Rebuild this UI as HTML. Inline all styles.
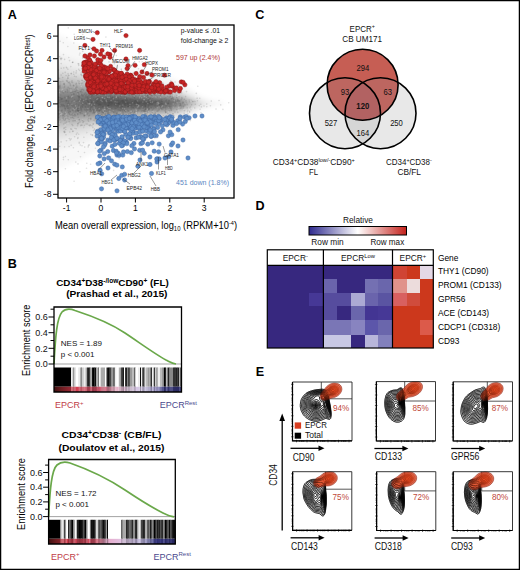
<!DOCTYPE html>
<html><head><meta charset="utf-8"><style>html,body{margin:0;padding:0;background:#fff;}svg{display:block;font-family:"Liberation Sans", sans-serif;}</style></head>
<body><svg width="520" height="570" viewBox="0 0 520 570">
<defs><filter id="blB" x="-5%" y="-5%" width="110%" height="110%"><feGaussianBlur stdDeviation="0.6 0"/></filter><clipPath id="clipA"><rect x="58" y="25" width="176" height="173"/></clipPath></defs>
<rect width="520" height="570" fill="#fff"/>
<rect x="0.6" y="0.6" width="518.8" height="568.8" fill="none" stroke="#000" stroke-width="1.3"/>
<text x="7.8" y="18.5" font-size="12.6" font-weight="bold" fill="#000">A</text>
<text x="7.8" y="267.8" font-size="12.6" font-weight="bold" fill="#000">B</text>
<text x="255.3" y="18.8" font-size="12.6" font-weight="bold" fill="#000">C</text>
<text x="255.5" y="209.6" font-size="12.6" font-weight="bold" fill="#000">D</text>
<text x="255.7" y="375.9" font-size="12.6" font-weight="bold" fill="#000">E</text>
<g clip-path="url(#clipA)">
<defs><filter id="blA" x="-10%" y="-30%" width="120%" height="160%"><feGaussianBlur stdDeviation="2.2"/></filter></defs>
<g filter="url(#blA)">
<path d="M56,34.0 59,35.0 62,36.1 65,37.1 68,39.2 71,40.2 74,42.3 77,43.3 80,44.4 83,46.4 86,48.5 89,49.5 92,51.5 95,52.6 98,54.6 101,55.7 104,56.7 107,57.8 110,58.8 113,59.9 116,60.9 119,62.0 122,63.0 125,64.0 128,65.0 131,66.0 134,67.1 137,68.1 140,69.1 143,69.1 146,70.1 149,71.1 152,72.1 155,72.2 158,73.2 161,74.2 164,74.2 167,75.2 170,76.2 173,78.2 176,79.2 179,81.3 182,83.3 185,85.3 188,87.3 191,89.3 194,91.3 197,93.3 200,95.4 203,96.4 206,97.4 209,98.4 212,99.4 215,100.4 218,100.4 221,101.4 224,102.5 227,103.5 230,103.5 233,103.5 236,103.5 236,103.5 233,103.5 230,103.5 227,103.5 224,104.5 221,105.4 218,106.4 215,106.4 212,107.4 209,108.4 206,109.4 203,110.4 200,111.4 197,113.3 194,115.3 191,117.3 188,119.3 185,121.3 182,123.3 179,125.3 176,127.2 173,128.2 170,130.2 167,131.2 164,132.2 161,132.2 158,133.2 155,134.2 152,134.1 149,135.1 146,136.1 143,137.1 140,137.1 137,138.1 134,139.1 131,140.0 128,141.0 125,142.0 122,143.0 119,144.0 116,144.9 113,145.9 110,146.8 107,147.8 104,148.7 101,149.7 98,150.6 95,152.6 92,153.5 89,155.5 86,156.5 83,158.4 80,160.4 77,161.3 74,162.3 71,164.2 68,165.2 65,167.1 62,168.1 59,169.0 56,170.0Z" fill="#000" fill-opacity="0.030"/>
<path d="M56,54.0 59,54.0 62,55.1 65,56.1 68,57.2 71,58.2 74,59.3 77,60.3 80,61.4 83,62.4 86,63.5 89,64.5 92,65.5 95,66.6 98,67.6 101,68.7 104,68.7 107,69.8 110,70.8 113,70.9 116,71.9 119,73.0 122,73.0 125,74.0 128,75.0 131,76.0 134,76.1 137,77.1 140,78.1 143,78.1 146,79.1 149,79.1 152,80.1 155,80.2 158,81.2 161,82.2 164,82.2 167,83.2 170,83.2 173,85.2 176,86.2 179,88.3 182,89.3 185,90.3 188,92.3 191,93.3 194,95.3 197,96.3 200,98.4 203,99.4 206,100.4 209,101.4 212,102.4 215,103.4 218,103.4 221,103.4 224,103.5 227,103.5 230,103.5 233,103.5 236,103.5 236,103.5 233,103.5 230,103.5 227,103.5 224,103.5 221,103.4 218,103.4 215,103.4 212,104.4 209,105.4 206,106.4 203,107.4 200,108.4 197,110.3 194,111.3 191,113.3 188,114.3 185,116.3 182,117.3 179,118.3 176,120.2 173,121.2 170,123.2 167,123.2 164,124.2 161,124.2 158,125.2 155,126.2 152,126.1 149,127.1 146,127.1 143,128.1 140,128.1 137,129.1 134,130.1 131,130.0 128,131.0 125,132.0 122,133.0 119,133.0 116,133.9 113,134.9 110,134.8 107,135.8 104,136.7 101,136.7 98,137.6 95,138.6 92,139.5 89,140.5 86,141.5 83,142.4 80,143.4 77,144.3 74,145.3 71,146.2 68,147.2 65,148.1 62,149.1 59,150.0 56,150.0Z" fill="#000" fill-opacity="0.041"/>
<path d="M56,65.0 59,65.0 62,65.1 65,66.1 68,67.2 71,68.2 74,68.3 77,69.3 80,70.4 83,71.4 86,71.5 89,72.5 92,73.5 95,74.6 98,74.6 101,75.7 104,76.7 107,76.8 110,77.8 113,77.9 116,78.9 119,79.0 122,80.0 125,80.0 128,81.0 131,82.0 134,82.1 137,83.1 140,83.1 143,84.1 146,84.1 149,85.1 152,85.1 155,85.2 158,86.2 161,86.2 164,87.2 167,87.2 170,88.2 173,89.2 176,90.2 179,91.3 182,92.3 185,93.3 188,95.3 191,96.3 194,97.3 197,98.3 200,100.4 203,101.4 206,103.4 209,103.4 212,103.4 215,103.4 218,103.4 221,103.4 224,103.5 227,103.5 230,103.5 233,103.5 236,103.5 236,103.5 233,103.5 230,103.5 227,103.5 224,103.5 221,103.4 218,103.4 215,103.4 212,103.4 209,103.4 206,103.4 203,105.4 200,106.4 197,108.3 194,109.3 191,110.3 188,111.3 185,113.3 182,114.3 179,115.3 176,116.2 173,117.2 170,118.2 167,119.2 164,119.2 161,120.2 158,120.2 155,121.2 152,121.1 149,121.1 146,122.1 143,122.1 140,123.1 137,123.1 134,124.1 131,124.0 128,125.0 125,126.0 122,126.0 119,127.0 116,126.9 113,127.9 110,127.8 107,128.8 104,128.7 101,129.7 98,130.6 95,130.6 92,131.5 89,132.5 86,133.5 83,133.4 80,134.4 77,135.3 74,136.3 71,136.2 68,137.2 65,138.1 62,139.1 59,139.0 56,139.0Z" fill="#000" fill-opacity="0.054"/>
<path d="M56,72.0 59,72.0 62,72.1 65,73.1 68,73.2 71,74.2 74,75.3 77,75.3 80,76.4 83,76.4 86,77.5 89,78.5 92,78.5 95,79.6 98,79.6 101,80.7 104,80.7 107,81.8 110,81.8 113,82.9 116,82.9 119,84.0 122,84.0 125,85.0 128,85.0 131,85.0 134,86.1 137,86.1 140,87.1 143,87.1 146,88.1 149,88.1 152,88.1 155,89.2 158,89.2 161,89.2 164,90.2 167,90.2 170,90.2 173,92.2 176,93.2 179,93.3 182,94.3 185,95.3 188,97.3 191,98.3 194,99.3 197,101.3 200,103.4 203,103.4 206,103.4 209,103.4 212,103.4 215,103.4 218,103.4 221,103.4 224,103.5 227,103.5 230,103.5 233,103.5 236,103.5 236,103.5 233,103.5 230,103.5 227,103.5 224,103.5 221,103.4 218,103.4 215,103.4 212,103.4 209,103.4 206,103.4 203,103.4 200,103.4 197,105.3 194,107.3 191,108.3 188,109.3 185,111.3 182,112.3 179,113.3 176,113.2 173,114.2 170,116.2 167,116.2 164,116.2 161,117.2 158,117.2 155,117.2 152,118.1 149,118.1 146,118.1 143,119.1 140,119.1 137,120.1 134,120.1 131,121.0 128,121.0 125,121.0 122,122.0 119,122.0 116,122.9 113,122.9 110,123.8 107,123.8 104,124.7 101,124.7 98,125.6 95,125.6 92,126.5 89,126.5 86,127.5 83,128.4 80,128.4 77,129.3 74,129.3 71,130.2 68,131.2 65,131.1 62,132.1 59,132.0 56,132.0Z" fill="#000" fill-opacity="0.068"/>
<path d="M56,77.0 59,77.0 62,78.1 65,78.1 68,79.2 71,79.2 74,79.3 77,80.3 80,80.4 83,81.4 86,81.5 89,82.5 92,82.5 95,83.6 98,83.6 101,84.7 104,84.7 107,84.8 110,85.8 113,85.9 116,85.9 119,87.0 122,87.0 125,88.0 128,88.0 131,88.0 134,89.1 137,89.1 140,89.1 143,90.1 146,90.1 149,90.1 152,91.1 155,91.2 158,91.2 161,92.2 164,92.2 167,92.2 170,93.2 173,94.2 176,94.2 179,95.3 182,96.3 185,97.3 188,98.3 191,100.3 194,101.3 197,103.3 200,103.4 203,103.4 206,103.4 209,103.4 212,103.4 215,103.4 218,103.4 221,103.4 224,103.5 227,103.5 230,103.5 233,103.5 236,103.5 236,103.5 233,103.5 230,103.5 227,103.5 224,103.5 221,103.4 218,103.4 215,103.4 212,103.4 209,103.4 206,103.4 203,103.4 200,103.4 197,103.3 194,105.3 191,106.3 188,108.3 185,109.3 182,110.3 179,111.3 176,112.2 173,112.2 170,113.2 167,114.2 164,114.2 161,114.2 158,115.2 155,115.2 152,115.1 149,116.1 146,116.1 143,116.1 140,117.1 137,117.1 134,117.1 131,118.0 128,118.0 125,118.0 122,119.0 119,119.0 116,119.9 113,119.9 110,119.8 107,120.8 104,120.7 101,120.7 98,121.6 95,121.6 92,122.5 89,122.5 86,123.5 83,123.4 80,124.4 77,124.3 74,125.3 71,125.2 68,125.2 65,126.1 62,126.1 59,127.0 56,127.0Z" fill="#000" fill-opacity="0.085"/>
<path d="M56,82.0 59,82.0 62,82.1 65,83.1 68,83.2 71,83.2 74,83.3 77,84.3 80,84.4 83,84.4 86,85.5 89,85.5 92,85.5 95,86.6 98,86.6 101,86.7 104,87.7 107,87.8 110,87.8 113,88.9 116,88.9 119,89.0 122,90.0 125,90.0 128,90.0 131,91.0 134,91.1 137,91.1 140,91.1 143,92.1 146,92.1 149,92.1 152,93.1 155,93.2 158,93.2 161,94.2 164,94.2 167,94.2 170,94.2 173,95.2 176,96.2 179,97.3 182,98.3 185,99.3 188,100.3 191,102.3 194,103.3 197,103.3 200,103.4 203,103.4 206,103.4 209,103.4 212,103.4 215,103.4 218,103.4 221,103.4 224,103.5 227,103.5 230,103.5 233,103.5 236,103.5 236,103.5 233,103.5 230,103.5 227,103.5 224,103.5 221,103.4 218,103.4 215,103.4 212,103.4 209,103.4 206,103.4 203,103.4 200,103.4 197,103.3 194,103.3 191,104.3 188,106.3 185,107.3 182,108.3 179,109.3 176,110.2 173,111.2 170,112.2 167,112.2 164,112.2 161,112.2 158,113.2 155,113.2 152,113.1 149,114.1 146,114.1 143,114.1 140,115.1 137,115.1 134,115.1 131,115.0 128,116.0 125,116.0 122,116.0 119,117.0 116,116.9 113,116.9 110,117.8 107,117.8 104,117.7 101,118.7 98,118.6 95,118.6 92,119.5 89,119.5 86,119.5 83,120.4 80,120.4 77,120.3 74,121.3 71,121.2 68,121.2 65,121.1 62,122.1 59,122.0 56,122.0Z" fill="#000" fill-opacity="0.093"/>
<path d="M56,86.0 59,86.0 62,86.1 65,87.1 68,87.2 71,87.2 74,87.3 77,87.3 80,87.4 83,88.4 86,88.5 89,88.5 92,88.5 95,88.6 98,89.6 101,89.7 104,89.7 107,89.8 110,90.8 113,90.9 116,90.9 119,91.0 122,92.0 125,92.0 128,92.0 131,92.0 134,93.1 137,93.1 140,93.1 143,93.1 146,94.1 149,94.1 152,94.1 155,95.2 158,95.2 161,95.2 164,95.2 167,96.2 170,96.2 173,97.2 176,98.2 179,98.3 182,99.3 185,100.3 188,103.3 191,103.3 194,103.3 197,103.3 200,103.4 203,103.4 206,103.4 209,103.4 212,103.4 215,103.4 218,103.4 221,103.4 224,103.5 227,103.5 230,103.5 233,103.5 236,103.5 236,103.5 233,103.5 230,103.5 227,103.5 224,103.5 221,103.4 218,103.4 215,103.4 212,103.4 209,103.4 206,103.4 203,103.4 200,103.4 197,103.3 194,103.3 191,103.3 188,103.3 185,106.3 182,107.3 179,108.3 176,108.2 173,109.2 170,110.2 167,110.2 164,111.2 161,111.2 158,111.2 155,111.2 152,112.1 149,112.1 146,112.1 143,113.1 140,113.1 137,113.1 134,113.1 131,114.0 128,114.0 125,114.0 122,114.0 119,115.0 116,114.9 113,114.9 110,114.8 107,115.8 104,115.7 101,115.7 98,115.6 95,116.6 92,116.5 89,116.5 86,116.5 83,116.4 80,117.4 77,117.3 74,117.3 71,117.2 68,117.2 65,117.1 62,118.1 59,118.0 56,118.0Z" fill="#000" fill-opacity="0.103"/>
<path d="M56,91.0 59,91.0 62,91.1 65,91.1 68,91.2 71,91.2 74,91.3 77,91.3 80,91.4 83,91.4 86,91.5 89,91.5 92,91.5 95,91.6 98,91.6 101,91.7 104,91.7 107,91.8 110,92.8 113,92.9 116,92.9 119,93.0 122,93.0 125,94.0 128,94.0 131,94.0 134,94.1 137,95.1 140,95.1 143,95.1 146,95.1 149,96.1 152,96.1 155,96.2 158,96.2 161,96.2 164,97.2 167,97.2 170,97.2 173,98.2 176,99.2 179,100.3 182,101.3 185,103.3 188,103.3 191,103.3 194,103.3 197,103.3 200,103.4 203,103.4 206,103.4 209,103.4 212,103.4 215,103.4 218,103.4 221,103.4 224,103.5 227,103.5 230,103.5 233,103.5 236,103.5 236,103.5 233,103.5 230,103.5 227,103.5 224,103.5 221,103.4 218,103.4 215,103.4 212,103.4 209,103.4 206,103.4 203,103.4 200,103.4 197,103.3 194,103.3 191,103.3 188,103.3 185,103.3 182,105.3 179,106.3 176,107.2 173,108.2 170,109.2 167,109.2 164,109.2 161,110.2 158,110.2 155,110.2 152,110.1 149,110.1 146,111.1 143,111.1 140,111.1 137,111.1 134,112.1 131,112.0 128,112.0 125,112.0 122,113.0 119,113.0 116,112.9 113,112.9 110,112.8 107,113.8 104,113.7 101,113.7 98,113.6 95,113.6 92,113.5 89,113.5 86,113.5 83,113.4 80,113.4 77,113.3 74,113.3 71,113.2 68,113.2 65,113.1 62,113.1 59,113.0 56,113.0Z" fill="#000" fill-opacity="0.115"/>
<path d="M56,97.0 59,97.0 62,96.1 65,96.1 68,95.2 71,95.2 74,95.3 77,94.3 80,94.4 83,94.4 86,94.5 89,94.5 92,93.5 95,93.6 98,93.6 101,93.7 104,93.7 107,94.8 110,94.8 113,94.9 116,94.9 119,95.0 122,95.0 125,96.0 128,96.0 131,96.0 134,96.1 137,96.1 140,96.1 143,97.1 146,97.1 149,97.1 152,97.1 155,98.2 158,98.2 161,98.2 164,98.2 167,98.2 170,99.2 173,100.2 176,101.2 179,103.3 182,103.3 185,103.3 188,103.3 191,103.3 194,103.3 197,103.3 200,103.4 203,103.4 206,103.4 209,103.4 212,103.4 215,103.4 218,103.4 221,103.4 224,103.5 227,103.5 230,103.5 233,103.5 236,103.5 236,103.5 233,103.5 230,103.5 227,103.5 224,103.5 221,103.4 218,103.4 215,103.4 212,103.4 209,103.4 206,103.4 203,103.4 200,103.4 197,103.3 194,103.3 191,103.3 188,103.3 185,103.3 182,103.3 179,103.3 176,105.2 173,106.2 170,107.2 167,108.2 164,108.2 161,108.2 158,108.2 155,108.2 152,109.1 149,109.1 146,109.1 143,109.1 140,110.1 137,110.1 134,110.1 131,110.0 128,110.0 125,110.0 122,111.0 119,111.0 116,110.9 113,110.9 110,110.8 107,110.8 104,111.7 101,111.7 98,111.6 95,111.6 92,111.5 89,110.5 86,110.5 83,110.4 80,110.4 77,110.3 74,109.3 71,109.2 68,109.2 65,108.1 62,108.1 59,107.0 56,107.0Z" fill="#000" fill-opacity="0.130"/>
<path d="M56,102.0 59,102.0 62,102.1 65,102.1 68,102.2 71,102.2 74,102.3 77,102.3 80,100.4 83,99.4 86,98.5 89,97.5 92,97.5 95,96.6 98,96.6 101,96.7 104,96.7 107,96.8 110,96.8 113,96.9 116,96.9 119,97.0 122,97.0 125,97.0 128,98.0 131,98.0 134,98.1 137,98.1 140,98.1 143,98.1 146,98.1 149,99.1 152,99.1 155,99.2 158,99.2 161,100.2 164,100.2 167,100.2 170,100.2 173,102.2 176,103.2 179,103.3 182,103.3 185,103.3 188,103.3 191,103.3 194,103.3 197,103.3 200,103.4 203,103.4 206,103.4 209,103.4 212,103.4 215,103.4 218,103.4 221,103.4 224,103.5 227,103.5 230,103.5 233,103.5 236,103.5 236,103.5 233,103.5 230,103.5 227,103.5 224,103.5 221,103.4 218,103.4 215,103.4 212,103.4 209,103.4 206,103.4 203,103.4 200,103.4 197,103.3 194,103.3 191,103.3 188,103.3 185,103.3 182,103.3 179,103.3 176,103.2 173,104.2 170,106.2 167,106.2 164,106.2 161,106.2 158,107.2 155,107.2 152,107.1 149,107.1 146,108.1 143,108.1 140,108.1 137,108.1 134,108.1 131,108.0 128,108.0 125,109.0 122,109.0 119,109.0 116,108.9 113,108.9 110,108.8 107,108.8 104,108.7 101,108.7 98,108.6 95,108.6 92,107.5 89,107.5 86,106.5 83,105.4 80,104.4 77,102.3 74,102.3 71,102.2 68,102.2 65,102.1 62,102.1 59,102.0 56,102.0Z" fill="#000" fill-opacity="0.149"/>
<path d="M56,102.0 59,102.0 62,102.1 65,102.1 68,102.2 71,102.2 74,102.3 77,102.3 80,102.4 83,102.4 86,102.5 89,102.5 92,102.5 95,101.6 98,99.6 101,99.7 104,99.7 107,99.8 110,99.8 113,99.9 116,99.9 119,100.0 122,100.0 125,100.0 128,100.0 131,100.0 134,100.1 137,100.1 140,100.1 143,100.1 146,101.1 149,101.1 152,101.1 155,102.2 158,102.2 161,102.2 164,103.2 167,103.2 170,103.2 173,103.2 176,103.2 179,103.3 182,103.3 185,103.3 188,103.3 191,103.3 194,103.3 197,103.3 200,103.4 203,103.4 206,103.4 209,103.4 212,103.4 215,103.4 218,103.4 221,103.4 224,103.5 227,103.5 230,103.5 233,103.5 236,103.5 236,103.5 233,103.5 230,103.5 227,103.5 224,103.5 221,103.4 218,103.4 215,103.4 212,103.4 209,103.4 206,103.4 203,103.4 200,103.4 197,103.3 194,103.3 191,103.3 188,103.3 185,103.3 182,103.3 179,103.3 176,103.2 173,103.2 170,103.2 167,103.2 164,103.2 161,104.2 158,104.2 155,104.2 152,105.1 149,105.1 146,105.1 143,106.1 140,106.1 137,106.1 134,106.1 131,106.0 128,106.0 125,106.0 122,106.0 119,106.0 116,105.9 113,105.9 110,105.8 107,105.8 104,105.7 101,105.7 98,105.6 95,103.6 92,102.5 89,102.5 86,102.5 83,102.4 80,102.4 77,102.3 74,102.3 71,102.2 68,102.2 65,102.1 62,102.1 59,102.0 56,102.0Z" fill="#000" fill-opacity="0.175"/>
</g>
<g fill="#444" fill-opacity="0.16">
<circle cx="70.7" cy="117.7" r="0.8"/><circle cx="68.2" cy="112.8" r="0.8"/><circle cx="177.8" cy="99.0" r="0.8"/><circle cx="161.1" cy="103.4" r="0.8"/><circle cx="78.8" cy="97.3" r="0.8"/><circle cx="84.7" cy="109.6" r="0.8"/><circle cx="108.1" cy="91.7" r="0.8"/><circle cx="62.0" cy="104.9" r="0.8"/><circle cx="99.1" cy="108.9" r="0.8"/><circle cx="127.1" cy="94.0" r="0.8"/><circle cx="75.9" cy="87.9" r="0.8"/><circle cx="102.4" cy="85.1" r="0.8"/><circle cx="140.0" cy="108.7" r="0.8"/><circle cx="76.0" cy="84.3" r="0.8"/><circle cx="104.0" cy="88.4" r="0.8"/><circle cx="149.1" cy="86.5" r="0.8"/><circle cx="62.9" cy="73.3" r="0.8"/><circle cx="190.0" cy="107.7" r="0.8"/><circle cx="103.6" cy="97.5" r="0.8"/><circle cx="88.3" cy="106.9" r="0.8"/><circle cx="165.8" cy="112.5" r="0.8"/><circle cx="179.9" cy="103.3" r="0.8"/><circle cx="70.8" cy="66.6" r="0.8"/><circle cx="86.4" cy="99.7" r="0.8"/><circle cx="167.8" cy="113.6" r="0.8"/><circle cx="76.4" cy="70.9" r="0.8"/><circle cx="61.2" cy="68.3" r="0.8"/><circle cx="129.2" cy="85.1" r="0.8"/><circle cx="112.5" cy="86.7" r="0.8"/><circle cx="125.2" cy="107.1" r="0.8"/><circle cx="93.4" cy="112.3" r="0.8"/><circle cx="111.6" cy="123.2" r="0.8"/><circle cx="148.9" cy="105.4" r="0.8"/><circle cx="216.0" cy="109.1" r="0.8"/><circle cx="58.6" cy="110.1" r="0.8"/><circle cx="113.6" cy="170.4" r="0.8"/><circle cx="109.0" cy="89.4" r="0.8"/><circle cx="133.3" cy="72.6" r="0.8"/><circle cx="82.6" cy="58.3" r="0.8"/><circle cx="150.3" cy="90.2" r="0.8"/><circle cx="80.2" cy="112.1" r="0.8"/><circle cx="101.7" cy="94.2" r="0.8"/><circle cx="138.5" cy="120.4" r="0.8"/><circle cx="160.6" cy="92.1" r="0.8"/><circle cx="176.7" cy="97.7" r="0.8"/><circle cx="64.0" cy="83.5" r="0.8"/><circle cx="124.6" cy="89.7" r="0.8"/><circle cx="66.7" cy="106.9" r="0.8"/><circle cx="113.7" cy="72.7" r="0.8"/><circle cx="182.9" cy="102.3" r="0.8"/><circle cx="123.3" cy="112.3" r="0.8"/><circle cx="77.1" cy="109.9" r="0.8"/><circle cx="149.1" cy="91.4" r="0.8"/><circle cx="111.9" cy="97.7" r="0.8"/><circle cx="195.3" cy="104.3" r="0.8"/><circle cx="147.1" cy="80.2" r="0.8"/><circle cx="192.6" cy="101.5" r="0.8"/><circle cx="166.4" cy="99.8" r="0.8"/><circle cx="151.5" cy="95.2" r="0.8"/><circle cx="68.3" cy="159.7" r="0.8"/><circle cx="112.5" cy="76.9" r="0.8"/><circle cx="95.3" cy="132.7" r="0.8"/><circle cx="144.4" cy="110.0" r="0.8"/><circle cx="90.5" cy="110.6" r="0.8"/><circle cx="99.1" cy="104.7" r="0.8"/><circle cx="119.3" cy="81.5" r="0.8"/><circle cx="87.8" cy="100.9" r="0.8"/><circle cx="115.5" cy="115.3" r="0.8"/><circle cx="92.5" cy="135.4" r="0.8"/><circle cx="94.3" cy="92.2" r="0.8"/><circle cx="113.1" cy="133.7" r="0.8"/><circle cx="169.6" cy="106.2" r="0.8"/><circle cx="102.6" cy="98.7" r="0.8"/><circle cx="68.3" cy="105.8" r="0.8"/><circle cx="144.5" cy="111.2" r="0.8"/><circle cx="122.4" cy="107.1" r="0.8"/><circle cx="114.1" cy="99.5" r="0.8"/><circle cx="60.5" cy="92.0" r="0.8"/><circle cx="95.4" cy="51.3" r="0.8"/><circle cx="58.8" cy="143.3" r="0.8"/><circle cx="157.3" cy="94.6" r="0.8"/><circle cx="118.7" cy="114.9" r="0.8"/><circle cx="163.3" cy="93.7" r="0.8"/><circle cx="127.2" cy="102.6" r="0.8"/><circle cx="168.6" cy="103.3" r="0.8"/><circle cx="83.1" cy="63.3" r="0.8"/><circle cx="90.7" cy="100.3" r="0.8"/><circle cx="96.4" cy="123.8" r="0.8"/><circle cx="165.1" cy="110.7" r="0.8"/><circle cx="86.8" cy="89.2" r="0.8"/><circle cx="58.8" cy="114.9" r="0.8"/><circle cx="145.1" cy="113.8" r="0.8"/><circle cx="79.7" cy="110.4" r="0.8"/><circle cx="126.4" cy="97.7" r="0.8"/><circle cx="117.0" cy="100.4" r="0.8"/><circle cx="102.1" cy="115.0" r="0.8"/><circle cx="140.1" cy="117.4" r="0.8"/><circle cx="211.3" cy="101.1" r="0.8"/><circle cx="126.3" cy="101.1" r="0.8"/><circle cx="145.9" cy="101.8" r="0.8"/><circle cx="92.6" cy="111.1" r="0.8"/><circle cx="119.4" cy="102.8" r="0.8"/><circle cx="100.8" cy="92.4" r="0.8"/><circle cx="88.5" cy="87.0" r="0.8"/><circle cx="78.2" cy="117.3" r="0.8"/><circle cx="148.3" cy="118.9" r="0.8"/><circle cx="81.3" cy="72.8" r="0.8"/><circle cx="178.4" cy="85.4" r="0.8"/><circle cx="66.3" cy="67.3" r="0.8"/><circle cx="80.5" cy="156.8" r="0.8"/><circle cx="121.0" cy="96.2" r="0.8"/><circle cx="148.7" cy="102.0" r="0.8"/><circle cx="83.0" cy="122.4" r="0.8"/><circle cx="65.0" cy="101.0" r="0.8"/><circle cx="102.3" cy="109.6" r="0.8"/><circle cx="97.9" cy="124.1" r="0.8"/><circle cx="148.3" cy="126.8" r="0.8"/><circle cx="65.7" cy="129.5" r="0.8"/><circle cx="92.0" cy="102.3" r="0.8"/><circle cx="71.4" cy="82.0" r="0.8"/><circle cx="87.9" cy="87.5" r="0.8"/><circle cx="159.6" cy="92.1" r="0.8"/><circle cx="59.1" cy="125.2" r="0.8"/><circle cx="154.9" cy="95.2" r="0.8"/><circle cx="142.7" cy="88.5" r="0.8"/><circle cx="99.3" cy="85.4" r="0.8"/><circle cx="106.6" cy="69.6" r="0.8"/><circle cx="96.4" cy="94.1" r="0.8"/><circle cx="68.1" cy="96.7" r="0.8"/><circle cx="68.6" cy="111.8" r="0.8"/><circle cx="104.2" cy="100.0" r="0.8"/><circle cx="98.8" cy="99.5" r="0.8"/><circle cx="81.9" cy="99.1" r="0.8"/><circle cx="147.5" cy="95.6" r="0.8"/><circle cx="125.8" cy="95.9" r="0.8"/><circle cx="85.1" cy="68.5" r="0.8"/><circle cx="117.9" cy="90.9" r="0.8"/><circle cx="93.4" cy="123.7" r="0.8"/><circle cx="93.5" cy="98.2" r="0.8"/><circle cx="166.7" cy="89.3" r="0.8"/><circle cx="110.0" cy="95.6" r="0.8"/><circle cx="175.1" cy="82.0" r="0.8"/><circle cx="183.1" cy="108.5" r="0.8"/><circle cx="103.2" cy="59.9" r="0.8"/><circle cx="151.8" cy="95.7" r="0.8"/><circle cx="162.2" cy="103.6" r="0.8"/><circle cx="134.3" cy="135.6" r="0.8"/><circle cx="114.1" cy="122.0" r="0.8"/><circle cx="74.5" cy="105.4" r="0.8"/><circle cx="116.6" cy="102.8" r="0.8"/><circle cx="162.8" cy="104.8" r="0.8"/><circle cx="81.2" cy="125.0" r="0.8"/><circle cx="78.6" cy="110.8" r="0.8"/><circle cx="78.7" cy="105.9" r="0.8"/><circle cx="152.2" cy="112.7" r="0.8"/><circle cx="92.8" cy="94.8" r="0.8"/><circle cx="63.4" cy="93.0" r="0.8"/><circle cx="99.6" cy="110.2" r="0.8"/><circle cx="79.2" cy="143.2" r="0.8"/><circle cx="81.5" cy="83.6" r="0.8"/><circle cx="95.5" cy="63.7" r="0.8"/><circle cx="68.4" cy="102.1" r="0.8"/><circle cx="63.4" cy="159.6" r="0.8"/><circle cx="146.8" cy="98.3" r="0.8"/><circle cx="128.4" cy="113.6" r="0.8"/><circle cx="81.5" cy="103.5" r="0.8"/><circle cx="182.7" cy="103.7" r="0.8"/><circle cx="91.4" cy="94.7" r="0.8"/><circle cx="94.8" cy="68.6" r="0.8"/><circle cx="161.0" cy="90.6" r="0.8"/><circle cx="67.5" cy="106.4" r="0.8"/><circle cx="98.3" cy="92.9" r="0.8"/><circle cx="109.2" cy="93.7" r="0.8"/><circle cx="200.8" cy="104.2" r="0.8"/><circle cx="149.5" cy="103.8" r="0.8"/><circle cx="110.9" cy="85.3" r="0.8"/><circle cx="111.4" cy="95.7" r="0.8"/><circle cx="96.5" cy="91.5" r="0.8"/><circle cx="170.9" cy="106.6" r="0.8"/><circle cx="78.4" cy="104.6" r="0.8"/><circle cx="172.9" cy="114.0" r="0.8"/><circle cx="99.2" cy="111.3" r="0.8"/><circle cx="72.4" cy="62.5" r="0.8"/><circle cx="128.8" cy="142.5" r="0.8"/><circle cx="114.6" cy="95.4" r="0.8"/><circle cx="86.5" cy="168.2" r="0.8"/><circle cx="61.1" cy="75.1" r="0.8"/><circle cx="173.0" cy="113.7" r="0.8"/><circle cx="95.8" cy="71.0" r="0.8"/><circle cx="81.9" cy="95.3" r="0.8"/><circle cx="61.1" cy="141.9" r="0.8"/><circle cx="105.9" cy="37.1" r="0.8"/><circle cx="88.5" cy="145.4" r="0.8"/><circle cx="117.0" cy="115.4" r="0.8"/><circle cx="131.5" cy="107.8" r="0.8"/><circle cx="118.1" cy="110.1" r="0.8"/><circle cx="91.9" cy="125.8" r="0.8"/><circle cx="147.2" cy="115.2" r="0.8"/><circle cx="108.8" cy="105.5" r="0.8"/><circle cx="104.8" cy="88.3" r="0.8"/><circle cx="120.1" cy="90.4" r="0.8"/><circle cx="149.3" cy="108.7" r="0.8"/><circle cx="184.3" cy="99.3" r="0.8"/><circle cx="90.9" cy="119.6" r="0.8"/><circle cx="148.3" cy="106.0" r="0.8"/><circle cx="113.6" cy="112.3" r="0.8"/><circle cx="142.4" cy="101.1" r="0.8"/><circle cx="92.8" cy="127.4" r="0.8"/><circle cx="142.4" cy="110.8" r="0.8"/><circle cx="116.5" cy="92.0" r="0.8"/><circle cx="61.8" cy="58.4" r="0.8"/><circle cx="67.8" cy="46.5" r="0.8"/><circle cx="88.8" cy="91.3" r="0.8"/><circle cx="113.7" cy="90.2" r="0.8"/><circle cx="76.1" cy="72.9" r="0.8"/><circle cx="75.2" cy="110.4" r="0.8"/><circle cx="83.5" cy="142.6" r="0.8"/><circle cx="90.7" cy="111.5" r="0.8"/><circle cx="155.5" cy="95.1" r="0.8"/><circle cx="82.1" cy="106.4" r="0.8"/><circle cx="105.1" cy="88.6" r="0.8"/><circle cx="94.2" cy="112.8" r="0.8"/><circle cx="130.6" cy="119.0" r="0.8"/><circle cx="68.2" cy="98.1" r="0.8"/><circle cx="72.5" cy="82.4" r="0.8"/><circle cx="172.2" cy="98.3" r="0.8"/><circle cx="184.2" cy="113.3" r="0.8"/><circle cx="175.8" cy="100.0" r="0.8"/><circle cx="74.1" cy="181.2" r="0.8"/><circle cx="97.2" cy="93.9" r="0.8"/><circle cx="97.2" cy="94.3" r="0.8"/><circle cx="75.6" cy="111.9" r="0.8"/><circle cx="201.4" cy="106.9" r="0.8"/><circle cx="77.9" cy="80.7" r="0.8"/><circle cx="125.0" cy="141.2" r="0.8"/><circle cx="106.8" cy="112.0" r="0.8"/><circle cx="98.4" cy="83.3" r="0.8"/><circle cx="162.8" cy="69.2" r="0.8"/><circle cx="126.6" cy="90.6" r="0.8"/><circle cx="159.1" cy="80.7" r="0.8"/><circle cx="112.8" cy="97.0" r="0.8"/><circle cx="161.4" cy="90.3" r="0.8"/><circle cx="67.6" cy="90.8" r="0.8"/><circle cx="139.3" cy="61.8" r="0.8"/><circle cx="134.1" cy="112.8" r="0.8"/><circle cx="87.8" cy="113.3" r="0.8"/><circle cx="117.6" cy="97.2" r="0.8"/><circle cx="121.5" cy="94.6" r="0.8"/><circle cx="145.5" cy="106.7" r="0.8"/><circle cx="113.3" cy="120.3" r="0.8"/><circle cx="97.1" cy="101.6" r="0.8"/><circle cx="122.8" cy="113.2" r="0.8"/><circle cx="129.5" cy="115.8" r="0.8"/><circle cx="90.2" cy="124.9" r="0.8"/><circle cx="66.9" cy="68.0" r="0.8"/><circle cx="78.1" cy="63.7" r="0.8"/><circle cx="135.6" cy="100.6" r="0.8"/><circle cx="61.9" cy="101.4" r="0.8"/><circle cx="163.1" cy="83.3" r="0.8"/><circle cx="78.3" cy="151.5" r="0.8"/><circle cx="146.2" cy="96.8" r="0.8"/><circle cx="125.4" cy="100.3" r="0.8"/><circle cx="84.9" cy="114.8" r="0.8"/><circle cx="156.7" cy="97.0" r="0.8"/><circle cx="80.3" cy="106.9" r="0.8"/><circle cx="84.6" cy="63.5" r="0.8"/><circle cx="106.9" cy="111.0" r="0.8"/><circle cx="158.2" cy="114.2" r="0.8"/><circle cx="95.3" cy="83.2" r="0.8"/><circle cx="60.1" cy="100.3" r="0.8"/><circle cx="79.9" cy="171.7" r="0.8"/><circle cx="71.4" cy="103.3" r="0.8"/><circle cx="60.1" cy="41.2" r="0.8"/><circle cx="104.1" cy="132.4" r="0.8"/><circle cx="159.5" cy="90.5" r="0.8"/><circle cx="63.1" cy="104.6" r="0.8"/><circle cx="101.5" cy="114.3" r="0.8"/><circle cx="69.3" cy="82.0" r="0.8"/><circle cx="80.4" cy="91.6" r="0.8"/><circle cx="170.4" cy="108.1" r="0.8"/><circle cx="190.4" cy="106.0" r="0.8"/><circle cx="124.0" cy="96.7" r="0.8"/><circle cx="152.6" cy="117.2" r="0.8"/><circle cx="60.3" cy="101.9" r="0.8"/><circle cx="191.0" cy="109.7" r="0.8"/><circle cx="119.7" cy="111.2" r="0.8"/><circle cx="65.2" cy="72.4" r="0.8"/><circle cx="84.2" cy="116.4" r="0.8"/><circle cx="144.8" cy="110.0" r="0.8"/><circle cx="100.1" cy="104.5" r="0.8"/><circle cx="60.9" cy="81.8" r="0.8"/><circle cx="79.8" cy="97.3" r="0.8"/><circle cx="80.7" cy="98.7" r="0.8"/><circle cx="126.8" cy="98.8" r="0.8"/><circle cx="162.2" cy="88.5" r="0.8"/><circle cx="108.3" cy="105.5" r="0.8"/><circle cx="77.5" cy="96.0" r="0.8"/><circle cx="170.3" cy="84.3" r="0.8"/><circle cx="79.9" cy="122.0" r="0.8"/><circle cx="104.1" cy="100.9" r="0.8"/><circle cx="139.1" cy="116.1" r="0.8"/><circle cx="148.4" cy="107.4" r="0.8"/><circle cx="65.4" cy="168.7" r="0.8"/><circle cx="80.3" cy="91.6" r="0.8"/><circle cx="78.7" cy="69.2" r="0.8"/><circle cx="153.0" cy="96.0" r="0.8"/><circle cx="156.3" cy="101.9" r="0.8"/><circle cx="67.9" cy="116.4" r="0.8"/><circle cx="183.7" cy="106.5" r="0.8"/><circle cx="59.1" cy="86.1" r="0.8"/><circle cx="104.4" cy="122.0" r="0.8"/><circle cx="102.8" cy="88.5" r="0.8"/><circle cx="162.1" cy="99.2" r="0.8"/><circle cx="61.3" cy="99.6" r="0.8"/><circle cx="71.2" cy="145.2" r="0.8"/><circle cx="97.2" cy="101.0" r="0.8"/><circle cx="86.6" cy="94.6" r="0.8"/><circle cx="175.9" cy="89.1" r="0.8"/><circle cx="62.8" cy="116.0" r="0.8"/><circle cx="150.2" cy="97.9" r="0.8"/><circle cx="117.9" cy="85.4" r="0.8"/><circle cx="58.7" cy="97.2" r="0.8"/><circle cx="79.2" cy="81.2" r="0.8"/><circle cx="68.6" cy="100.2" r="0.8"/><circle cx="61.5" cy="110.5" r="0.8"/><circle cx="103.6" cy="91.1" r="0.8"/><circle cx="58.4" cy="70.0" r="0.8"/><circle cx="115.1" cy="96.7" r="0.8"/><circle cx="187.9" cy="110.3" r="0.8"/><circle cx="79.5" cy="111.7" r="0.8"/><circle cx="162.1" cy="116.6" r="0.8"/><circle cx="62.6" cy="106.3" r="0.8"/><circle cx="119.3" cy="111.5" r="0.8"/><circle cx="152.0" cy="125.7" r="0.8"/><circle cx="71.2" cy="96.7" r="0.8"/><circle cx="142.5" cy="106.1" r="0.8"/><circle cx="82.1" cy="113.6" r="0.8"/><circle cx="139.0" cy="106.3" r="0.8"/><circle cx="76.4" cy="103.9" r="0.8"/><circle cx="148.8" cy="118.3" r="0.8"/><circle cx="160.1" cy="102.2" r="0.8"/><circle cx="97.2" cy="138.0" r="0.8"/><circle cx="89.9" cy="125.7" r="0.8"/><circle cx="145.9" cy="86.5" r="0.8"/><circle cx="117.3" cy="101.4" r="0.8"/><circle cx="96.2" cy="69.4" r="0.8"/><circle cx="222.9" cy="109.4" r="0.8"/><circle cx="147.6" cy="107.3" r="0.8"/><circle cx="73.4" cy="105.2" r="0.8"/><circle cx="90.0" cy="82.4" r="0.8"/><circle cx="125.6" cy="120.5" r="0.8"/><circle cx="130.3" cy="87.6" r="0.8"/><circle cx="122.0" cy="106.8" r="0.8"/><circle cx="92.3" cy="134.9" r="0.8"/><circle cx="169.0" cy="101.1" r="0.8"/><circle cx="191.0" cy="100.3" r="0.8"/><circle cx="128.8" cy="115.1" r="0.8"/><circle cx="113.9" cy="117.3" r="0.8"/><circle cx="109.3" cy="104.0" r="0.8"/><circle cx="123.7" cy="135.5" r="0.8"/><circle cx="123.5" cy="113.7" r="0.8"/><circle cx="134.8" cy="98.5" r="0.8"/><circle cx="155.7" cy="81.3" r="0.8"/><circle cx="132.0" cy="112.4" r="0.8"/><circle cx="174.2" cy="115.3" r="0.8"/><circle cx="96.2" cy="95.3" r="0.8"/><circle cx="153.6" cy="86.1" r="0.8"/><circle cx="185.9" cy="102.6" r="0.8"/><circle cx="97.4" cy="108.6" r="0.8"/><circle cx="105.8" cy="113.4" r="0.8"/><circle cx="99.0" cy="128.4" r="0.8"/><circle cx="107.8" cy="105.9" r="0.8"/><circle cx="72.9" cy="106.5" r="0.8"/><circle cx="87.9" cy="80.5" r="0.8"/><circle cx="77.8" cy="114.8" r="0.8"/><circle cx="128.4" cy="111.3" r="0.8"/><circle cx="94.2" cy="105.9" r="0.8"/><circle cx="100.4" cy="107.2" r="0.8"/><circle cx="65.9" cy="102.8" r="0.8"/><circle cx="112.6" cy="97.9" r="0.8"/><circle cx="101.9" cy="111.9" r="0.8"/><circle cx="102.6" cy="106.8" r="0.8"/><circle cx="74.6" cy="136.8" r="0.8"/><circle cx="148.9" cy="62.0" r="0.8"/><circle cx="94.8" cy="112.9" r="0.8"/><circle cx="160.0" cy="104.6" r="0.8"/><circle cx="173.0" cy="119.9" r="0.8"/><circle cx="107.9" cy="98.2" r="0.8"/><circle cx="83.5" cy="127.4" r="0.8"/><circle cx="64.9" cy="120.4" r="0.8"/><circle cx="64.8" cy="105.7" r="0.8"/><circle cx="63.8" cy="119.7" r="0.8"/><circle cx="117.0" cy="93.2" r="0.8"/><circle cx="77.9" cy="123.7" r="0.8"/><circle cx="71.0" cy="97.5" r="0.8"/><circle cx="58.0" cy="97.4" r="0.8"/><circle cx="110.7" cy="116.0" r="0.8"/><circle cx="134.9" cy="116.1" r="0.8"/><circle cx="72.7" cy="115.5" r="0.8"/><circle cx="131.6" cy="105.9" r="0.8"/><circle cx="71.1" cy="73.4" r="0.8"/><circle cx="183.2" cy="102.6" r="0.8"/><circle cx="160.4" cy="109.2" r="0.8"/><circle cx="60.0" cy="85.9" r="0.8"/><circle cx="78.7" cy="63.9" r="0.8"/><circle cx="144.5" cy="103.4" r="0.8"/><circle cx="81.0" cy="74.4" r="0.8"/><circle cx="134.9" cy="103.1" r="0.8"/><circle cx="106.3" cy="90.3" r="0.8"/><circle cx="150.8" cy="75.9" r="0.8"/><circle cx="123.0" cy="116.0" r="0.8"/><circle cx="161.3" cy="104.4" r="0.8"/><circle cx="88.6" cy="108.9" r="0.8"/><circle cx="98.5" cy="137.5" r="0.8"/><circle cx="145.6" cy="89.4" r="0.8"/><circle cx="69.8" cy="132.0" r="0.8"/><circle cx="128.5" cy="98.0" r="0.8"/><circle cx="151.6" cy="92.1" r="0.8"/><circle cx="150.7" cy="86.5" r="0.8"/><circle cx="145.0" cy="107.3" r="0.8"/><circle cx="134.3" cy="129.6" r="0.8"/><circle cx="145.9" cy="114.0" r="0.8"/><circle cx="144.2" cy="104.2" r="0.8"/><circle cx="125.2" cy="111.4" r="0.8"/><circle cx="58.7" cy="86.8" r="0.8"/><circle cx="90.5" cy="118.7" r="0.8"/><circle cx="167.7" cy="96.3" r="0.8"/><circle cx="112.7" cy="68.5" r="0.8"/><circle cx="66.5" cy="140.7" r="0.8"/><circle cx="118.6" cy="99.9" r="0.8"/><circle cx="91.1" cy="107.6" r="0.8"/><circle cx="102.5" cy="112.3" r="0.8"/><circle cx="88.7" cy="118.5" r="0.8"/><circle cx="84.6" cy="94.3" r="0.8"/><circle cx="96.8" cy="137.6" r="0.8"/><circle cx="87.3" cy="103.9" r="0.8"/><circle cx="90.6" cy="107.5" r="0.8"/><circle cx="148.3" cy="99.4" r="0.8"/><circle cx="109.3" cy="103.1" r="0.8"/><circle cx="92.7" cy="79.9" r="0.8"/><circle cx="78.8" cy="83.1" r="0.8"/><circle cx="89.8" cy="104.8" r="0.8"/><circle cx="74.9" cy="128.5" r="0.8"/><circle cx="125.2" cy="95.2" r="0.8"/><circle cx="103.1" cy="94.8" r="0.8"/><circle cx="189.6" cy="112.3" r="0.8"/><circle cx="119.4" cy="123.7" r="0.8"/><circle cx="153.9" cy="95.8" r="0.8"/><circle cx="144.1" cy="101.8" r="0.8"/><circle cx="84.4" cy="125.4" r="0.8"/><circle cx="125.2" cy="105.5" r="0.8"/><circle cx="120.5" cy="102.0" r="0.8"/><circle cx="194.7" cy="108.0" r="0.8"/><circle cx="126.8" cy="135.5" r="0.8"/><circle cx="134.5" cy="111.6" r="0.8"/><circle cx="63.3" cy="42.8" r="0.8"/><circle cx="74.5" cy="76.2" r="0.8"/><circle cx="109.0" cy="61.9" r="0.8"/><circle cx="164.3" cy="98.6" r="0.8"/><circle cx="135.1" cy="105.8" r="0.8"/><circle cx="85.4" cy="110.2" r="0.8"/><circle cx="106.2" cy="95.8" r="0.8"/><circle cx="104.0" cy="94.5" r="0.8"/><circle cx="180.7" cy="92.5" r="0.8"/><circle cx="122.0" cy="81.3" r="0.8"/><circle cx="158.0" cy="121.6" r="0.8"/><circle cx="142.2" cy="61.8" r="0.8"/><circle cx="82.7" cy="96.2" r="0.8"/><circle cx="134.9" cy="103.4" r="0.8"/><circle cx="157.0" cy="88.7" r="0.8"/><circle cx="164.5" cy="118.8" r="0.8"/><circle cx="78.9" cy="96.7" r="0.8"/><circle cx="61.3" cy="98.7" r="0.8"/><circle cx="119.9" cy="93.5" r="0.8"/><circle cx="103.0" cy="77.0" r="0.8"/><circle cx="154.9" cy="138.4" r="0.8"/><circle cx="134.3" cy="102.5" r="0.8"/><circle cx="59.7" cy="120.4" r="0.8"/><circle cx="166.9" cy="118.4" r="0.8"/><circle cx="153.7" cy="96.6" r="0.8"/><circle cx="74.9" cy="114.7" r="0.8"/><circle cx="75.6" cy="120.7" r="0.8"/><circle cx="154.7" cy="94.3" r="0.8"/><circle cx="73.7" cy="74.2" r="0.8"/><circle cx="131.2" cy="124.1" r="0.8"/><circle cx="79.3" cy="119.9" r="0.8"/><circle cx="130.3" cy="99.9" r="0.8"/><circle cx="72.9" cy="62.3" r="0.8"/><circle cx="161.3" cy="94.1" r="0.8"/><circle cx="133.0" cy="99.8" r="0.8"/><circle cx="142.6" cy="124.3" r="0.8"/><circle cx="108.4" cy="93.3" r="0.8"/><circle cx="178.9" cy="101.3" r="0.8"/><circle cx="98.2" cy="108.5" r="0.8"/><circle cx="175.3" cy="102.4" r="0.8"/><circle cx="150.9" cy="84.8" r="0.8"/><circle cx="180.3" cy="105.3" r="0.8"/><circle cx="95.8" cy="106.4" r="0.8"/><circle cx="125.9" cy="103.3" r="0.8"/><circle cx="184.9" cy="104.4" r="0.8"/><circle cx="134.9" cy="122.4" r="0.8"/><circle cx="128.2" cy="84.3" r="0.8"/><circle cx="157.4" cy="104.5" r="0.8"/><circle cx="148.7" cy="102.9" r="0.8"/><circle cx="125.8" cy="105.3" r="0.8"/><circle cx="193.7" cy="116.4" r="0.8"/><circle cx="108.9" cy="103.0" r="0.8"/><circle cx="77.2" cy="133.0" r="0.8"/><circle cx="91.2" cy="101.9" r="0.8"/><circle cx="184.5" cy="110.8" r="0.8"/><circle cx="130.0" cy="113.1" r="0.8"/><circle cx="179.1" cy="96.8" r="0.8"/><circle cx="90.2" cy="109.5" r="0.8"/><circle cx="106.4" cy="132.1" r="0.8"/><circle cx="75.8" cy="115.8" r="0.8"/><circle cx="59.7" cy="116.8" r="0.8"/><circle cx="90.3" cy="108.8" r="0.8"/><circle cx="106.5" cy="94.4" r="0.8"/><circle cx="92.0" cy="96.9" r="0.8"/><circle cx="115.9" cy="140.8" r="0.8"/><circle cx="174.8" cy="85.4" r="0.8"/><circle cx="60.4" cy="58.5" r="0.8"/><circle cx="99.2" cy="110.9" r="0.8"/><circle cx="86.4" cy="65.9" r="0.8"/><circle cx="77.6" cy="92.8" r="0.8"/><circle cx="96.8" cy="60.3" r="0.8"/><circle cx="132.0" cy="95.2" r="0.8"/><circle cx="93.6" cy="107.7" r="0.8"/><circle cx="128.3" cy="102.3" r="0.8"/><circle cx="151.8" cy="104.2" r="0.8"/><circle cx="131.5" cy="91.3" r="0.8"/><circle cx="64.2" cy="84.2" r="0.8"/><circle cx="125.0" cy="103.0" r="0.8"/><circle cx="179.7" cy="92.0" r="0.8"/><circle cx="97.7" cy="97.2" r="0.8"/><circle cx="133.2" cy="80.5" r="0.8"/><circle cx="93.1" cy="113.3" r="0.8"/><circle cx="140.0" cy="98.5" r="0.8"/><circle cx="179.8" cy="101.0" r="0.8"/><circle cx="83.6" cy="90.1" r="0.8"/><circle cx="110.6" cy="156.7" r="0.8"/><circle cx="90.6" cy="98.0" r="0.8"/><circle cx="69.1" cy="82.9" r="0.8"/><circle cx="143.9" cy="89.4" r="0.8"/><circle cx="69.5" cy="60.6" r="0.8"/><circle cx="62.5" cy="99.0" r="0.8"/><circle cx="121.7" cy="96.8" r="0.8"/><circle cx="130.3" cy="91.2" r="0.8"/><circle cx="152.2" cy="110.2" r="0.8"/><circle cx="131.5" cy="99.4" r="0.8"/><circle cx="146.0" cy="107.0" r="0.8"/><circle cx="67.5" cy="81.1" r="0.8"/><circle cx="76.3" cy="128.7" r="0.8"/><circle cx="96.6" cy="98.8" r="0.8"/><circle cx="105.9" cy="105.1" r="0.8"/><circle cx="61.0" cy="104.6" r="0.8"/><circle cx="85.1" cy="81.4" r="0.8"/><circle cx="93.4" cy="110.8" r="0.8"/><circle cx="69.2" cy="113.9" r="0.8"/><circle cx="140.0" cy="102.5" r="0.8"/><circle cx="90.8" cy="91.3" r="0.8"/><circle cx="64.1" cy="114.6" r="0.8"/><circle cx="78.4" cy="107.0" r="0.8"/><circle cx="181.6" cy="105.8" r="0.8"/><circle cx="181.8" cy="97.5" r="0.8"/><circle cx="77.7" cy="110.4" r="0.8"/><circle cx="84.6" cy="115.5" r="0.8"/><circle cx="59.9" cy="119.3" r="0.8"/><circle cx="80.4" cy="107.4" r="0.8"/><circle cx="110.6" cy="116.1" r="0.8"/><circle cx="142.1" cy="102.2" r="0.8"/><circle cx="115.0" cy="108.5" r="0.8"/><circle cx="161.5" cy="109.1" r="0.8"/><circle cx="110.3" cy="117.4" r="0.8"/><circle cx="136.5" cy="101.3" r="0.8"/><circle cx="59.8" cy="87.9" r="0.8"/><circle cx="76.2" cy="76.7" r="0.8"/><circle cx="74.0" cy="91.8" r="0.8"/><circle cx="116.5" cy="106.1" r="0.8"/><circle cx="132.1" cy="101.9" r="0.8"/><circle cx="67.7" cy="108.4" r="0.8"/><circle cx="145.7" cy="111.4" r="0.8"/><circle cx="69.3" cy="138.6" r="0.8"/><circle cx="153.4" cy="94.1" r="0.8"/><circle cx="76.3" cy="90.4" r="0.8"/><circle cx="98.1" cy="101.3" r="0.8"/><circle cx="154.6" cy="116.9" r="0.8"/><circle cx="152.6" cy="98.2" r="0.8"/><circle cx="128.6" cy="93.7" r="0.8"/><circle cx="149.2" cy="99.6" r="0.8"/><circle cx="106.1" cy="108.8" r="0.8"/><circle cx="109.5" cy="105.3" r="0.8"/><circle cx="155.7" cy="123.6" r="0.8"/><circle cx="71.1" cy="138.9" r="0.8"/><circle cx="68.3" cy="27.9" r="0.8"/><circle cx="76.4" cy="134.4" r="0.8"/><circle cx="69.1" cy="119.5" r="0.8"/><circle cx="82.7" cy="51.4" r="0.8"/><circle cx="159.8" cy="105.4" r="0.8"/><circle cx="91.2" cy="91.5" r="0.8"/><circle cx="171.3" cy="98.9" r="0.8"/><circle cx="172.8" cy="97.6" r="0.8"/><circle cx="175.0" cy="112.1" r="0.8"/><circle cx="81.4" cy="89.6" r="0.8"/><circle cx="166.2" cy="77.0" r="0.8"/><circle cx="87.2" cy="86.1" r="0.8"/><circle cx="78.5" cy="110.5" r="0.8"/><circle cx="61.0" cy="58.4" r="0.8"/><circle cx="116.8" cy="79.5" r="0.8"/><circle cx="130.8" cy="125.3" r="0.8"/><circle cx="73.8" cy="115.8" r="0.8"/><circle cx="96.9" cy="81.6" r="0.8"/><circle cx="206.8" cy="106.7" r="0.8"/><circle cx="81.7" cy="80.2" r="0.8"/><circle cx="186.0" cy="118.9" r="0.8"/><circle cx="67.8" cy="77.1" r="0.8"/><circle cx="133.6" cy="113.4" r="0.8"/><circle cx="72.3" cy="97.4" r="0.8"/><circle cx="148.9" cy="93.7" r="0.8"/><circle cx="68.5" cy="96.4" r="0.8"/><circle cx="111.0" cy="125.5" r="0.8"/><circle cx="183.3" cy="107.1" r="0.8"/><circle cx="114.0" cy="137.8" r="0.8"/><circle cx="96.6" cy="102.9" r="0.8"/><circle cx="117.8" cy="107.2" r="0.8"/><circle cx="134.7" cy="101.3" r="0.8"/><circle cx="64.3" cy="127.8" r="0.8"/><circle cx="134.9" cy="118.6" r="0.8"/><circle cx="93.5" cy="130.6" r="0.8"/><circle cx="89.2" cy="144.9" r="0.8"/><circle cx="82.8" cy="104.2" r="0.8"/><circle cx="152.9" cy="109.8" r="0.8"/><circle cx="66.9" cy="105.4" r="0.8"/><circle cx="83.7" cy="121.5" r="0.8"/><circle cx="145.1" cy="95.1" r="0.8"/><circle cx="100.5" cy="117.2" r="0.8"/><circle cx="129.9" cy="87.9" r="0.8"/><circle cx="160.3" cy="95.6" r="0.8"/><circle cx="197.2" cy="98.4" r="0.8"/><circle cx="80.8" cy="125.6" r="0.8"/><circle cx="228.7" cy="102.8" r="0.8"/><circle cx="59.6" cy="113.7" r="0.8"/><circle cx="114.1" cy="115.6" r="0.8"/><circle cx="89.6" cy="115.2" r="0.8"/><circle cx="73.7" cy="94.1" r="0.8"/><circle cx="165.7" cy="112.4" r="0.8"/><circle cx="72.0" cy="105.4" r="0.8"/><circle cx="129.5" cy="106.6" r="0.8"/><circle cx="197.8" cy="86.3" r="0.8"/><circle cx="135.7" cy="96.1" r="0.8"/><circle cx="107.9" cy="93.4" r="0.8"/><circle cx="73.5" cy="85.6" r="0.8"/><circle cx="158.2" cy="100.8" r="0.8"/><circle cx="104.2" cy="111.6" r="0.8"/><circle cx="118.5" cy="97.4" r="0.8"/><circle cx="112.9" cy="85.8" r="0.8"/><circle cx="74.0" cy="94.1" r="0.8"/><circle cx="73.0" cy="100.7" r="0.8"/><circle cx="68.8" cy="57.5" r="0.8"/><circle cx="118.8" cy="100.7" r="0.8"/><circle cx="107.7" cy="51.7" r="0.8"/><circle cx="142.7" cy="118.5" r="0.8"/><circle cx="109.9" cy="126.6" r="0.8"/><circle cx="80.7" cy="108.8" r="0.8"/><circle cx="63.1" cy="90.8" r="0.8"/><circle cx="143.6" cy="110.9" r="0.8"/><circle cx="110.4" cy="111.0" r="0.8"/><circle cx="67.8" cy="118.4" r="0.8"/><circle cx="86.0" cy="97.0" r="0.8"/><circle cx="166.0" cy="106.4" r="0.8"/><circle cx="82.9" cy="72.5" r="0.8"/><circle cx="115.5" cy="103.7" r="0.8"/><circle cx="122.0" cy="100.9" r="0.8"/><circle cx="82.6" cy="83.0" r="0.8"/><circle cx="78.0" cy="163.9" r="0.8"/><circle cx="147.3" cy="94.9" r="0.8"/><circle cx="85.6" cy="107.2" r="0.8"/><circle cx="153.3" cy="102.7" r="0.8"/><circle cx="80.7" cy="104.4" r="0.8"/><circle cx="94.8" cy="101.7" r="0.8"/><circle cx="151.7" cy="91.2" r="0.8"/><circle cx="156.3" cy="102.0" r="0.8"/><circle cx="120.4" cy="113.8" r="0.8"/><circle cx="65.7" cy="127.3" r="0.8"/><circle cx="97.6" cy="80.6" r="0.8"/><circle cx="78.8" cy="98.5" r="0.8"/><circle cx="64.4" cy="132.5" r="0.8"/><circle cx="93.1" cy="124.2" r="0.8"/><circle cx="101.4" cy="87.0" r="0.8"/><circle cx="161.4" cy="108.8" r="0.8"/><circle cx="123.2" cy="101.2" r="0.8"/><circle cx="135.1" cy="124.0" r="0.8"/><circle cx="78.7" cy="65.4" r="0.8"/><circle cx="110.2" cy="122.2" r="0.8"/><circle cx="142.4" cy="85.7" r="0.8"/><circle cx="90.3" cy="109.5" r="0.8"/><circle cx="58.3" cy="101.1" r="0.8"/><circle cx="167.6" cy="93.3" r="0.8"/><circle cx="147.8" cy="103.2" r="0.8"/><circle cx="93.1" cy="109.2" r="0.8"/><circle cx="151.1" cy="107.6" r="0.8"/><circle cx="137.4" cy="104.5" r="0.8"/><circle cx="88.8" cy="93.7" r="0.8"/><circle cx="112.6" cy="111.0" r="0.8"/><circle cx="95.8" cy="95.3" r="0.8"/><circle cx="109.4" cy="126.6" r="0.8"/><circle cx="98.9" cy="89.6" r="0.8"/><circle cx="149.0" cy="108.5" r="0.8"/><circle cx="106.2" cy="97.2" r="0.8"/><circle cx="72.6" cy="92.0" r="0.8"/><circle cx="176.8" cy="97.1" r="0.8"/><circle cx="111.5" cy="106.0" r="0.8"/><circle cx="74.8" cy="116.0" r="0.8"/><circle cx="117.9" cy="84.1" r="0.8"/><circle cx="79.8" cy="83.6" r="0.8"/><circle cx="145.7" cy="104.5" r="0.8"/><circle cx="95.6" cy="99.2" r="0.8"/><circle cx="107.6" cy="113.2" r="0.8"/><circle cx="160.2" cy="107.0" r="0.8"/><circle cx="100.0" cy="116.1" r="0.8"/><circle cx="104.8" cy="104.0" r="0.8"/><circle cx="144.9" cy="106.0" r="0.8"/><circle cx="108.7" cy="109.6" r="0.8"/><circle cx="145.6" cy="109.1" r="0.8"/><circle cx="79.2" cy="142.2" r="0.8"/><circle cx="77.0" cy="87.3" r="0.8"/><circle cx="150.3" cy="79.6" r="0.8"/><circle cx="76.4" cy="83.4" r="0.8"/><circle cx="66.9" cy="101.2" r="0.8"/><circle cx="115.9" cy="113.9" r="0.8"/><circle cx="64.0" cy="84.2" r="0.8"/><circle cx="166.3" cy="105.3" r="0.8"/><circle cx="88.2" cy="146.9" r="0.8"/><circle cx="189.2" cy="100.1" r="0.8"/><circle cx="92.2" cy="95.8" r="0.8"/><circle cx="132.3" cy="111.2" r="0.8"/><circle cx="143.4" cy="106.9" r="0.8"/><circle cx="69.0" cy="105.0" r="0.8"/><circle cx="58.5" cy="78.1" r="0.8"/><circle cx="97.2" cy="109.9" r="0.8"/><circle cx="65.2" cy="108.9" r="0.8"/><circle cx="82.5" cy="80.6" r="0.8"/><circle cx="88.6" cy="104.5" r="0.8"/><circle cx="136.0" cy="116.5" r="0.8"/><circle cx="110.1" cy="97.0" r="0.8"/><circle cx="85.2" cy="106.8" r="0.8"/><circle cx="187.4" cy="111.8" r="0.8"/><circle cx="84.7" cy="147.1" r="0.8"/><circle cx="78.0" cy="137.6" r="0.8"/><circle cx="103.3" cy="116.5" r="0.8"/><circle cx="85.8" cy="86.4" r="0.8"/><circle cx="116.7" cy="81.0" r="0.8"/><circle cx="171.0" cy="110.0" r="0.8"/><circle cx="134.7" cy="97.2" r="0.8"/><circle cx="68.0" cy="110.8" r="0.8"/><circle cx="129.4" cy="95.5" r="0.8"/><circle cx="59.5" cy="88.4" r="0.8"/><circle cx="82.6" cy="89.3" r="0.8"/><circle cx="86.9" cy="100.4" r="0.8"/><circle cx="89.2" cy="111.2" r="0.8"/><circle cx="120.8" cy="110.3" r="0.8"/><circle cx="87.4" cy="124.0" r="0.8"/><circle cx="88.4" cy="102.5" r="0.8"/><circle cx="62.7" cy="77.5" r="0.8"/><circle cx="74.2" cy="106.7" r="0.8"/><circle cx="99.0" cy="107.7" r="0.8"/><circle cx="139.3" cy="108.2" r="0.8"/><circle cx="61.6" cy="105.9" r="0.8"/><circle cx="113.8" cy="112.0" r="0.8"/><circle cx="92.0" cy="110.6" r="0.8"/><circle cx="85.7" cy="103.0" r="0.8"/><circle cx="126.1" cy="88.3" r="0.8"/><circle cx="69.6" cy="114.4" r="0.8"/><circle cx="116.9" cy="89.8" r="0.8"/><circle cx="117.1" cy="102.7" r="0.8"/><circle cx="117.0" cy="113.2" r="0.8"/><circle cx="68.1" cy="73.7" r="0.8"/><circle cx="69.4" cy="104.5" r="0.8"/><circle cx="97.7" cy="114.9" r="0.8"/><circle cx="153.8" cy="113.9" r="0.8"/><circle cx="65.1" cy="110.9" r="0.8"/><circle cx="103.4" cy="64.3" r="0.8"/><circle cx="119.6" cy="103.7" r="0.8"/><circle cx="73.7" cy="72.0" r="0.8"/><circle cx="180.9" cy="104.4" r="0.8"/><circle cx="59.9" cy="86.0" r="0.8"/><circle cx="120.5" cy="117.8" r="0.8"/><circle cx="105.3" cy="115.4" r="0.8"/><circle cx="128.5" cy="79.4" r="0.8"/><circle cx="119.3" cy="110.1" r="0.8"/><circle cx="151.0" cy="131.0" r="0.8"/><circle cx="65.7" cy="119.1" r="0.8"/><circle cx="75.6" cy="91.7" r="0.8"/><circle cx="72.5" cy="110.2" r="0.8"/><circle cx="177.8" cy="103.1" r="0.8"/><circle cx="113.2" cy="99.2" r="0.8"/><circle cx="90.6" cy="164.3" r="0.8"/><circle cx="108.5" cy="150.3" r="0.8"/><circle cx="166.0" cy="100.7" r="0.8"/><circle cx="155.2" cy="102.3" r="0.8"/><circle cx="123.2" cy="109.8" r="0.8"/><circle cx="74.6" cy="99.6" r="0.8"/><circle cx="168.1" cy="103.2" r="0.8"/><circle cx="143.1" cy="119.0" r="0.8"/><circle cx="108.1" cy="118.7" r="0.8"/><circle cx="128.2" cy="87.8" r="0.8"/><circle cx="83.9" cy="56.8" r="0.8"/><circle cx="110.4" cy="103.4" r="0.8"/><circle cx="78.4" cy="93.1" r="0.8"/><circle cx="148.9" cy="98.0" r="0.8"/><circle cx="71.4" cy="73.8" r="0.8"/><circle cx="137.5" cy="111.0" r="0.8"/><circle cx="65.9" cy="134.8" r="0.8"/><circle cx="107.9" cy="100.2" r="0.8"/><circle cx="151.4" cy="108.0" r="0.8"/><circle cx="121.3" cy="69.1" r="0.8"/><circle cx="118.7" cy="104.0" r="0.8"/><circle cx="99.3" cy="103.2" r="0.8"/><circle cx="172.3" cy="96.2" r="0.8"/><circle cx="95.4" cy="148.2" r="0.8"/><circle cx="70.3" cy="111.5" r="0.8"/><circle cx="90.9" cy="118.2" r="0.8"/><circle cx="129.7" cy="120.1" r="0.8"/><circle cx="96.0" cy="117.5" r="0.8"/><circle cx="77.5" cy="110.6" r="0.8"/><circle cx="147.4" cy="111.6" r="0.8"/><circle cx="166.6" cy="118.1" r="0.8"/><circle cx="120.4" cy="133.2" r="0.8"/><circle cx="69.2" cy="121.6" r="0.8"/><circle cx="66.1" cy="118.9" r="0.8"/><circle cx="58.4" cy="113.6" r="0.8"/><circle cx="161.4" cy="100.9" r="0.8"/><circle cx="145.7" cy="56.4" r="0.8"/><circle cx="126.4" cy="98.5" r="0.8"/><circle cx="88.6" cy="102.1" r="0.8"/><circle cx="139.5" cy="104.1" r="0.8"/><circle cx="87.0" cy="111.4" r="0.8"/><circle cx="112.5" cy="93.0" r="0.8"/><circle cx="99.1" cy="104.7" r="0.8"/><circle cx="116.4" cy="55.6" r="0.8"/><circle cx="151.8" cy="126.6" r="0.8"/><circle cx="112.7" cy="89.9" r="0.8"/><circle cx="187.2" cy="107.9" r="0.8"/><circle cx="127.7" cy="103.6" r="0.8"/><circle cx="94.1" cy="103.9" r="0.8"/><circle cx="86.9" cy="110.0" r="0.8"/><circle cx="81.6" cy="109.9" r="0.8"/><circle cx="81.3" cy="74.9" r="0.8"/><circle cx="90.3" cy="88.2" r="0.8"/><circle cx="165.5" cy="111.6" r="0.8"/><circle cx="108.9" cy="94.0" r="0.8"/><circle cx="69.1" cy="146.6" r="0.8"/><circle cx="181.2" cy="99.8" r="0.8"/><circle cx="107.7" cy="120.6" r="0.8"/><circle cx="157.0" cy="111.3" r="0.8"/><circle cx="71.8" cy="94.8" r="0.8"/><circle cx="139.3" cy="87.2" r="0.8"/><circle cx="146.1" cy="92.2" r="0.8"/><circle cx="150.2" cy="102.6" r="0.8"/><circle cx="71.8" cy="92.2" r="0.8"/><circle cx="164.2" cy="95.7" r="0.8"/><circle cx="138.0" cy="93.0" r="0.8"/><circle cx="120.4" cy="106.5" r="0.8"/><circle cx="159.0" cy="109.8" r="0.8"/><circle cx="111.7" cy="98.2" r="0.8"/><circle cx="117.9" cy="103.4" r="0.8"/><circle cx="100.7" cy="104.7" r="0.8"/><circle cx="98.8" cy="113.6" r="0.8"/><circle cx="103.3" cy="112.3" r="0.8"/><circle cx="112.7" cy="96.6" r="0.8"/><circle cx="88.6" cy="121.2" r="0.8"/><circle cx="137.2" cy="101.8" r="0.8"/><circle cx="77.6" cy="108.5" r="0.8"/><circle cx="172.2" cy="120.1" r="0.8"/><circle cx="69.7" cy="111.0" r="0.8"/><circle cx="127.1" cy="99.8" r="0.8"/><circle cx="58.4" cy="80.6" r="0.8"/><circle cx="95.8" cy="79.6" r="0.8"/><circle cx="144.8" cy="81.0" r="0.8"/><circle cx="83.9" cy="137.3" r="0.8"/><circle cx="142.2" cy="96.1" r="0.8"/><circle cx="117.6" cy="112.3" r="0.8"/><circle cx="64.6" cy="146.9" r="0.8"/><circle cx="118.8" cy="104.4" r="0.8"/><circle cx="107.0" cy="117.1" r="0.8"/><circle cx="157.7" cy="137.6" r="0.8"/><circle cx="136.2" cy="84.0" r="0.8"/><circle cx="114.3" cy="91.7" r="0.8"/><circle cx="123.6" cy="101.6" r="0.8"/><circle cx="93.4" cy="106.8" r="0.8"/><circle cx="82.0" cy="145.7" r="0.8"/><circle cx="151.2" cy="101.1" r="0.8"/><circle cx="161.1" cy="89.9" r="0.8"/><circle cx="64.7" cy="86.0" r="0.8"/><circle cx="96.2" cy="119.0" r="0.8"/><circle cx="89.0" cy="125.2" r="0.8"/><circle cx="77.7" cy="112.1" r="0.8"/><circle cx="177.8" cy="112.4" r="0.8"/><circle cx="108.9" cy="113.5" r="0.8"/><circle cx="79.5" cy="70.5" r="0.8"/><circle cx="161.1" cy="99.4" r="0.8"/><circle cx="96.1" cy="86.1" r="0.8"/><circle cx="60.8" cy="97.4" r="0.8"/><circle cx="64.7" cy="97.4" r="0.8"/><circle cx="186.5" cy="91.6" r="0.8"/><circle cx="70.8" cy="115.1" r="0.8"/><circle cx="99.8" cy="116.6" r="0.8"/><circle cx="88.0" cy="120.0" r="0.8"/><circle cx="79.5" cy="55.0" r="0.8"/><circle cx="139.0" cy="53.7" r="0.8"/><circle cx="82.0" cy="94.9" r="0.8"/><circle cx="128.5" cy="80.5" r="0.8"/><circle cx="75.1" cy="91.3" r="0.8"/><circle cx="59.5" cy="100.0" r="0.8"/><circle cx="98.6" cy="99.5" r="0.8"/><circle cx="64.6" cy="113.5" r="0.8"/><circle cx="71.7" cy="114.7" r="0.8"/><circle cx="123.6" cy="108.5" r="0.8"/><circle cx="85.2" cy="76.2" r="0.8"/><circle cx="132.4" cy="90.3" r="0.8"/><circle cx="65.0" cy="132.2" r="0.8"/><circle cx="157.9" cy="103.3" r="0.8"/><circle cx="172.5" cy="92.0" r="0.8"/><circle cx="80.7" cy="93.9" r="0.8"/><circle cx="65.2" cy="123.0" r="0.8"/><circle cx="169.1" cy="107.5" r="0.8"/><circle cx="168.3" cy="120.2" r="0.8"/><circle cx="181.3" cy="108.1" r="0.8"/><circle cx="63.5" cy="157.4" r="0.8"/><circle cx="157.0" cy="97.1" r="0.8"/><circle cx="98.7" cy="84.9" r="0.8"/><circle cx="162.7" cy="109.0" r="0.8"/><circle cx="83.9" cy="81.7" r="0.8"/><circle cx="107.3" cy="157.0" r="0.8"/><circle cx="140.1" cy="107.1" r="0.8"/><circle cx="58.0" cy="91.4" r="0.8"/><circle cx="210.4" cy="105.7" r="0.8"/><circle cx="82.8" cy="107.3" r="0.8"/><circle cx="75.7" cy="107.3" r="0.8"/><circle cx="153.6" cy="118.5" r="0.8"/><circle cx="73.0" cy="120.9" r="0.8"/><circle cx="148.5" cy="110.4" r="0.8"/><circle cx="73.6" cy="112.0" r="0.8"/><circle cx="138.4" cy="97.9" r="0.8"/><circle cx="178.1" cy="100.9" r="0.8"/><circle cx="64.5" cy="131.4" r="0.8"/><circle cx="72.8" cy="125.5" r="0.8"/><circle cx="82.0" cy="75.8" r="0.8"/><circle cx="150.4" cy="98.7" r="0.8"/><circle cx="77.5" cy="125.8" r="0.8"/><circle cx="81.7" cy="107.4" r="0.8"/><circle cx="115.0" cy="79.7" r="0.8"/><circle cx="109.3" cy="100.6" r="0.8"/><circle cx="98.7" cy="85.4" r="0.8"/><circle cx="168.0" cy="103.5" r="0.8"/><circle cx="125.7" cy="101.6" r="0.8"/><circle cx="122.8" cy="105.6" r="0.8"/><circle cx="115.8" cy="130.1" r="0.8"/><circle cx="108.5" cy="96.4" r="0.8"/><circle cx="128.6" cy="110.8" r="0.8"/><circle cx="108.1" cy="113.4" r="0.8"/><circle cx="66.5" cy="80.5" r="0.8"/><circle cx="66.2" cy="100.7" r="0.8"/><circle cx="187.9" cy="113.9" r="0.8"/><circle cx="71.6" cy="101.5" r="0.8"/><circle cx="98.6" cy="97.8" r="0.8"/><circle cx="105.6" cy="92.0" r="0.8"/><circle cx="73.0" cy="131.2" r="0.8"/><circle cx="86.3" cy="99.6" r="0.8"/><circle cx="177.9" cy="100.1" r="0.8"/><circle cx="127.2" cy="112.0" r="0.8"/><circle cx="80.9" cy="110.0" r="0.8"/><circle cx="61.0" cy="99.0" r="0.8"/><circle cx="59.2" cy="117.9" r="0.8"/><circle cx="59.6" cy="56.7" r="0.8"/><circle cx="60.6" cy="115.1" r="0.8"/><circle cx="146.7" cy="131.9" r="0.8"/><circle cx="69.5" cy="88.5" r="0.8"/><circle cx="132.7" cy="96.7" r="0.8"/><circle cx="104.6" cy="117.0" r="0.8"/><circle cx="124.8" cy="110.2" r="0.8"/><circle cx="163.6" cy="115.8" r="0.8"/><circle cx="199.3" cy="105.6" r="0.8"/><circle cx="78.6" cy="134.2" r="0.8"/><circle cx="127.5" cy="110.1" r="0.8"/><circle cx="78.3" cy="93.1" r="0.8"/><circle cx="157.6" cy="117.0" r="0.8"/><circle cx="125.2" cy="97.4" r="0.8"/><circle cx="77.7" cy="138.5" r="0.8"/><circle cx="112.0" cy="73.6" r="0.8"/><circle cx="63.5" cy="54.6" r="0.8"/><circle cx="206.7" cy="104.0" r="0.8"/><circle cx="145.6" cy="95.0" r="0.8"/><circle cx="165.8" cy="109.3" r="0.8"/><circle cx="67.6" cy="92.3" r="0.8"/><circle cx="131.7" cy="121.5" r="0.8"/><circle cx="59.9" cy="97.8" r="0.8"/><circle cx="128.5" cy="94.7" r="0.8"/><circle cx="153.9" cy="135.0" r="0.8"/><circle cx="130.6" cy="113.1" r="0.8"/><circle cx="85.8" cy="95.7" r="0.8"/><circle cx="116.9" cy="114.2" r="0.8"/><circle cx="116.8" cy="85.7" r="0.8"/><circle cx="91.5" cy="96.3" r="0.8"/><circle cx="139.7" cy="96.8" r="0.8"/><circle cx="138.5" cy="68.8" r="0.8"/><circle cx="74.4" cy="120.7" r="0.8"/><circle cx="101.3" cy="118.3" r="0.8"/><circle cx="108.4" cy="112.1" r="0.8"/><circle cx="100.8" cy="96.7" r="0.8"/><circle cx="122.9" cy="92.3" r="0.8"/><circle cx="117.9" cy="105.9" r="0.8"/><circle cx="135.2" cy="89.7" r="0.8"/><circle cx="70.2" cy="108.0" r="0.8"/><circle cx="116.8" cy="113.4" r="0.8"/><circle cx="108.9" cy="102.3" r="0.8"/><circle cx="106.9" cy="98.5" r="0.8"/><circle cx="107.1" cy="77.1" r="0.8"/><circle cx="93.0" cy="105.4" r="0.8"/><circle cx="141.5" cy="111.1" r="0.8"/><circle cx="141.8" cy="119.4" r="0.8"/><circle cx="126.0" cy="114.5" r="0.8"/><circle cx="149.0" cy="109.5" r="0.8"/><circle cx="118.6" cy="98.2" r="0.8"/><circle cx="79.3" cy="119.5" r="0.8"/><circle cx="127.8" cy="104.3" r="0.8"/><circle cx="128.4" cy="105.9" r="0.8"/><circle cx="95.0" cy="119.4" r="0.8"/><circle cx="125.8" cy="110.3" r="0.8"/><circle cx="87.4" cy="111.5" r="0.8"/><circle cx="179.8" cy="105.5" r="0.8"/><circle cx="58.3" cy="117.3" r="0.8"/><circle cx="116.1" cy="108.4" r="0.8"/><circle cx="130.5" cy="86.7" r="0.8"/><circle cx="60.2" cy="106.8" r="0.8"/><circle cx="60.6" cy="122.0" r="0.8"/><circle cx="97.9" cy="103.6" r="0.8"/><circle cx="181.6" cy="93.0" r="0.8"/><circle cx="69.1" cy="109.4" r="0.8"/><circle cx="115.9" cy="133.5" r="0.8"/><circle cx="135.1" cy="120.4" r="0.8"/><circle cx="158.9" cy="102.6" r="0.8"/><circle cx="101.9" cy="107.6" r="0.8"/><circle cx="170.4" cy="96.9" r="0.8"/><circle cx="122.6" cy="91.1" r="0.8"/><circle cx="124.6" cy="82.9" r="0.8"/><circle cx="68.3" cy="75.3" r="0.8"/><circle cx="96.1" cy="117.3" r="0.8"/><circle cx="93.8" cy="111.4" r="0.8"/><circle cx="162.9" cy="103.9" r="0.8"/><circle cx="134.6" cy="96.2" r="0.8"/><circle cx="175.7" cy="105.9" r="0.8"/><circle cx="86.5" cy="87.4" r="0.8"/><circle cx="165.3" cy="107.8" r="0.8"/><circle cx="128.6" cy="106.3" r="0.8"/><circle cx="63.9" cy="128.6" r="0.8"/><circle cx="120.1" cy="106.7" r="0.8"/><circle cx="97.6" cy="110.8" r="0.8"/><circle cx="84.7" cy="103.7" r="0.8"/><circle cx="66.9" cy="37.6" r="0.8"/><circle cx="130.1" cy="98.8" r="0.8"/><circle cx="63.3" cy="101.2" r="0.8"/><circle cx="82.4" cy="120.4" r="0.8"/><circle cx="111.9" cy="108.5" r="0.8"/><circle cx="87.8" cy="101.3" r="0.8"/><circle cx="104.9" cy="90.8" r="0.8"/><circle cx="96.3" cy="110.5" r="0.8"/><circle cx="67.4" cy="78.6" r="0.8"/><circle cx="66.9" cy="115.0" r="0.8"/><circle cx="68.1" cy="82.6" r="0.8"/><circle cx="148.5" cy="100.4" r="0.8"/><circle cx="82.7" cy="34.5" r="0.8"/><circle cx="162.8" cy="107.2" r="0.8"/><circle cx="96.6" cy="98.4" r="0.8"/><circle cx="169.0" cy="107.4" r="0.8"/><circle cx="159.3" cy="147.5" r="0.8"/><circle cx="62.5" cy="112.1" r="0.8"/><circle cx="94.7" cy="88.1" r="0.8"/><circle cx="100.3" cy="93.4" r="0.8"/><circle cx="90.8" cy="134.4" r="0.8"/><circle cx="202.4" cy="116.2" r="0.8"/><circle cx="100.4" cy="128.3" r="0.8"/><circle cx="114.9" cy="78.7" r="0.8"/><circle cx="106.2" cy="109.0" r="0.8"/><circle cx="172.4" cy="118.2" r="0.8"/><circle cx="138.5" cy="84.6" r="0.8"/><circle cx="120.7" cy="91.3" r="0.8"/><circle cx="197.4" cy="100.7" r="0.8"/><circle cx="150.0" cy="113.8" r="0.8"/><circle cx="85.1" cy="79.8" r="0.8"/><circle cx="123.4" cy="129.9" r="0.8"/><circle cx="62.9" cy="81.3" r="0.8"/><circle cx="105.1" cy="102.3" r="0.8"/><circle cx="78.1" cy="100.9" r="0.8"/><circle cx="70.4" cy="85.4" r="0.8"/><circle cx="180.3" cy="108.2" r="0.8"/><circle cx="66.6" cy="122.1" r="0.8"/><circle cx="201.0" cy="112.7" r="0.8"/><circle cx="172.3" cy="94.1" r="0.8"/><circle cx="106.9" cy="92.7" r="0.8"/><circle cx="104.9" cy="111.7" r="0.8"/><circle cx="98.4" cy="140.4" r="0.8"/><circle cx="156.6" cy="95.7" r="0.8"/><circle cx="62.2" cy="110.1" r="0.8"/><circle cx="115.1" cy="122.1" r="0.8"/><circle cx="111.0" cy="82.5" r="0.8"/><circle cx="110.7" cy="75.5" r="0.8"/><circle cx="66.3" cy="100.9" r="0.8"/><circle cx="72.7" cy="117.2" r="0.8"/><circle cx="141.3" cy="117.7" r="0.8"/><circle cx="83.8" cy="101.9" r="0.8"/><circle cx="124.5" cy="104.5" r="0.8"/><circle cx="155.6" cy="100.9" r="0.8"/><circle cx="76.7" cy="86.1" r="0.8"/><circle cx="111.1" cy="104.7" r="0.8"/><circle cx="159.4" cy="104.6" r="0.8"/><circle cx="137.3" cy="90.6" r="0.8"/><circle cx="120.6" cy="95.0" r="0.8"/><circle cx="104.5" cy="53.2" r="0.8"/><circle cx="112.2" cy="103.4" r="0.8"/><circle cx="99.4" cy="83.9" r="0.8"/><circle cx="99.5" cy="120.4" r="0.8"/><circle cx="118.9" cy="112.1" r="0.8"/><circle cx="63.5" cy="105.2" r="0.8"/><circle cx="87.7" cy="96.7" r="0.8"/><circle cx="107.2" cy="100.9" r="0.8"/><circle cx="130.5" cy="106.4" r="0.8"/><circle cx="116.0" cy="122.6" r="0.8"/><circle cx="73.7" cy="118.4" r="0.8"/><circle cx="106.2" cy="88.5" r="0.8"/><circle cx="161.1" cy="106.5" r="0.8"/><circle cx="173.0" cy="98.4" r="0.8"/><circle cx="154.0" cy="102.3" r="0.8"/><circle cx="62.9" cy="115.0" r="0.8"/><circle cx="163.6" cy="107.5" r="0.8"/><circle cx="118.8" cy="115.2" r="0.8"/><circle cx="85.2" cy="72.5" r="0.8"/><circle cx="135.6" cy="100.9" r="0.8"/><circle cx="120.8" cy="107.1" r="0.8"/><circle cx="65.0" cy="107.9" r="0.8"/><circle cx="91.9" cy="100.6" r="0.8"/><circle cx="100.8" cy="108.9" r="0.8"/><circle cx="93.7" cy="106.7" r="0.8"/><circle cx="138.5" cy="103.3" r="0.8"/><circle cx="66.1" cy="75.5" r="0.8"/><circle cx="81.4" cy="91.1" r="0.8"/><circle cx="59.5" cy="78.5" r="0.8"/><circle cx="169.2" cy="97.0" r="0.8"/><circle cx="93.9" cy="96.5" r="0.8"/><circle cx="102.2" cy="128.1" r="0.8"/><circle cx="73.6" cy="85.6" r="0.8"/><circle cx="161.0" cy="96.1" r="0.8"/><circle cx="169.2" cy="110.7" r="0.8"/><circle cx="123.0" cy="114.9" r="0.8"/><circle cx="79.7" cy="99.6" r="0.8"/><circle cx="93.0" cy="41.2" r="0.8"/><circle cx="102.6" cy="120.0" r="0.8"/><circle cx="70.1" cy="83.9" r="0.8"/><circle cx="148.0" cy="96.4" r="0.8"/><circle cx="77.8" cy="114.1" r="0.8"/><circle cx="135.0" cy="112.4" r="0.8"/><circle cx="183.2" cy="105.5" r="0.8"/><circle cx="180.2" cy="104.0" r="0.8"/><circle cx="155.8" cy="107.3" r="0.8"/><circle cx="63.6" cy="118.0" r="0.8"/><circle cx="120.4" cy="86.3" r="0.8"/><circle cx="120.3" cy="96.1" r="0.8"/><circle cx="146.7" cy="112.7" r="0.8"/><circle cx="160.3" cy="95.8" r="0.8"/><circle cx="71.5" cy="129.3" r="0.8"/><circle cx="115.0" cy="97.2" r="0.8"/><circle cx="158.1" cy="92.0" r="0.8"/><circle cx="145.6" cy="108.9" r="0.8"/><circle cx="122.3" cy="110.3" r="0.8"/><circle cx="122.9" cy="102.4" r="0.8"/><circle cx="90.8" cy="87.1" r="0.8"/><circle cx="134.7" cy="100.7" r="0.8"/><circle cx="171.0" cy="126.8" r="0.8"/><circle cx="68.0" cy="108.3" r="0.8"/><circle cx="173.4" cy="99.6" r="0.8"/><circle cx="98.7" cy="110.8" r="0.8"/><circle cx="158.6" cy="95.4" r="0.8"/><circle cx="181.9" cy="106.7" r="0.8"/><circle cx="120.9" cy="98.6" r="0.8"/><circle cx="196.3" cy="93.4" r="0.8"/><circle cx="187.2" cy="104.6" r="0.8"/><circle cx="128.2" cy="72.6" r="0.8"/><circle cx="64.5" cy="116.3" r="0.8"/><circle cx="83.4" cy="95.6" r="0.8"/><circle cx="94.5" cy="132.8" r="0.8"/><circle cx="62.7" cy="113.2" r="0.8"/><circle cx="105.4" cy="95.7" r="0.8"/><circle cx="189.6" cy="101.7" r="0.8"/><circle cx="95.4" cy="118.5" r="0.8"/><circle cx="81.0" cy="104.3" r="0.8"/><circle cx="72.1" cy="117.7" r="0.8"/><circle cx="74.6" cy="88.7" r="0.8"/><circle cx="120.9" cy="100.9" r="0.8"/><circle cx="91.6" cy="102.2" r="0.8"/><circle cx="67.9" cy="69.3" r="0.8"/><circle cx="85.6" cy="71.0" r="0.8"/><circle cx="119.1" cy="158.8" r="0.8"/><circle cx="74.8" cy="114.3" r="0.8"/><circle cx="143.8" cy="111.0" r="0.8"/><circle cx="124.1" cy="143.3" r="0.8"/><circle cx="94.9" cy="120.7" r="0.8"/><circle cx="68.2" cy="87.4" r="0.8"/><circle cx="63.8" cy="67.9" r="0.8"/><circle cx="138.1" cy="104.1" r="0.8"/><circle cx="176.5" cy="103.4" r="0.8"/><circle cx="122.3" cy="100.6" r="0.8"/><circle cx="138.8" cy="82.8" r="0.8"/><circle cx="101.4" cy="123.3" r="0.8"/><circle cx="102.0" cy="117.2" r="0.8"/><circle cx="175.7" cy="93.8" r="0.8"/><circle cx="148.5" cy="109.6" r="0.8"/><circle cx="82.2" cy="125.3" r="0.8"/><circle cx="73.0" cy="109.9" r="0.8"/><circle cx="105.1" cy="114.2" r="0.8"/><circle cx="127.8" cy="106.5" r="0.8"/><circle cx="149.2" cy="75.7" r="0.8"/><circle cx="93.8" cy="110.1" r="0.8"/><circle cx="115.4" cy="112.1" r="0.8"/><circle cx="96.0" cy="103.0" r="0.8"/><circle cx="145.3" cy="105.8" r="0.8"/><circle cx="64.9" cy="112.8" r="0.8"/><circle cx="86.9" cy="109.5" r="0.8"/><circle cx="139.3" cy="93.3" r="0.8"/><circle cx="69.4" cy="97.9" r="0.8"/><circle cx="146.0" cy="103.1" r="0.8"/><circle cx="143.3" cy="108.4" r="0.8"/><circle cx="139.2" cy="74.5" r="0.8"/><circle cx="63.9" cy="131.6" r="0.8"/><circle cx="62.2" cy="98.8" r="0.8"/><circle cx="88.1" cy="98.2" r="0.8"/><circle cx="89.1" cy="61.3" r="0.8"/><circle cx="114.0" cy="113.4" r="0.8"/><circle cx="139.4" cy="95.5" r="0.8"/><circle cx="107.8" cy="116.1" r="0.8"/><circle cx="78.5" cy="96.0" r="0.8"/><circle cx="128.4" cy="128.7" r="0.8"/><circle cx="99.5" cy="71.4" r="0.8"/><circle cx="148.1" cy="97.4" r="0.8"/><circle cx="88.7" cy="115.9" r="0.8"/><circle cx="63.8" cy="124.0" r="0.8"/><circle cx="165.6" cy="75.6" r="0.8"/><circle cx="69.0" cy="112.7" r="0.8"/><circle cx="108.6" cy="120.6" r="0.8"/><circle cx="137.0" cy="102.1" r="0.8"/><circle cx="81.9" cy="100.8" r="0.8"/><circle cx="68.2" cy="103.6" r="0.8"/><circle cx="103.2" cy="113.2" r="0.8"/><circle cx="90.7" cy="87.4" r="0.8"/><circle cx="152.1" cy="104.5" r="0.8"/><circle cx="87.5" cy="97.4" r="0.8"/><circle cx="59.5" cy="103.0" r="0.8"/><circle cx="72.6" cy="113.7" r="0.8"/><circle cx="147.6" cy="96.0" r="0.8"/><circle cx="72.7" cy="131.4" r="0.8"/><circle cx="145.6" cy="109.4" r="0.8"/><circle cx="133.4" cy="107.9" r="0.8"/><circle cx="107.0" cy="93.1" r="0.8"/><circle cx="89.0" cy="95.6" r="0.8"/><circle cx="70.3" cy="140.1" r="0.8"/><circle cx="143.3" cy="102.4" r="0.8"/><circle cx="155.1" cy="113.7" r="0.8"/><circle cx="72.0" cy="124.5" r="0.8"/><circle cx="123.6" cy="100.3" r="0.8"/><circle cx="103.0" cy="106.4" r="0.8"/><circle cx="86.8" cy="163.3" r="0.8"/><circle cx="180.2" cy="106.1" r="0.8"/><circle cx="161.9" cy="83.2" r="0.8"/><circle cx="127.5" cy="100.2" r="0.8"/><circle cx="72.0" cy="80.7" r="0.8"/><circle cx="108.4" cy="105.6" r="0.8"/><circle cx="154.6" cy="94.2" r="0.8"/><circle cx="137.1" cy="103.8" r="0.8"/><circle cx="63.2" cy="115.7" r="0.8"/><circle cx="114.7" cy="88.3" r="0.8"/><circle cx="177.7" cy="100.1" r="0.8"/><circle cx="71.2" cy="89.0" r="0.8"/><circle cx="60.7" cy="95.0" r="0.8"/><circle cx="141.9" cy="105.7" r="0.8"/><circle cx="125.6" cy="111.9" r="0.8"/><circle cx="134.2" cy="116.5" r="0.8"/><circle cx="87.4" cy="114.5" r="0.8"/><circle cx="82.0" cy="99.9" r="0.8"/><circle cx="100.6" cy="110.3" r="0.8"/><circle cx="83.9" cy="115.0" r="0.8"/><circle cx="169.1" cy="100.5" r="0.8"/><circle cx="139.2" cy="89.9" r="0.8"/><circle cx="143.6" cy="88.8" r="0.8"/><circle cx="150.2" cy="104.6" r="0.8"/><circle cx="99.6" cy="83.4" r="0.8"/><circle cx="129.7" cy="91.1" r="0.8"/><circle cx="120.2" cy="110.5" r="0.8"/><circle cx="76.4" cy="101.4" r="0.8"/><circle cx="175.9" cy="101.1" r="0.8"/><circle cx="128.1" cy="106.7" r="0.8"/><circle cx="67.5" cy="103.6" r="0.8"/><circle cx="173.2" cy="102.0" r="0.8"/><circle cx="132.1" cy="86.8" r="0.8"/><circle cx="98.1" cy="116.4" r="0.8"/><circle cx="94.4" cy="128.9" r="0.8"/><circle cx="190.4" cy="120.6" r="0.8"/><circle cx="147.2" cy="98.1" r="0.8"/><circle cx="78.2" cy="111.6" r="0.8"/><circle cx="161.7" cy="101.3" r="0.8"/><circle cx="115.0" cy="116.3" r="0.8"/><circle cx="194.9" cy="101.4" r="0.8"/><circle cx="111.7" cy="102.8" r="0.8"/><circle cx="146.6" cy="103.3" r="0.8"/><circle cx="59.8" cy="112.2" r="0.8"/><circle cx="171.4" cy="110.1" r="0.8"/><circle cx="89.7" cy="92.5" r="0.8"/><circle cx="184.8" cy="105.5" r="0.8"/><circle cx="60.0" cy="84.1" r="0.8"/><circle cx="80.4" cy="113.7" r="0.8"/><circle cx="152.4" cy="115.9" r="0.8"/><circle cx="145.5" cy="105.5" r="0.8"/><circle cx="116.3" cy="94.2" r="0.8"/><circle cx="86.1" cy="124.0" r="0.8"/><circle cx="70.1" cy="112.1" r="0.8"/><circle cx="58.1" cy="98.9" r="0.8"/><circle cx="136.0" cy="129.1" r="0.8"/><circle cx="94.8" cy="51.8" r="0.8"/><circle cx="77.3" cy="90.0" r="0.8"/><circle cx="110.8" cy="102.3" r="0.8"/><circle cx="66.9" cy="100.3" r="0.8"/><circle cx="138.2" cy="104.4" r="0.8"/><circle cx="100.9" cy="105.1" r="0.8"/><circle cx="127.2" cy="93.9" r="0.8"/><circle cx="121.3" cy="69.6" r="0.8"/><circle cx="155.3" cy="112.9" r="0.8"/><circle cx="112.9" cy="111.0" r="0.8"/><circle cx="98.3" cy="105.6" r="0.8"/><circle cx="94.9" cy="130.0" r="0.8"/><circle cx="182.0" cy="98.6" r="0.8"/><circle cx="62.4" cy="91.9" r="0.8"/><circle cx="133.0" cy="107.8" r="0.8"/><circle cx="107.3" cy="107.0" r="0.8"/><circle cx="104.9" cy="84.2" r="0.8"/><circle cx="185.6" cy="96.6" r="0.8"/><circle cx="158.0" cy="110.9" r="0.8"/><circle cx="77.6" cy="113.0" r="0.8"/><circle cx="147.8" cy="95.2" r="0.8"/><circle cx="81.3" cy="108.8" r="0.8"/><circle cx="61.0" cy="59.6" r="0.8"/><circle cx="144.7" cy="111.4" r="0.8"/><circle cx="153.7" cy="108.4" r="0.8"/><circle cx="104.9" cy="135.7" r="0.8"/><circle cx="80.5" cy="112.8" r="0.8"/><circle cx="120.8" cy="108.8" r="0.8"/><circle cx="97.5" cy="84.9" r="0.8"/><circle cx="59.9" cy="87.2" r="0.8"/><circle cx="68.2" cy="78.3" r="0.8"/><circle cx="85.4" cy="92.9" r="0.8"/><circle cx="107.7" cy="105.2" r="0.8"/><circle cx="126.6" cy="117.8" r="0.8"/><circle cx="150.9" cy="95.3" r="0.8"/><circle cx="200.1" cy="109.2" r="0.8"/><circle cx="78.2" cy="100.4" r="0.8"/><circle cx="170.4" cy="96.1" r="0.8"/><circle cx="107.8" cy="105.9" r="0.8"/><circle cx="124.4" cy="110.5" r="0.8"/><circle cx="76.1" cy="111.1" r="0.8"/><circle cx="157.2" cy="116.6" r="0.8"/><circle cx="139.2" cy="131.6" r="0.8"/><circle cx="62.1" cy="120.3" r="0.8"/><circle cx="117.7" cy="77.3" r="0.8"/><circle cx="107.4" cy="90.3" r="0.8"/><circle cx="162.1" cy="101.8" r="0.8"/><circle cx="132.2" cy="117.2" r="0.8"/><circle cx="179.3" cy="100.8" r="0.8"/><circle cx="83.6" cy="101.4" r="0.8"/><circle cx="96.9" cy="88.3" r="0.8"/><circle cx="220.7" cy="104.9" r="0.8"/><circle cx="171.4" cy="98.6" r="0.8"/><circle cx="68.8" cy="107.7" r="0.8"/><circle cx="199.8" cy="98.2" r="0.8"/><circle cx="81.6" cy="104.5" r="0.8"/><circle cx="78.5" cy="122.8" r="0.8"/><circle cx="123.5" cy="102.3" r="0.8"/><circle cx="96.9" cy="113.0" r="0.8"/><circle cx="171.2" cy="108.5" r="0.8"/><circle cx="84.5" cy="115.2" r="0.8"/><circle cx="77.6" cy="111.3" r="0.8"/><circle cx="126.2" cy="115.5" r="0.8"/><circle cx="80.0" cy="53.2" r="0.8"/><circle cx="103.1" cy="99.9" r="0.8"/><circle cx="70.8" cy="128.9" r="0.8"/><circle cx="170.7" cy="80.9" r="0.8"/><circle cx="135.5" cy="108.4" r="0.8"/><circle cx="64.3" cy="87.3" r="0.8"/><circle cx="65.2" cy="109.0" r="0.8"/><circle cx="158.9" cy="87.7" r="0.8"/><circle cx="74.2" cy="108.4" r="0.8"/><circle cx="153.2" cy="116.0" r="0.8"/><circle cx="62.9" cy="118.0" r="0.8"/><circle cx="131.3" cy="109.3" r="0.8"/><circle cx="138.1" cy="120.0" r="0.8"/><circle cx="68.4" cy="101.8" r="0.8"/><circle cx="91.6" cy="106.3" r="0.8"/><circle cx="64.7" cy="91.5" r="0.8"/><circle cx="110.4" cy="96.4" r="0.8"/><circle cx="82.2" cy="105.9" r="0.8"/><circle cx="74.2" cy="34.3" r="0.8"/><circle cx="115.4" cy="121.3" r="0.8"/><circle cx="65.4" cy="156.5" r="0.8"/><circle cx="169.7" cy="94.8" r="0.8"/><circle cx="83.4" cy="105.2" r="0.8"/><circle cx="171.8" cy="84.5" r="0.8"/><circle cx="80.3" cy="145.0" r="0.8"/><circle cx="79.2" cy="110.7" r="0.8"/><circle cx="108.4" cy="71.7" r="0.8"/><circle cx="96.8" cy="117.5" r="0.8"/><circle cx="191.5" cy="104.8" r="0.8"/><circle cx="129.9" cy="103.5" r="0.8"/><circle cx="138.2" cy="108.7" r="0.8"/><circle cx="69.5" cy="103.5" r="0.8"/><circle cx="86.7" cy="104.2" r="0.8"/><circle cx="102.9" cy="94.6" r="0.8"/><circle cx="114.4" cy="63.8" r="0.8"/><circle cx="193.1" cy="101.6" r="0.8"/><circle cx="82.7" cy="57.2" r="0.8"/><circle cx="71.7" cy="104.7" r="0.8"/><circle cx="78.9" cy="94.4" r="0.8"/><circle cx="104.7" cy="89.8" r="0.8"/><circle cx="189.5" cy="111.4" r="0.8"/><circle cx="176.7" cy="95.3" r="0.8"/><circle cx="173.7" cy="106.7" r="0.8"/><circle cx="92.4" cy="77.9" r="0.8"/><circle cx="69.1" cy="75.8" r="0.8"/><circle cx="138.1" cy="126.9" r="0.8"/><circle cx="186.0" cy="100.8" r="0.8"/><circle cx="86.7" cy="132.6" r="0.8"/><circle cx="67.3" cy="89.4" r="0.8"/><circle cx="119.6" cy="88.4" r="0.8"/><circle cx="133.5" cy="81.8" r="0.8"/><circle cx="90.7" cy="105.1" r="0.8"/><circle cx="73.4" cy="147.7" r="0.8"/><circle cx="96.0" cy="114.7" r="0.8"/><circle cx="91.7" cy="102.9" r="0.8"/><circle cx="118.5" cy="117.3" r="0.8"/><circle cx="59.7" cy="81.9" r="0.8"/><circle cx="79.2" cy="96.5" r="0.8"/><circle cx="73.8" cy="43.0" r="0.8"/><circle cx="204.0" cy="106.0" r="0.8"/><circle cx="110.8" cy="98.9" r="0.8"/><circle cx="143.0" cy="133.9" r="0.8"/><circle cx="99.3" cy="98.5" r="0.8"/><circle cx="123.1" cy="123.8" r="0.8"/><circle cx="61.0" cy="111.5" r="0.8"/><circle cx="131.3" cy="85.3" r="0.8"/><circle cx="64.6" cy="106.6" r="0.8"/><circle cx="66.9" cy="81.3" r="0.8"/><circle cx="121.9" cy="108.8" r="0.8"/><circle cx="159.8" cy="100.8" r="0.8"/><circle cx="81.8" cy="111.4" r="0.8"/><circle cx="138.2" cy="110.5" r="0.8"/><circle cx="72.7" cy="62.2" r="0.8"/><circle cx="134.3" cy="97.5" r="0.8"/><circle cx="93.4" cy="120.3" r="0.8"/><circle cx="171.0" cy="121.1" r="0.8"/><circle cx="154.7" cy="127.6" r="0.8"/><circle cx="165.7" cy="98.1" r="0.8"/><circle cx="176.7" cy="109.5" r="0.8"/><circle cx="77.8" cy="123.9" r="0.8"/><circle cx="63.8" cy="105.9" r="0.8"/><circle cx="84.5" cy="152.5" r="0.8"/><circle cx="108.6" cy="110.0" r="0.8"/><circle cx="219.0" cy="100.5" r="0.8"/><circle cx="124.4" cy="104.1" r="0.8"/><circle cx="75.8" cy="162.1" r="0.8"/><circle cx="128.9" cy="104.0" r="0.8"/><circle cx="59.7" cy="146.4" r="0.8"/><circle cx="70.4" cy="92.5" r="0.8"/><circle cx="78.0" cy="108.6" r="0.8"/><circle cx="97.7" cy="116.3" r="0.8"/><circle cx="179.6" cy="92.3" r="0.8"/><circle cx="112.4" cy="152.0" r="0.8"/><circle cx="155.0" cy="105.9" r="0.8"/><circle cx="121.0" cy="84.7" r="0.8"/><circle cx="92.0" cy="95.2" r="0.8"/><circle cx="122.6" cy="111.5" r="0.8"/><circle cx="90.7" cy="99.9" r="0.8"/><circle cx="152.6" cy="97.2" r="0.8"/><circle cx="61.2" cy="63.6" r="0.8"/><circle cx="178.1" cy="93.3" r="0.8"/><circle cx="135.6" cy="77.1" r="0.8"/><circle cx="125.7" cy="122.8" r="0.8"/><circle cx="58.6" cy="122.1" r="0.8"/><circle cx="114.8" cy="105.0" r="0.8"/><circle cx="78.0" cy="108.7" r="0.8"/><circle cx="81.9" cy="92.2" r="0.8"/><circle cx="64.6" cy="59.4" r="0.8"/><circle cx="65.7" cy="91.9" r="0.8"/><circle cx="96.6" cy="84.4" r="0.8"/><circle cx="123.0" cy="100.2" r="0.8"/><circle cx="177.3" cy="101.6" r="0.8"/>
</g>
<g fill="#fff" fill-opacity="0.2">
<circle cx="77.9" cy="134.2" r="0.8"/><circle cx="113.0" cy="114.3" r="0.8"/><circle cx="104.5" cy="109.3" r="0.8"/><circle cx="175.1" cy="84.0" r="0.8"/><circle cx="96.9" cy="113.3" r="0.8"/><circle cx="122.7" cy="108.3" r="0.8"/><circle cx="149.1" cy="113.6" r="0.8"/><circle cx="66.6" cy="97.9" r="0.8"/><circle cx="158.9" cy="103.3" r="0.8"/><circle cx="137.5" cy="101.0" r="0.8"/><circle cx="137.5" cy="104.5" r="0.8"/><circle cx="152.8" cy="97.3" r="0.8"/><circle cx="137.5" cy="107.0" r="0.8"/><circle cx="60.5" cy="114.6" r="0.8"/><circle cx="79.3" cy="107.0" r="0.8"/><circle cx="81.0" cy="104.2" r="0.8"/><circle cx="112.1" cy="141.7" r="0.8"/><circle cx="116.3" cy="97.0" r="0.8"/><circle cx="144.1" cy="134.1" r="0.8"/><circle cx="106.2" cy="100.2" r="0.8"/><circle cx="148.0" cy="98.8" r="0.8"/><circle cx="111.8" cy="130.7" r="0.8"/><circle cx="101.9" cy="89.2" r="0.8"/><circle cx="114.2" cy="131.9" r="0.8"/><circle cx="134.2" cy="70.0" r="0.8"/><circle cx="74.7" cy="109.8" r="0.8"/><circle cx="125.7" cy="110.5" r="0.8"/><circle cx="68.0" cy="123.3" r="0.8"/><circle cx="108.8" cy="82.7" r="0.8"/><circle cx="160.6" cy="109.7" r="0.8"/><circle cx="130.9" cy="120.9" r="0.8"/><circle cx="142.6" cy="106.8" r="0.8"/><circle cx="80.6" cy="84.0" r="0.8"/><circle cx="72.7" cy="96.1" r="0.8"/><circle cx="110.4" cy="93.2" r="0.8"/><circle cx="59.9" cy="121.2" r="0.8"/><circle cx="159.0" cy="107.0" r="0.8"/><circle cx="66.5" cy="182.3" r="0.8"/><circle cx="104.3" cy="86.7" r="0.8"/><circle cx="58.1" cy="104.8" r="0.8"/><circle cx="98.3" cy="75.1" r="0.8"/><circle cx="74.3" cy="88.1" r="0.8"/><circle cx="103.9" cy="133.5" r="0.8"/><circle cx="106.1" cy="130.3" r="0.8"/><circle cx="129.2" cy="115.8" r="0.8"/><circle cx="68.6" cy="104.8" r="0.8"/><circle cx="86.1" cy="99.4" r="0.8"/><circle cx="105.8" cy="93.6" r="0.8"/><circle cx="146.5" cy="97.6" r="0.8"/><circle cx="70.2" cy="72.0" r="0.8"/><circle cx="156.2" cy="97.1" r="0.8"/><circle cx="178.7" cy="107.3" r="0.8"/><circle cx="142.9" cy="102.1" r="0.8"/><circle cx="79.3" cy="55.8" r="0.8"/><circle cx="61.1" cy="114.3" r="0.8"/><circle cx="102.1" cy="97.6" r="0.8"/><circle cx="65.1" cy="124.9" r="0.8"/><circle cx="71.9" cy="104.3" r="0.8"/><circle cx="83.5" cy="100.7" r="0.8"/><circle cx="157.3" cy="107.8" r="0.8"/><circle cx="141.0" cy="141.2" r="0.8"/><circle cx="183.7" cy="109.4" r="0.8"/><circle cx="77.8" cy="89.3" r="0.8"/><circle cx="89.1" cy="91.9" r="0.8"/><circle cx="164.9" cy="88.6" r="0.8"/><circle cx="97.8" cy="98.7" r="0.8"/><circle cx="109.3" cy="97.3" r="0.8"/><circle cx="113.1" cy="110.8" r="0.8"/><circle cx="158.4" cy="102.5" r="0.8"/><circle cx="66.6" cy="119.2" r="0.8"/><circle cx="101.0" cy="122.8" r="0.8"/><circle cx="108.8" cy="108.7" r="0.8"/><circle cx="177.2" cy="102.9" r="0.8"/><circle cx="82.7" cy="103.2" r="0.8"/><circle cx="184.3" cy="117.9" r="0.8"/><circle cx="148.4" cy="111.2" r="0.8"/><circle cx="116.7" cy="123.0" r="0.8"/><circle cx="168.7" cy="107.5" r="0.8"/><circle cx="90.2" cy="98.5" r="0.8"/><circle cx="86.2" cy="156.5" r="0.8"/><circle cx="106.1" cy="113.0" r="0.8"/><circle cx="110.1" cy="108.8" r="0.8"/><circle cx="152.6" cy="102.1" r="0.8"/><circle cx="121.2" cy="77.4" r="0.8"/><circle cx="100.2" cy="90.8" r="0.8"/><circle cx="189.8" cy="92.6" r="0.8"/><circle cx="125.7" cy="95.4" r="0.8"/><circle cx="162.7" cy="82.8" r="0.8"/><circle cx="111.3" cy="85.8" r="0.8"/><circle cx="173.2" cy="104.0" r="0.8"/><circle cx="120.1" cy="112.9" r="0.8"/><circle cx="138.1" cy="116.0" r="0.8"/><circle cx="106.0" cy="90.5" r="0.8"/><circle cx="99.3" cy="114.8" r="0.8"/><circle cx="77.7" cy="112.3" r="0.8"/><circle cx="144.0" cy="72.3" r="0.8"/><circle cx="64.1" cy="91.2" r="0.8"/><circle cx="150.6" cy="94.3" r="0.8"/><circle cx="136.4" cy="104.4" r="0.8"/><circle cx="116.5" cy="93.4" r="0.8"/><circle cx="177.2" cy="96.3" r="0.8"/><circle cx="101.0" cy="100.2" r="0.8"/><circle cx="105.7" cy="95.2" r="0.8"/><circle cx="69.9" cy="76.2" r="0.8"/><circle cx="147.8" cy="103.5" r="0.8"/><circle cx="62.7" cy="89.3" r="0.8"/><circle cx="171.3" cy="116.4" r="0.8"/><circle cx="88.0" cy="108.5" r="0.8"/><circle cx="120.9" cy="76.8" r="0.8"/><circle cx="117.0" cy="102.1" r="0.8"/><circle cx="145.6" cy="62.9" r="0.8"/><circle cx="121.5" cy="95.6" r="0.8"/><circle cx="197.5" cy="99.3" r="0.8"/><circle cx="66.8" cy="78.0" r="0.8"/><circle cx="103.5" cy="111.2" r="0.8"/><circle cx="110.7" cy="62.4" r="0.8"/><circle cx="80.2" cy="94.1" r="0.8"/><circle cx="143.3" cy="113.3" r="0.8"/><circle cx="75.4" cy="105.9" r="0.8"/><circle cx="117.7" cy="94.0" r="0.8"/><circle cx="158.2" cy="103.9" r="0.8"/><circle cx="129.9" cy="104.2" r="0.8"/><circle cx="109.9" cy="111.4" r="0.8"/><circle cx="135.8" cy="64.1" r="0.8"/><circle cx="130.6" cy="93.7" r="0.8"/><circle cx="106.5" cy="101.6" r="0.8"/><circle cx="102.1" cy="101.6" r="0.8"/><circle cx="119.5" cy="111.6" r="0.8"/><circle cx="144.5" cy="96.5" r="0.8"/><circle cx="122.5" cy="76.5" r="0.8"/><circle cx="74.1" cy="101.2" r="0.8"/><circle cx="120.5" cy="114.9" r="0.8"/><circle cx="153.6" cy="96.3" r="0.8"/><circle cx="99.2" cy="108.6" r="0.8"/><circle cx="95.4" cy="110.0" r="0.8"/><circle cx="123.7" cy="83.2" r="0.8"/><circle cx="66.5" cy="114.2" r="0.8"/><circle cx="124.5" cy="108.8" r="0.8"/><circle cx="83.2" cy="127.4" r="0.8"/><circle cx="62.0" cy="113.4" r="0.8"/><circle cx="119.3" cy="118.6" r="0.8"/><circle cx="136.4" cy="113.1" r="0.8"/><circle cx="134.5" cy="94.1" r="0.8"/><circle cx="76.5" cy="108.0" r="0.8"/><circle cx="59.4" cy="112.2" r="0.8"/><circle cx="78.8" cy="52.1" r="0.8"/><circle cx="105.6" cy="133.3" r="0.8"/><circle cx="92.6" cy="111.1" r="0.8"/><circle cx="101.7" cy="93.9" r="0.8"/><circle cx="87.8" cy="111.6" r="0.8"/><circle cx="150.1" cy="100.3" r="0.8"/><circle cx="102.7" cy="97.8" r="0.8"/><circle cx="134.4" cy="96.3" r="0.8"/><circle cx="144.3" cy="99.7" r="0.8"/><circle cx="112.4" cy="87.2" r="0.8"/><circle cx="136.1" cy="84.8" r="0.8"/><circle cx="129.5" cy="83.2" r="0.8"/><circle cx="66.3" cy="59.9" r="0.8"/><circle cx="71.3" cy="97.0" r="0.8"/><circle cx="92.4" cy="32.0" r="0.8"/><circle cx="128.8" cy="127.6" r="0.8"/><circle cx="139.6" cy="93.0" r="0.8"/><circle cx="153.8" cy="125.2" r="0.8"/><circle cx="143.7" cy="89.4" r="0.8"/><circle cx="124.9" cy="89.2" r="0.8"/><circle cx="132.6" cy="102.7" r="0.8"/><circle cx="138.7" cy="106.4" r="0.8"/><circle cx="146.3" cy="112.6" r="0.8"/><circle cx="104.6" cy="98.5" r="0.8"/><circle cx="82.5" cy="119.5" r="0.8"/><circle cx="79.4" cy="101.2" r="0.8"/><circle cx="120.1" cy="132.4" r="0.8"/><circle cx="135.8" cy="109.1" r="0.8"/><circle cx="79.6" cy="111.3" r="0.8"/><circle cx="139.8" cy="96.5" r="0.8"/><circle cx="88.8" cy="50.1" r="0.8"/><circle cx="89.6" cy="103.6" r="0.8"/><circle cx="166.7" cy="90.1" r="0.8"/><circle cx="123.6" cy="77.5" r="0.8"/><circle cx="139.0" cy="113.1" r="0.8"/><circle cx="143.9" cy="99.6" r="0.8"/><circle cx="122.9" cy="105.1" r="0.8"/><circle cx="115.7" cy="104.3" r="0.8"/><circle cx="131.2" cy="111.4" r="0.8"/><circle cx="191.2" cy="109.3" r="0.8"/><circle cx="157.1" cy="104.1" r="0.8"/><circle cx="202.6" cy="91.4" r="0.8"/><circle cx="138.1" cy="138.4" r="0.8"/><circle cx="63.1" cy="91.1" r="0.8"/><circle cx="195.3" cy="96.9" r="0.8"/><circle cx="134.1" cy="125.8" r="0.8"/><circle cx="76.7" cy="120.5" r="0.8"/><circle cx="88.1" cy="103.9" r="0.8"/><circle cx="65.1" cy="147.3" r="0.8"/><circle cx="58.9" cy="129.2" r="0.8"/><circle cx="97.1" cy="92.3" r="0.8"/><circle cx="94.1" cy="108.1" r="0.8"/><circle cx="190.7" cy="100.9" r="0.8"/><circle cx="138.7" cy="105.4" r="0.8"/><circle cx="224.1" cy="100.6" r="0.8"/><circle cx="141.3" cy="68.6" r="0.8"/><circle cx="90.5" cy="88.8" r="0.8"/><circle cx="111.1" cy="100.5" r="0.8"/><circle cx="193.6" cy="108.6" r="0.8"/><circle cx="125.5" cy="87.7" r="0.8"/><circle cx="183.7" cy="89.2" r="0.8"/><circle cx="173.5" cy="107.1" r="0.8"/><circle cx="141.6" cy="97.8" r="0.8"/><circle cx="129.8" cy="106.7" r="0.8"/><circle cx="146.2" cy="101.8" r="0.8"/><circle cx="93.9" cy="106.8" r="0.8"/><circle cx="125.8" cy="102.1" r="0.8"/><circle cx="125.3" cy="98.3" r="0.8"/><circle cx="116.2" cy="97.2" r="0.8"/><circle cx="89.5" cy="104.1" r="0.8"/><circle cx="109.0" cy="117.6" r="0.8"/><circle cx="168.6" cy="111.7" r="0.8"/><circle cx="107.8" cy="97.3" r="0.8"/><circle cx="71.0" cy="89.9" r="0.8"/><circle cx="132.3" cy="116.0" r="0.8"/><circle cx="96.7" cy="99.4" r="0.8"/><circle cx="185.4" cy="103.0" r="0.8"/><circle cx="95.8" cy="113.8" r="0.8"/><circle cx="74.1" cy="129.3" r="0.8"/><circle cx="157.2" cy="102.5" r="0.8"/><circle cx="104.7" cy="112.5" r="0.8"/><circle cx="166.1" cy="104.6" r="0.8"/><circle cx="62.0" cy="120.1" r="0.8"/><circle cx="77.9" cy="93.9" r="0.8"/><circle cx="136.1" cy="90.5" r="0.8"/><circle cx="71.0" cy="91.4" r="0.8"/><circle cx="117.7" cy="72.6" r="0.8"/><circle cx="136.5" cy="110.4" r="0.8"/><circle cx="190.2" cy="105.3" r="0.8"/><circle cx="62.4" cy="140.1" r="0.8"/><circle cx="85.6" cy="113.3" r="0.8"/><circle cx="95.4" cy="49.8" r="0.8"/><circle cx="95.5" cy="94.6" r="0.8"/><circle cx="160.8" cy="115.1" r="0.8"/><circle cx="113.4" cy="98.9" r="0.8"/><circle cx="153.0" cy="111.3" r="0.8"/><circle cx="91.6" cy="105.1" r="0.8"/><circle cx="173.4" cy="96.0" r="0.8"/><circle cx="71.8" cy="96.9" r="0.8"/><circle cx="174.5" cy="114.8" r="0.8"/><circle cx="58.8" cy="122.9" r="0.8"/><circle cx="130.1" cy="93.3" r="0.8"/><circle cx="58.1" cy="108.9" r="0.8"/><circle cx="105.4" cy="90.9" r="0.8"/><circle cx="81.3" cy="86.5" r="0.8"/><circle cx="96.6" cy="79.3" r="0.8"/><circle cx="93.8" cy="101.8" r="0.8"/><circle cx="80.4" cy="99.3" r="0.8"/><circle cx="124.3" cy="174.3" r="0.8"/><circle cx="119.3" cy="82.7" r="0.8"/><circle cx="174.2" cy="100.8" r="0.8"/><circle cx="119.9" cy="106.1" r="0.8"/><circle cx="165.7" cy="103.4" r="0.8"/><circle cx="155.4" cy="126.9" r="0.8"/><circle cx="166.8" cy="92.9" r="0.8"/><circle cx="117.7" cy="92.8" r="0.8"/><circle cx="139.4" cy="97.9" r="0.8"/><circle cx="96.2" cy="114.4" r="0.8"/><circle cx="105.1" cy="109.3" r="0.8"/><circle cx="107.5" cy="107.2" r="0.8"/><circle cx="162.6" cy="105.6" r="0.8"/><circle cx="158.0" cy="129.9" r="0.8"/><circle cx="143.5" cy="89.0" r="0.8"/><circle cx="59.6" cy="92.5" r="0.8"/><circle cx="147.4" cy="109.3" r="0.8"/><circle cx="68.0" cy="66.0" r="0.8"/><circle cx="121.1" cy="122.6" r="0.8"/><circle cx="178.6" cy="95.6" r="0.8"/><circle cx="94.8" cy="130.5" r="0.8"/><circle cx="73.3" cy="108.9" r="0.8"/><circle cx="85.1" cy="114.4" r="0.8"/><circle cx="94.5" cy="104.2" r="0.8"/><circle cx="102.9" cy="109.9" r="0.8"/><circle cx="72.0" cy="28.9" r="0.8"/><circle cx="178.5" cy="110.4" r="0.8"/><circle cx="116.6" cy="90.7" r="0.8"/><circle cx="89.4" cy="92.9" r="0.8"/><circle cx="160.6" cy="97.1" r="0.8"/><circle cx="61.8" cy="90.0" r="0.8"/><circle cx="104.6" cy="107.2" r="0.8"/><circle cx="136.1" cy="112.5" r="0.8"/><circle cx="116.0" cy="123.2" r="0.8"/><circle cx="65.4" cy="112.3" r="0.8"/><circle cx="115.1" cy="101.7" r="0.8"/><circle cx="86.4" cy="132.6" r="0.8"/><circle cx="143.1" cy="66.6" r="0.8"/><circle cx="118.3" cy="112.2" r="0.8"/><circle cx="107.6" cy="117.1" r="0.8"/><circle cx="140.6" cy="94.6" r="0.8"/><circle cx="126.1" cy="91.3" r="0.8"/><circle cx="161.9" cy="106.6" r="0.8"/><circle cx="96.4" cy="112.4" r="0.8"/><circle cx="60.4" cy="112.1" r="0.8"/><circle cx="150.7" cy="102.2" r="0.8"/><circle cx="134.5" cy="91.7" r="0.8"/>
</g>
</g>
<g fill="#c62424" stroke="#861818" stroke-width="0.45">
<circle cx="116.7" cy="77.7" r="2.15"/><circle cx="123.3" cy="90.5" r="2.15"/><circle cx="144.4" cy="89.2" r="2.15"/><circle cx="107.6" cy="77.0" r="2.15"/><circle cx="99.6" cy="88.7" r="2.15"/><circle cx="115.7" cy="91.2" r="2.15"/><circle cx="85.6" cy="76.9" r="2.15"/><circle cx="120.0" cy="91.0" r="2.15"/><circle cx="121.0" cy="89.6" r="2.15"/><circle cx="126.0" cy="86.2" r="2.15"/><circle cx="138.6" cy="86.8" r="2.15"/><circle cx="91.4" cy="80.2" r="2.15"/><circle cx="100.9" cy="76.5" r="2.15"/><circle cx="88.5" cy="84.2" r="2.15"/><circle cx="114.3" cy="77.8" r="2.15"/><circle cx="159.7" cy="82.7" r="2.15"/><circle cx="144.6" cy="86.4" r="2.15"/><circle cx="89.9" cy="61.0" r="2.15"/><circle cx="102.0" cy="77.0" r="2.15"/><circle cx="130.5" cy="75.2" r="2.15"/><circle cx="126.0" cy="79.7" r="2.15"/><circle cx="106.9" cy="91.8" r="2.15"/><circle cx="115.0" cy="88.9" r="2.15"/><circle cx="153.4" cy="83.8" r="2.15"/><circle cx="142.3" cy="88.8" r="2.15"/><circle cx="140.8" cy="82.6" r="2.15"/><circle cx="94.0" cy="72.8" r="2.15"/><circle cx="142.7" cy="87.8" r="2.15"/><circle cx="121.3" cy="85.9" r="2.15"/><circle cx="100.3" cy="73.7" r="2.15"/><circle cx="115.9" cy="92.1" r="2.15"/><circle cx="88.6" cy="76.4" r="2.15"/><circle cx="114.8" cy="70.8" r="2.15"/><circle cx="145.5" cy="91.5" r="2.15"/><circle cx="91.7" cy="85.6" r="2.15"/><circle cx="96.4" cy="67.9" r="2.15"/><circle cx="95.6" cy="90.8" r="2.15"/><circle cx="162.4" cy="89.2" r="2.15"/><circle cx="98.1" cy="70.4" r="2.15"/><circle cx="158.1" cy="91.4" r="2.15"/><circle cx="97.3" cy="32.7" r="2.15"/><circle cx="156.5" cy="90.3" r="2.15"/><circle cx="138.0" cy="79.7" r="2.15"/><circle cx="94.4" cy="68.4" r="2.15"/><circle cx="139.6" cy="86.1" r="2.15"/><circle cx="107.6" cy="80.9" r="2.15"/><circle cx="103.6" cy="87.4" r="2.15"/><circle cx="134.7" cy="87.8" r="2.15"/><circle cx="121.7" cy="77.2" r="2.15"/><circle cx="99.5" cy="83.2" r="2.15"/><circle cx="86.3" cy="61.9" r="2.15"/><circle cx="109.2" cy="86.3" r="2.15"/><circle cx="104.4" cy="80.4" r="2.15"/><circle cx="118.8" cy="79.9" r="2.15"/><circle cx="149.4" cy="81.3" r="2.15"/><circle cx="110.2" cy="77.4" r="2.15"/><circle cx="89.9" cy="90.7" r="2.15"/><circle cx="113.2" cy="79.5" r="2.15"/><circle cx="90.9" cy="68.5" r="2.15"/><circle cx="122.4" cy="83.4" r="2.15"/><circle cx="164.4" cy="91.9" r="2.15"/><circle cx="91.1" cy="81.6" r="2.15"/><circle cx="109.9" cy="89.9" r="2.15"/><circle cx="148.5" cy="82.1" r="2.15"/><circle cx="154.2" cy="91.9" r="2.15"/><circle cx="97.6" cy="63.1" r="2.15"/><circle cx="113.3" cy="78.3" r="2.15"/><circle cx="134.0" cy="91.9" r="2.15"/><circle cx="96.6" cy="69.3" r="2.15"/><circle cx="90.3" cy="83.9" r="2.15"/><circle cx="110.8" cy="79.2" r="2.15"/><circle cx="145.9" cy="90.6" r="2.15"/><circle cx="141.0" cy="91.7" r="2.15"/><circle cx="158.0" cy="85.0" r="2.15"/><circle cx="94.4" cy="56.0" r="2.15"/><circle cx="91.5" cy="68.6" r="2.15"/><circle cx="90.1" cy="71.8" r="2.15"/><circle cx="116.8" cy="80.9" r="2.15"/><circle cx="141.6" cy="87.0" r="2.15"/><circle cx="155.9" cy="83.3" r="2.15"/><circle cx="87.2" cy="64.0" r="2.15"/><circle cx="102.3" cy="74.0" r="2.15"/><circle cx="85.7" cy="64.9" r="2.15"/><circle cx="126.0" cy="35.6" r="2.15"/><circle cx="104.0" cy="57.0" r="2.15"/><circle cx="108.0" cy="79.9" r="2.15"/><circle cx="93.5" cy="83.6" r="2.15"/><circle cx="113.6" cy="88.7" r="2.15"/><circle cx="130.3" cy="80.8" r="2.15"/><circle cx="104.4" cy="76.8" r="2.15"/><circle cx="94.2" cy="74.7" r="2.15"/><circle cx="153.5" cy="85.4" r="2.15"/><circle cx="96.6" cy="86.5" r="2.15"/><circle cx="172.0" cy="86.0" r="2.15"/><circle cx="179.3" cy="91.0" r="2.15"/><circle cx="110.6" cy="66.4" r="2.15"/><circle cx="149.8" cy="89.6" r="2.15"/><circle cx="133.2" cy="91.6" r="2.15"/><circle cx="91.0" cy="79.7" r="2.15"/><circle cx="136.1" cy="80.7" r="2.15"/><circle cx="151.9" cy="75.0" r="2.15"/><circle cx="153.3" cy="90.8" r="2.15"/><circle cx="180.4" cy="88.5" r="2.15"/><circle cx="128.1" cy="91.1" r="2.15"/><circle cx="116.9" cy="79.9" r="2.15"/><circle cx="91.2" cy="62.7" r="2.15"/><circle cx="122.2" cy="75.3" r="2.15"/><circle cx="99.2" cy="81.9" r="2.15"/><circle cx="87.2" cy="74.3" r="2.15"/><circle cx="121.8" cy="88.1" r="2.15"/><circle cx="105.1" cy="85.3" r="2.15"/><circle cx="101.9" cy="69.3" r="2.15"/><circle cx="146.6" cy="90.1" r="2.15"/><circle cx="96.6" cy="51.0" r="2.15"/><circle cx="145.7" cy="86.9" r="2.15"/><circle cx="92.4" cy="77.8" r="2.15"/><circle cx="101.4" cy="91.8" r="2.15"/><circle cx="117.5" cy="81.3" r="2.15"/><circle cx="144.1" cy="91.1" r="2.15"/><circle cx="103.1" cy="80.2" r="2.15"/><circle cx="144.6" cy="87.9" r="2.15"/><circle cx="111.1" cy="76.3" r="2.15"/><circle cx="100.3" cy="63.7" r="2.15"/><circle cx="120.6" cy="87.1" r="2.15"/><circle cx="146.8" cy="90.5" r="2.15"/><circle cx="91.9" cy="72.1" r="2.15"/><circle cx="85.1" cy="69.9" r="2.15"/><circle cx="96.7" cy="70.9" r="2.15"/><circle cx="113.0" cy="82.6" r="2.15"/><circle cx="104.1" cy="66.8" r="2.15"/><circle cx="92.5" cy="77.1" r="2.15"/><circle cx="118.2" cy="80.2" r="2.15"/><circle cx="103.8" cy="67.9" r="2.15"/><circle cx="130.9" cy="75.5" r="2.15"/><circle cx="162.0" cy="86.0" r="2.15"/><circle cx="93.2" cy="78.2" r="2.15"/><circle cx="132.0" cy="90.7" r="2.15"/><circle cx="96.6" cy="76.9" r="2.15"/><circle cx="181.3" cy="81.9" r="2.15"/><circle cx="124.7" cy="86.4" r="2.15"/><circle cx="83.6" cy="65.6" r="2.15"/><circle cx="138.5" cy="88.6" r="2.15"/><circle cx="114.1" cy="89.3" r="2.15"/><circle cx="119.8" cy="90.6" r="2.15"/><circle cx="110.8" cy="81.3" r="2.15"/><circle cx="143.5" cy="77.5" r="2.15"/><circle cx="92.7" cy="66.7" r="2.15"/><circle cx="101.0" cy="85.4" r="2.15"/><circle cx="124.0" cy="89.7" r="2.15"/><circle cx="122.4" cy="92.1" r="2.15"/><circle cx="108.6" cy="80.9" r="2.15"/><circle cx="127.1" cy="74.1" r="2.15"/><circle cx="124.3" cy="78.4" r="2.15"/><circle cx="119.5" cy="90.0" r="2.15"/><circle cx="106.5" cy="89.0" r="2.15"/><circle cx="113.1" cy="84.0" r="2.15"/><circle cx="154.4" cy="89.4" r="2.15"/><circle cx="94.8" cy="90.0" r="2.15"/><circle cx="169.1" cy="86.1" r="2.15"/><circle cx="94.6" cy="76.1" r="2.15"/><circle cx="124.3" cy="89.7" r="2.15"/><circle cx="145.6" cy="88.1" r="2.15"/><circle cx="145.3" cy="84.2" r="2.15"/><circle cx="89.4" cy="59.6" r="2.15"/><circle cx="132.3" cy="90.7" r="2.15"/><circle cx="104.6" cy="92.2" r="2.15"/><circle cx="104.3" cy="78.0" r="2.15"/><circle cx="95.0" cy="65.2" r="2.15"/><circle cx="168.6" cy="91.9" r="2.15"/><circle cx="119.2" cy="85.2" r="2.15"/><circle cx="139.6" cy="50.4" r="2.15"/><circle cx="126.9" cy="86.8" r="2.15"/><circle cx="100.6" cy="90.8" r="2.15"/><circle cx="99.4" cy="88.2" r="2.15"/><circle cx="155.8" cy="85.2" r="2.15"/><circle cx="97.4" cy="71.4" r="2.15"/><circle cx="141.3" cy="89.9" r="2.15"/><circle cx="93.9" cy="48.8" r="2.15"/><circle cx="129.5" cy="89.5" r="2.15"/><circle cx="127.1" cy="78.9" r="2.15"/><circle cx="144.8" cy="84.1" r="2.15"/><circle cx="122.0" cy="77.7" r="2.15"/><circle cx="100.7" cy="70.6" r="2.15"/><circle cx="150.0" cy="92.3" r="2.15"/><circle cx="118.2" cy="77.9" r="2.15"/><circle cx="107.7" cy="71.6" r="2.15"/><circle cx="84.2" cy="71.3" r="2.15"/><circle cx="109.9" cy="54.4" r="2.15"/><circle cx="142.0" cy="91.6" r="2.15"/><circle cx="97.8" cy="83.1" r="2.15"/><circle cx="115.8" cy="78.6" r="2.15"/><circle cx="121.7" cy="86.5" r="2.15"/><circle cx="116.3" cy="76.7" r="2.15"/><circle cx="93.7" cy="90.0" r="2.15"/><circle cx="110.0" cy="82.1" r="2.15"/><circle cx="96.8" cy="80.9" r="2.15"/><circle cx="113.0" cy="82.4" r="2.15"/><circle cx="123.5" cy="85.2" r="2.15"/><circle cx="125.5" cy="79.1" r="2.15"/><circle cx="96.8" cy="80.8" r="2.15"/><circle cx="156.4" cy="88.8" r="2.15"/><circle cx="138.0" cy="80.4" r="2.15"/><circle cx="134.3" cy="79.5" r="2.15"/><circle cx="90.9" cy="65.9" r="2.15"/><circle cx="99.2" cy="71.8" r="2.15"/><circle cx="125.8" cy="79.7" r="2.15"/><circle cx="119.2" cy="88.4" r="2.15"/><circle cx="112.0" cy="91.3" r="2.15"/><circle cx="92.0" cy="72.1" r="2.15"/><circle cx="88.5" cy="71.8" r="2.15"/><circle cx="117.8" cy="92.0" r="2.15"/><circle cx="131.0" cy="90.1" r="2.15"/><circle cx="120.9" cy="80.1" r="2.15"/><circle cx="120.1" cy="77.7" r="2.15"/><circle cx="171.4" cy="83.8" r="2.15"/><circle cx="92.5" cy="70.8" r="2.15"/><circle cx="145.3" cy="90.2" r="2.15"/><circle cx="92.6" cy="86.3" r="2.15"/><circle cx="106.5" cy="86.0" r="2.15"/><circle cx="151.1" cy="88.6" r="2.15"/><circle cx="114.1" cy="74.7" r="2.15"/><circle cx="103.0" cy="79.1" r="2.15"/><circle cx="107.0" cy="76.6" r="2.15"/><circle cx="130.1" cy="79.5" r="2.15"/><circle cx="139.8" cy="87.2" r="2.15"/><circle cx="112.5" cy="89.2" r="2.15"/><circle cx="89.0" cy="83.8" r="2.15"/><circle cx="103.4" cy="77.3" r="2.15"/><circle cx="164.7" cy="92.2" r="2.15"/><circle cx="172.0" cy="85.2" r="2.15"/><circle cx="93.6" cy="68.7" r="2.15"/><circle cx="120.8" cy="81.0" r="2.15"/><circle cx="102.9" cy="74.9" r="2.15"/><circle cx="90.7" cy="73.7" r="2.15"/><circle cx="123.9" cy="89.7" r="2.15"/><circle cx="122.5" cy="85.0" r="2.15"/><circle cx="106.3" cy="89.2" r="2.15"/><circle cx="111.2" cy="78.1" r="2.15"/><circle cx="123.2" cy="82.7" r="2.15"/><circle cx="87.8" cy="79.7" r="2.15"/><circle cx="87.8" cy="85.7" r="2.15"/><circle cx="131.8" cy="76.7" r="2.15"/><circle cx="124.3" cy="90.3" r="2.15"/><circle cx="104.8" cy="70.3" r="2.15"/><circle cx="119.7" cy="79.6" r="2.15"/><circle cx="139.1" cy="85.1" r="2.15"/><circle cx="126.0" cy="59.0" r="2.15"/><circle cx="113.2" cy="69.5" r="2.15"/><circle cx="90.0" cy="86.7" r="2.15"/><circle cx="107.8" cy="90.4" r="2.15"/><circle cx="102.0" cy="72.6" r="2.15"/><circle cx="148.4" cy="83.7" r="2.15"/><circle cx="93.5" cy="73.1" r="2.15"/><circle cx="111.2" cy="77.1" r="2.15"/><circle cx="87.6" cy="83.9" r="2.15"/><circle cx="136.1" cy="73.5" r="2.15"/><circle cx="99.8" cy="88.8" r="2.15"/><circle cx="139.9" cy="80.4" r="2.15"/><circle cx="99.5" cy="89.0" r="2.15"/><circle cx="91.8" cy="79.2" r="2.15"/><circle cx="156.8" cy="88.6" r="2.15"/><circle cx="112.7" cy="83.3" r="2.15"/><circle cx="129.8" cy="91.9" r="2.15"/><circle cx="100.6" cy="89.7" r="2.15"/><circle cx="96.4" cy="70.6" r="2.15"/><circle cx="130.3" cy="79.2" r="2.15"/><circle cx="98.0" cy="82.4" r="2.15"/><circle cx="94.7" cy="77.8" r="2.15"/><circle cx="110.2" cy="86.4" r="2.15"/><circle cx="98.0" cy="75.6" r="2.15"/><circle cx="133.9" cy="90.2" r="2.15"/><circle cx="132.6" cy="79.4" r="2.15"/><circle cx="94.6" cy="66.2" r="2.15"/><circle cx="108.7" cy="90.8" r="2.15"/><circle cx="116.3" cy="86.7" r="2.15"/><circle cx="139.1" cy="90.6" r="2.15"/><circle cx="145.2" cy="83.6" r="2.15"/><circle cx="126.6" cy="87.1" r="2.15"/><circle cx="121.0" cy="81.7" r="2.15"/><circle cx="98.7" cy="80.1" r="2.15"/><circle cx="100.5" cy="91.8" r="2.15"/><circle cx="100.7" cy="78.3" r="2.15"/><circle cx="102.0" cy="81.9" r="2.15"/><circle cx="106.9" cy="89.1" r="2.15"/><circle cx="113.1" cy="89.7" r="2.15"/><circle cx="95.0" cy="85.6" r="2.15"/><circle cx="160.4" cy="91.1" r="2.15"/><circle cx="95.1" cy="90.7" r="2.15"/><circle cx="111.4" cy="85.1" r="2.15"/><circle cx="92.0" cy="82.5" r="2.15"/><circle cx="102.9" cy="74.5" r="2.15"/><circle cx="85.4" cy="66.9" r="2.15"/><circle cx="128.9" cy="85.2" r="2.15"/><circle cx="141.3" cy="89.3" r="2.15"/><circle cx="114.3" cy="89.5" r="2.15"/><circle cx="112.7" cy="78.4" r="2.15"/><circle cx="95.1" cy="87.7" r="2.15"/><circle cx="133.0" cy="88.4" r="2.15"/><circle cx="104.2" cy="77.6" r="2.15"/><circle cx="128.7" cy="83.2" r="2.15"/><circle cx="119.2" cy="90.0" r="2.15"/><circle cx="125.3" cy="77.2" r="2.15"/><circle cx="100.1" cy="68.2" r="2.15"/><circle cx="93.8" cy="84.9" r="2.15"/><circle cx="125.3" cy="92.1" r="2.15"/><circle cx="97.8" cy="59.7" r="2.15"/><circle cx="157.0" cy="87.6" r="2.15"/><circle cx="104.0" cy="72.2" r="2.15"/><circle cx="166.6" cy="87.3" r="2.15"/><circle cx="184.9" cy="84.8" r="2.15"/><circle cx="128.0" cy="65.6" r="2.15"/><circle cx="116.4" cy="90.3" r="2.15"/><circle cx="89.0" cy="90.3" r="2.15"/><circle cx="114.5" cy="70.2" r="2.15"/><circle cx="103.8" cy="85.9" r="2.15"/><circle cx="88.6" cy="82.6" r="2.15"/><circle cx="108.2" cy="79.1" r="2.15"/><circle cx="91.9" cy="81.5" r="2.15"/><circle cx="119.0" cy="76.3" r="2.15"/><circle cx="97.9" cy="91.9" r="2.15"/><circle cx="129.2" cy="88.6" r="2.15"/><circle cx="120.3" cy="91.9" r="2.15"/><circle cx="98.7" cy="75.5" r="2.15"/><circle cx="130.1" cy="86.5" r="2.15"/><circle cx="116.6" cy="91.1" r="2.15"/><circle cx="129.0" cy="77.1" r="2.15"/><circle cx="102.6" cy="77.6" r="2.15"/><circle cx="93.8" cy="92.2" r="2.15"/><circle cx="123.4" cy="87.0" r="2.15"/><circle cx="135.0" cy="90.6" r="2.15"/><circle cx="128.4" cy="88.4" r="2.15"/><circle cx="95.5" cy="82.3" r="2.15"/><circle cx="139.3" cy="85.1" r="2.15"/><circle cx="88.2" cy="84.9" r="2.15"/><circle cx="136.6" cy="87.6" r="2.15"/><circle cx="124.4" cy="80.5" r="2.15"/><circle cx="105.4" cy="84.2" r="2.15"/><circle cx="118.9" cy="74.7" r="2.15"/><circle cx="147.0" cy="73.5" r="2.15"/><circle cx="110.6" cy="87.8" r="2.15"/><circle cx="134.3" cy="92.0" r="2.15"/><circle cx="134.1" cy="90.6" r="2.15"/><circle cx="102.2" cy="92.1" r="2.15"/><circle cx="94.6" cy="82.8" r="2.15"/><circle cx="130.1" cy="89.2" r="2.15"/><circle cx="98.9" cy="80.6" r="2.15"/><circle cx="113.6" cy="85.4" r="2.15"/><circle cx="124.2" cy="92.2" r="2.15"/><circle cx="87.5" cy="57.3" r="2.15"/><circle cx="146.9" cy="91.3" r="2.15"/><circle cx="121.1" cy="81.2" r="2.15"/><circle cx="93.3" cy="89.2" r="2.15"/><circle cx="107.4" cy="86.9" r="2.15"/><circle cx="110.9" cy="92.0" r="2.15"/><circle cx="91.1" cy="87.8" r="2.15"/><circle cx="98.9" cy="79.6" r="2.15"/><circle cx="128.1" cy="85.7" r="2.15"/><circle cx="87.4" cy="62.6" r="2.15"/><circle cx="109.9" cy="88.6" r="2.15"/><circle cx="99.3" cy="81.8" r="2.15"/><circle cx="105.2" cy="80.2" r="2.15"/><circle cx="142.3" cy="85.9" r="2.15"/><circle cx="87.5" cy="63.6" r="2.15"/><circle cx="170.4" cy="92.0" r="2.15"/><circle cx="110.7" cy="81.2" r="2.15"/><circle cx="95.3" cy="78.8" r="2.15"/><circle cx="130.3" cy="86.7" r="2.15"/><circle cx="119.5" cy="84.9" r="2.15"/><circle cx="167.0" cy="90.6" r="2.15"/><circle cx="107.1" cy="77.5" r="2.15"/><circle cx="157.8" cy="87.2" r="2.15"/><circle cx="94.6" cy="82.5" r="2.15"/><circle cx="85.5" cy="75.7" r="2.15"/><circle cx="103.7" cy="87.4" r="2.15"/><circle cx="100.8" cy="60.3" r="2.15"/><circle cx="111.2" cy="87.4" r="2.15"/><circle cx="165.7" cy="90.6" r="2.15"/><circle cx="152.0" cy="87.4" r="2.15"/><circle cx="121.5" cy="73.3" r="2.15"/><circle cx="117.8" cy="87.3" r="2.15"/><circle cx="138.3" cy="91.5" r="2.15"/><circle cx="106.7" cy="86.9" r="2.15"/><circle cx="89.4" cy="72.2" r="2.15"/><circle cx="118.8" cy="73.2" r="2.15"/><circle cx="90.5" cy="92.2" r="2.15"/><circle cx="116.6" cy="72.5" r="2.15"/><circle cx="117.5" cy="86.5" r="2.15"/><circle cx="125.4" cy="89.0" r="2.15"/><circle cx="116.1" cy="81.8" r="2.15"/><circle cx="104.7" cy="80.7" r="2.15"/><circle cx="100.2" cy="84.3" r="2.15"/><circle cx="85.3" cy="62.4" r="2.15"/><circle cx="95.4" cy="74.4" r="2.15"/><circle cx="105.0" cy="84.5" r="2.15"/><circle cx="128.9" cy="88.3" r="2.15"/><circle cx="137.4" cy="84.7" r="2.15"/><circle cx="145.8" cy="89.1" r="2.15"/><circle cx="100.9" cy="77.0" r="2.15"/><circle cx="96.0" cy="84.5" r="2.15"/><circle cx="106.7" cy="78.2" r="2.15"/><circle cx="141.4" cy="82.7" r="2.15"/><circle cx="89.6" cy="89.1" r="2.15"/><circle cx="144.2" cy="83.4" r="2.15"/><circle cx="121.1" cy="73.5" r="2.15"/><circle cx="91.7" cy="90.1" r="2.15"/><circle cx="100.8" cy="79.5" r="2.15"/><circle cx="96.8" cy="92.0" r="2.15"/><circle cx="93.0" cy="39.4" r="2.15"/><circle cx="139.0" cy="88.4" r="2.15"/><circle cx="90.5" cy="82.7" r="2.15"/><circle cx="108.6" cy="72.2" r="2.15"/><circle cx="93.3" cy="74.7" r="2.15"/><circle cx="94.2" cy="73.7" r="2.15"/><circle cx="144.3" cy="64.7" r="2.15"/><circle cx="126.1" cy="89.8" r="2.15"/><circle cx="97.2" cy="83.2" r="2.15"/><circle cx="143.6" cy="88.9" r="2.15"/><circle cx="114.3" cy="80.5" r="2.15"/><circle cx="111.4" cy="90.6" r="2.15"/><circle cx="101.3" cy="65.7" r="2.15"/><circle cx="134.3" cy="91.8" r="2.15"/><circle cx="149.2" cy="89.9" r="2.15"/><circle cx="89.4" cy="63.8" r="2.15"/><circle cx="90.4" cy="90.3" r="2.15"/><circle cx="160.8" cy="92.0" r="2.15"/><circle cx="91.8" cy="86.4" r="2.15"/><circle cx="97.1" cy="89.8" r="2.15"/><circle cx="113.8" cy="78.3" r="2.15"/><circle cx="122.8" cy="84.3" r="2.15"/><circle cx="133.9" cy="84.6" r="2.15"/><circle cx="135.7" cy="90.5" r="2.15"/><circle cx="135.1" cy="85.1" r="2.15"/><circle cx="132.7" cy="92.0" r="2.15"/><circle cx="97.1" cy="89.5" r="2.15"/><circle cx="123.0" cy="91.4" r="2.15"/><circle cx="123.9" cy="75.9" r="2.15"/><circle cx="115.2" cy="83.8" r="2.15"/><circle cx="101.9" cy="87.4" r="2.15"/><circle cx="95.1" cy="84.4" r="2.15"/><circle cx="98.2" cy="78.0" r="2.15"/><circle cx="102.3" cy="88.0" r="2.15"/><circle cx="114.5" cy="81.2" r="2.15"/><circle cx="116.0" cy="90.7" r="2.15"/><circle cx="127.1" cy="68.6" r="2.15"/><circle cx="142.0" cy="72.0" r="2.15"/><circle cx="125.0" cy="92.2" r="2.15"/><circle cx="83.9" cy="62.7" r="2.15"/><circle cx="95.3" cy="90.9" r="2.15"/><circle cx="108.7" cy="79.7" r="2.15"/><circle cx="149.8" cy="87.8" r="2.15"/><circle cx="113.6" cy="84.4" r="2.15"/><circle cx="108.8" cy="85.8" r="2.15"/><circle cx="174.7" cy="88.5" r="2.15"/><circle cx="88.9" cy="88.9" r="2.15"/><circle cx="145.4" cy="81.5" r="2.15"/><circle cx="97.6" cy="82.8" r="2.15"/><circle cx="134.4" cy="81.1" r="2.15"/><circle cx="125.6" cy="76.3" r="2.15"/><circle cx="126.4" cy="79.3" r="2.15"/><circle cx="137.1" cy="91.9" r="2.15"/><circle cx="88.6" cy="71.0" r="2.15"/><circle cx="103.4" cy="80.0" r="2.15"/><circle cx="119.3" cy="87.0" r="2.15"/><circle cx="109.6" cy="70.9" r="2.15"/><circle cx="174.6" cy="90.5" r="2.15"/><circle cx="84.9" cy="56.0" r="2.15"/><circle cx="110.6" cy="89.1" r="2.15"/><circle cx="155.0" cy="85.4" r="2.15"/><circle cx="99.6" cy="68.4" r="2.15"/><circle cx="115.3" cy="75.2" r="2.15"/><circle cx="106.4" cy="67.8" r="2.15"/><circle cx="101.9" cy="88.1" r="2.15"/><circle cx="139.7" cy="91.9" r="2.15"/><circle cx="109.1" cy="79.0" r="2.15"/><circle cx="119.4" cy="84.2" r="2.15"/><circle cx="84.1" cy="68.8" r="2.15"/><circle cx="121.3" cy="83.4" r="2.15"/><circle cx="106.3" cy="72.8" r="2.15"/><circle cx="148.5" cy="81.9" r="2.15"/><circle cx="100.6" cy="76.8" r="2.15"/><circle cx="114.0" cy="80.5" r="2.15"/><circle cx="119.9" cy="88.2" r="2.15"/><circle cx="95.7" cy="76.2" r="2.15"/><circle cx="126.2" cy="88.0" r="2.15"/><circle cx="94.9" cy="78.1" r="2.15"/><circle cx="107.8" cy="68.7" r="2.15"/><circle cx="101.5" cy="78.2" r="2.15"/><circle cx="112.0" cy="81.6" r="2.15"/><circle cx="157.7" cy="85.3" r="2.15"/><circle cx="116.3" cy="81.2" r="2.15"/><circle cx="90.6" cy="92.0" r="2.15"/><circle cx="104.1" cy="71.7" r="2.15"/><circle cx="92.1" cy="91.8" r="2.15"/><circle cx="183.1" cy="82.3" r="2.15"/><circle cx="154.5" cy="88.1" r="2.15"/><circle cx="142.7" cy="86.6" r="2.15"/><circle cx="111.9" cy="76.2" r="2.15"/><circle cx="109.6" cy="84.1" r="2.15"/><circle cx="100.4" cy="84.2" r="2.15"/><circle cx="99.6" cy="91.3" r="2.15"/><circle cx="100.5" cy="54.2" r="2.15"/><circle cx="132.0" cy="89.5" r="2.15"/><circle cx="89.8" cy="77.2" r="2.15"/><circle cx="92.5" cy="87.9" r="2.15"/><circle cx="84.2" cy="63.4" r="2.15"/><circle cx="158.7" cy="89.1" r="2.15"/><circle cx="130.7" cy="82.6" r="2.15"/><circle cx="121.9" cy="90.7" r="2.15"/><circle cx="151.9" cy="89.5" r="2.15"/><circle cx="107.7" cy="53.9" r="2.15"/><circle cx="116.2" cy="84.0" r="2.15"/><circle cx="139.7" cy="76.6" r="2.15"/><circle cx="148.6" cy="88.4" r="2.15"/><circle cx="123.6" cy="87.6" r="2.15"/><circle cx="156.0" cy="81.6" r="2.15"/><circle cx="86.5" cy="78.2" r="2.15"/><circle cx="96.6" cy="89.2" r="2.15"/><circle cx="110.0" cy="86.9" r="2.15"/><circle cx="95.2" cy="64.1" r="2.15"/><circle cx="88.0" cy="74.6" r="2.15"/><circle cx="128.9" cy="84.7" r="2.15"/><circle cx="93.2" cy="85.0" r="2.15"/><circle cx="97.4" cy="89.9" r="2.15"/><circle cx="107.1" cy="89.8" r="2.15"/><circle cx="129.4" cy="80.8" r="2.15"/><circle cx="93.5" cy="90.8" r="2.15"/><circle cx="90.0" cy="89.6" r="2.15"/><circle cx="96.7" cy="87.9" r="2.15"/><circle cx="164.5" cy="75.2" r="2.15"/><circle cx="97.7" cy="91.8" r="2.15"/><circle cx="90.8" cy="69.7" r="2.15"/><circle cx="104.0" cy="72.3" r="2.15"/><circle cx="135.1" cy="65.3" r="2.15"/><circle cx="90.0" cy="54.9" r="2.15"/><circle cx="102.7" cy="88.1" r="2.15"/><circle cx="116.9" cy="84.9" r="2.15"/><circle cx="98.3" cy="86.4" r="2.15"/><circle cx="129.8" cy="84.6" r="2.15"/><circle cx="122.1" cy="77.2" r="2.15"/><circle cx="129.4" cy="84.8" r="2.15"/><circle cx="101.5" cy="75.5" r="2.15"/><circle cx="128.0" cy="82.9" r="2.15"/><circle cx="138.3" cy="83.4" r="2.15"/><circle cx="94.4" cy="85.5" r="2.15"/><circle cx="121.9" cy="89.5" r="2.15"/><circle cx="131.4" cy="88.0" r="2.15"/><circle cx="108.6" cy="88.4" r="2.15"/><circle cx="110.9" cy="83.2" r="2.15"/><circle cx="96.8" cy="79.5" r="2.15"/><circle cx="132.0" cy="85.3" r="2.15"/><circle cx="176.3" cy="88.0" r="2.15"/><circle cx="125.3" cy="91.6" r="2.15"/><circle cx="101.0" cy="84.8" r="2.15"/><circle cx="100.9" cy="86.1" r="2.15"/><circle cx="86.1" cy="66.8" r="2.15"/><circle cx="139.2" cy="85.5" r="2.15"/><circle cx="115.3" cy="87.7" r="2.15"/><circle cx="146.6" cy="88.9" r="2.15"/><circle cx="110.0" cy="57.3" r="2.15"/><circle cx="88.1" cy="67.6" r="2.15"/><circle cx="149.6" cy="90.6" r="2.15"/><circle cx="127.1" cy="88.5" r="2.15"/><circle cx="151.8" cy="87.7" r="2.15"/><circle cx="143.8" cy="86.7" r="2.15"/><circle cx="106.9" cy="83.9" r="2.15"/><circle cx="93.6" cy="74.6" r="2.15"/><circle cx="147.6" cy="87.0" r="2.15"/><circle cx="86.5" cy="75.6" r="2.15"/><circle cx="84.9" cy="45.4" r="2.15"/><circle cx="127.6" cy="89.2" r="2.15"/><circle cx="165.8" cy="90.9" r="2.15"/><circle cx="85.4" cy="68.3" r="2.15"/><circle cx="142.7" cy="89.7" r="2.15"/><circle cx="102.0" cy="50.4" r="2.15"/><circle cx="95.5" cy="78.1" r="2.15"/><circle cx="125.4" cy="86.9" r="2.15"/><circle cx="103.2" cy="77.1" r="2.15"/><circle cx="114.6" cy="50.4" r="2.15"/><circle cx="127.7" cy="86.9" r="2.15"/><circle cx="93.9" cy="86.7" r="2.15"/><circle cx="131.7" cy="92.2" r="2.15"/><circle cx="106.1" cy="89.7" r="2.15"/><circle cx="119.9" cy="89.4" r="2.15"/><circle cx="101.7" cy="76.9" r="2.15"/><circle cx="97.8" cy="80.9" r="2.15"/>
</g>
<g fill="#5f8ec8" stroke="#3c64a0" stroke-width="0.45">
<circle cx="146.2" cy="136.1" r="2.15"/><circle cx="152.2" cy="142.8" r="2.15"/><circle cx="101.1" cy="150.1" r="2.15"/><circle cx="113.4" cy="123.9" r="2.15"/><circle cx="159.1" cy="123.6" r="2.15"/><circle cx="133.1" cy="116.9" r="2.15"/><circle cx="140.4" cy="136.6" r="2.15"/><circle cx="166.5" cy="117.8" r="2.15"/><circle cx="109.3" cy="126.5" r="2.15"/><circle cx="154.5" cy="116.6" r="2.15"/><circle cx="98.6" cy="132.0" r="2.15"/><circle cx="112.5" cy="121.1" r="2.15"/><circle cx="154.2" cy="121.2" r="2.15"/><circle cx="167.6" cy="123.6" r="2.15"/><circle cx="150.9" cy="132.0" r="2.15"/><circle cx="127.4" cy="151.6" r="2.15"/><circle cx="122.7" cy="130.1" r="2.15"/><circle cx="111.2" cy="130.2" r="2.15"/><circle cx="117.7" cy="119.7" r="2.15"/><circle cx="101.2" cy="118.6" r="2.15"/><circle cx="104.7" cy="130.2" r="2.15"/><circle cx="151.5" cy="173.5" r="2.15"/><circle cx="116.7" cy="117.8" r="2.15"/><circle cx="178.2" cy="129.7" r="2.15"/><circle cx="138.9" cy="121.3" r="2.15"/><circle cx="126.4" cy="141.8" r="2.15"/><circle cx="106.6" cy="127.0" r="2.15"/><circle cx="128.6" cy="117.2" r="2.15"/><circle cx="99.7" cy="140.5" r="2.15"/><circle cx="130.4" cy="137.8" r="2.15"/><circle cx="98.2" cy="117.3" r="2.15"/><circle cx="156.0" cy="119.9" r="2.15"/><circle cx="124.6" cy="180.0" r="2.15"/><circle cx="130.5" cy="117.2" r="2.15"/><circle cx="112.8" cy="118.1" r="2.15"/><circle cx="180.3" cy="116.9" r="2.15"/><circle cx="170.2" cy="116.6" r="2.15"/><circle cx="113.7" cy="137.0" r="2.15"/><circle cx="147.4" cy="127.5" r="2.15"/><circle cx="117.2" cy="130.2" r="2.15"/><circle cx="109.9" cy="119.4" r="2.15"/><circle cx="125.9" cy="120.9" r="2.15"/><circle cx="141.7" cy="130.9" r="2.15"/><circle cx="184.5" cy="117.1" r="2.15"/><circle cx="131.3" cy="152.7" r="2.15"/><circle cx="185.3" cy="121.6" r="2.15"/><circle cx="143.7" cy="126.7" r="2.15"/><circle cx="139.0" cy="126.5" r="2.15"/><circle cx="129.3" cy="128.1" r="2.15"/><circle cx="117.0" cy="155.1" r="2.15"/><circle cx="101.4" cy="119.0" r="2.15"/><circle cx="118.8" cy="178.5" r="2.15"/><circle cx="130.7" cy="138.6" r="2.15"/><circle cx="134.5" cy="123.2" r="2.15"/><circle cx="125.4" cy="123.7" r="2.15"/><circle cx="131.5" cy="129.1" r="2.15"/><circle cx="115.1" cy="126.8" r="2.15"/><circle cx="127.3" cy="128.2" r="2.15"/><circle cx="171.4" cy="144.9" r="2.15"/><circle cx="101.7" cy="173.8" r="2.15"/><circle cx="168.4" cy="135.8" r="2.15"/><circle cx="133.6" cy="117.4" r="2.15"/><circle cx="118.5" cy="131.2" r="2.15"/><circle cx="156.3" cy="135.6" r="2.15"/><circle cx="115.2" cy="122.2" r="2.15"/><circle cx="140.0" cy="160.0" r="2.15"/><circle cx="120.2" cy="121.4" r="2.15"/><circle cx="119.7" cy="118.9" r="2.15"/><circle cx="161.0" cy="121.3" r="2.15"/><circle cx="119.1" cy="155.4" r="2.15"/><circle cx="102.7" cy="118.3" r="2.15"/><circle cx="132.3" cy="132.1" r="2.15"/><circle cx="133.5" cy="126.9" r="2.15"/><circle cx="106.9" cy="126.9" r="2.15"/><circle cx="121.5" cy="125.2" r="2.15"/><circle cx="100.4" cy="137.0" r="2.15"/><circle cx="154.8" cy="117.4" r="2.15"/><circle cx="109.5" cy="133.1" r="2.15"/><circle cx="128.3" cy="119.7" r="2.15"/><circle cx="173.0" cy="125.4" r="2.15"/><circle cx="162.9" cy="129.9" r="2.15"/><circle cx="118.2" cy="118.9" r="2.15"/><circle cx="119.9" cy="123.8" r="2.15"/><circle cx="169.0" cy="122.6" r="2.15"/><circle cx="119.3" cy="121.8" r="2.15"/><circle cx="132.1" cy="130.6" r="2.15"/><circle cx="142.0" cy="122.1" r="2.15"/><circle cx="127.2" cy="125.5" r="2.15"/><circle cx="147.1" cy="120.8" r="2.15"/><circle cx="144.9" cy="116.6" r="2.15"/><circle cx="150.2" cy="123.0" r="2.15"/><circle cx="113.4" cy="150.5" r="2.15"/><circle cx="132.3" cy="116.6" r="2.15"/><circle cx="119.4" cy="129.4" r="2.15"/><circle cx="150.4" cy="123.1" r="2.15"/><circle cx="116.4" cy="138.8" r="2.15"/><circle cx="147.8" cy="144.2" r="2.15"/><circle cx="117.3" cy="122.9" r="2.15"/><circle cx="133.8" cy="120.3" r="2.15"/><circle cx="116.0" cy="119.8" r="2.15"/><circle cx="140.7" cy="125.2" r="2.15"/><circle cx="108.6" cy="122.8" r="2.15"/><circle cx="144.8" cy="117.4" r="2.15"/><circle cx="154.0" cy="135.5" r="2.15"/><circle cx="188.0" cy="158.0" r="2.15"/><circle cx="137.2" cy="121.3" r="2.15"/><circle cx="155.1" cy="118.5" r="2.15"/><circle cx="105.1" cy="118.7" r="2.15"/><circle cx="103.7" cy="126.7" r="2.15"/><circle cx="157.6" cy="127.5" r="2.15"/><circle cx="130.1" cy="121.6" r="2.15"/><circle cx="102.1" cy="139.2" r="2.15"/><circle cx="115.2" cy="118.0" r="2.15"/><circle cx="100.0" cy="163.0" r="2.15"/><circle cx="101.5" cy="188.8" r="2.15"/><circle cx="114.7" cy="164.2" r="2.15"/><circle cx="178.0" cy="146.0" r="2.15"/><circle cx="161.6" cy="119.3" r="2.15"/><circle cx="148.2" cy="128.1" r="2.15"/><circle cx="136.2" cy="123.0" r="2.15"/><circle cx="122.8" cy="155.1" r="2.15"/><circle cx="146.4" cy="126.4" r="2.15"/><circle cx="100.7" cy="129.8" r="2.15"/><circle cx="153.9" cy="128.4" r="2.15"/><circle cx="136.7" cy="127.6" r="2.15"/><circle cx="133.6" cy="128.0" r="2.15"/><circle cx="139.8" cy="121.2" r="2.15"/><circle cx="151.2" cy="136.5" r="2.15"/><circle cx="107.4" cy="117.1" r="2.15"/><circle cx="132.9" cy="133.2" r="2.15"/><circle cx="120.6" cy="124.5" r="2.15"/><circle cx="103.6" cy="123.8" r="2.15"/><circle cx="135.1" cy="117.1" r="2.15"/><circle cx="124.4" cy="127.2" r="2.15"/><circle cx="110.3" cy="132.3" r="2.15"/><circle cx="148.6" cy="127.2" r="2.15"/><circle cx="127.8" cy="124.0" r="2.15"/><circle cx="105.3" cy="123.4" r="2.15"/><circle cx="158.6" cy="151.8" r="2.15"/><circle cx="116.0" cy="125.8" r="2.15"/><circle cx="134.1" cy="123.2" r="2.15"/><circle cx="138.0" cy="128.1" r="2.15"/><circle cx="129.0" cy="119.6" r="2.15"/><circle cx="101.9" cy="133.0" r="2.15"/><circle cx="127.9" cy="122.0" r="2.15"/><circle cx="128.2" cy="137.3" r="2.15"/><circle cx="124.0" cy="130.8" r="2.15"/><circle cx="113.9" cy="122.0" r="2.15"/><circle cx="131.0" cy="117.5" r="2.15"/><circle cx="121.5" cy="139.4" r="2.15"/><circle cx="100.9" cy="137.4" r="2.15"/><circle cx="124.9" cy="142.1" r="2.15"/><circle cx="129.9" cy="135.8" r="2.15"/><circle cx="152.8" cy="131.2" r="2.15"/><circle cx="100.5" cy="123.7" r="2.15"/><circle cx="173.3" cy="122.3" r="2.15"/><circle cx="121.9" cy="137.3" r="2.15"/><circle cx="109.1" cy="126.0" r="2.15"/><circle cx="130.5" cy="119.6" r="2.15"/><circle cx="183.0" cy="140.0" r="2.15"/><circle cx="112.7" cy="128.8" r="2.15"/><circle cx="105.2" cy="143.4" r="2.15"/><circle cx="115.2" cy="139.7" r="2.15"/><circle cx="112.2" cy="146.2" r="2.15"/><circle cx="111.2" cy="118.9" r="2.15"/><circle cx="120.6" cy="130.8" r="2.15"/><circle cx="112.3" cy="117.9" r="2.15"/><circle cx="105.7" cy="118.0" r="2.15"/><circle cx="122.9" cy="124.7" r="2.15"/><circle cx="116.6" cy="138.6" r="2.15"/><circle cx="126.9" cy="125.5" r="2.15"/><circle cx="128.2" cy="127.5" r="2.15"/><circle cx="112.6" cy="120.3" r="2.15"/><circle cx="133.9" cy="143.5" r="2.15"/><circle cx="166.8" cy="124.8" r="2.15"/><circle cx="159.2" cy="144.1" r="2.15"/><circle cx="156.5" cy="121.3" r="2.15"/><circle cx="153.6" cy="129.5" r="2.15"/><circle cx="122.6" cy="145.4" r="2.15"/><circle cx="157.5" cy="158.9" r="2.15"/><circle cx="104.1" cy="134.0" r="2.15"/><circle cx="171.5" cy="120.5" r="2.15"/><circle cx="120.7" cy="121.5" r="2.15"/><circle cx="115.0" cy="133.9" r="2.15"/><circle cx="142.9" cy="117.6" r="2.15"/><circle cx="140.9" cy="143.7" r="2.15"/><circle cx="110.8" cy="127.2" r="2.15"/><circle cx="130.3" cy="122.9" r="2.15"/><circle cx="104.1" cy="158.9" r="2.15"/><circle cx="97.1" cy="136.0" r="2.15"/><circle cx="108.0" cy="117.7" r="2.15"/><circle cx="102.3" cy="137.0" r="2.15"/><circle cx="146.3" cy="130.9" r="2.15"/><circle cx="151.9" cy="122.6" r="2.15"/><circle cx="116.9" cy="165.2" r="2.15"/><circle cx="166.6" cy="120.6" r="2.15"/><circle cx="107.9" cy="140.1" r="2.15"/><circle cx="133.6" cy="124.0" r="2.15"/><circle cx="115.2" cy="135.7" r="2.15"/><circle cx="98.1" cy="163.8" r="2.15"/><circle cx="104.7" cy="121.2" r="2.15"/><circle cx="99.1" cy="120.5" r="2.15"/><circle cx="120.3" cy="127.9" r="2.15"/><circle cx="140.1" cy="119.7" r="2.15"/><circle cx="128.8" cy="125.2" r="2.15"/><circle cx="130.1" cy="127.3" r="2.15"/><circle cx="123.5" cy="151.9" r="2.15"/><circle cx="139.7" cy="150.3" r="2.15"/><circle cx="134.2" cy="119.6" r="2.15"/><circle cx="125.8" cy="134.4" r="2.15"/><circle cx="126.6" cy="123.4" r="2.15"/><circle cx="148.8" cy="120.1" r="2.15"/><circle cx="129.7" cy="117.6" r="2.15"/><circle cx="165.0" cy="158.0" r="2.15"/><circle cx="138.2" cy="125.8" r="2.15"/><circle cx="118.4" cy="153.4" r="2.15"/><circle cx="108.9" cy="116.5" r="2.15"/><circle cx="119.3" cy="143.3" r="2.15"/><circle cx="147.2" cy="126.4" r="2.15"/><circle cx="101.9" cy="120.7" r="2.15"/><circle cx="186.2" cy="116.6" r="2.15"/><circle cx="142.8" cy="116.6" r="2.15"/><circle cx="112.2" cy="134.7" r="2.15"/><circle cx="141.3" cy="125.4" r="2.15"/><circle cx="155.6" cy="123.5" r="2.15"/><circle cx="137.9" cy="166.3" r="2.15"/><circle cx="124.5" cy="126.0" r="2.15"/><circle cx="121.7" cy="175.4" r="2.15"/><circle cx="108.0" cy="168.0" r="2.15"/><circle cx="119.6" cy="116.6" r="2.15"/><circle cx="167.3" cy="119.0" r="2.15"/><circle cx="101.1" cy="121.0" r="2.15"/><circle cx="138.6" cy="118.4" r="2.15"/><circle cx="99.1" cy="121.6" r="2.15"/><circle cx="103.5" cy="137.2" r="2.15"/><circle cx="113.9" cy="117.0" r="2.15"/><circle cx="99.7" cy="151.1" r="2.15"/><circle cx="130.4" cy="119.8" r="2.15"/><circle cx="202.0" cy="116.0" r="2.15"/><circle cx="148.8" cy="119.3" r="2.15"/><circle cx="121.9" cy="119.1" r="2.15"/><circle cx="116.2" cy="151.2" r="2.15"/><circle cx="122.0" cy="136.8" r="2.15"/><circle cx="138.5" cy="119.9" r="2.15"/><circle cx="168.7" cy="156.7" r="2.15"/><circle cx="106.7" cy="127.9" r="2.15"/><circle cx="124.3" cy="140.8" r="2.15"/><circle cx="110.2" cy="140.9" r="2.15"/><circle cx="159.7" cy="117.6" r="2.15"/><circle cx="109.3" cy="120.1" r="2.15"/><circle cx="102.7" cy="119.5" r="2.15"/><circle cx="143.5" cy="121.5" r="2.15"/><circle cx="113.8" cy="119.0" r="2.15"/><circle cx="131.6" cy="129.9" r="2.15"/><circle cx="157.0" cy="162.0" r="2.15"/><circle cx="134.5" cy="148.9" r="2.15"/><circle cx="133.8" cy="116.9" r="2.15"/><circle cx="131.1" cy="119.4" r="2.15"/><circle cx="171.0" cy="152.0" r="2.15"/><circle cx="172.0" cy="117.3" r="2.15"/><circle cx="128.1" cy="121.7" r="2.15"/><circle cx="102.2" cy="133.6" r="2.15"/><circle cx="126.8" cy="143.7" r="2.15"/><circle cx="153.1" cy="118.0" r="2.15"/><circle cx="124.6" cy="174.3" r="2.15"/><circle cx="169.6" cy="118.1" r="2.15"/><circle cx="149.9" cy="157.0" r="2.15"/><circle cx="136.1" cy="137.9" r="2.15"/><circle cx="117.1" cy="119.4" r="2.15"/><circle cx="130.7" cy="128.3" r="2.15"/><circle cx="142.5" cy="142.7" r="2.15"/><circle cx="114.7" cy="118.3" r="2.15"/><circle cx="149.6" cy="119.9" r="2.15"/><circle cx="112.8" cy="118.6" r="2.15"/><circle cx="151.2" cy="117.3" r="2.15"/><circle cx="159.6" cy="120.2" r="2.15"/><circle cx="131.8" cy="145.7" r="2.15"/><circle cx="122.7" cy="128.6" r="2.15"/><circle cx="134.7" cy="120.1" r="2.15"/><circle cx="141.4" cy="127.2" r="2.15"/><circle cx="111.4" cy="137.5" r="2.15"/><circle cx="148.6" cy="125.9" r="2.15"/><circle cx="124.5" cy="123.1" r="2.15"/><circle cx="120.1" cy="140.4" r="2.15"/><circle cx="133.1" cy="118.0" r="2.15"/><circle cx="165.8" cy="122.8" r="2.15"/><circle cx="103.8" cy="121.8" r="2.15"/><circle cx="143.4" cy="125.0" r="2.15"/><circle cx="101.1" cy="136.3" r="2.15"/><circle cx="131.3" cy="117.1" r="2.15"/><circle cx="144.2" cy="153.3" r="2.15"/><circle cx="130.9" cy="126.6" r="2.15"/><circle cx="104.2" cy="128.4" r="2.15"/><circle cx="113.1" cy="119.9" r="2.15"/><circle cx="116.7" cy="125.7" r="2.15"/><circle cx="177.6" cy="120.9" r="2.15"/><circle cx="115.0" cy="144.4" r="2.15"/><circle cx="147.6" cy="127.3" r="2.15"/><circle cx="162.4" cy="125.8" r="2.15"/><circle cx="107.7" cy="151.6" r="2.15"/><circle cx="102.3" cy="119.5" r="2.15"/><circle cx="114.7" cy="127.3" r="2.15"/><circle cx="123.3" cy="142.8" r="2.15"/><circle cx="115.7" cy="123.8" r="2.15"/><circle cx="150.4" cy="124.2" r="2.15"/><circle cx="182.6" cy="124.1" r="2.15"/><circle cx="148.7" cy="120.7" r="2.15"/><circle cx="114.0" cy="117.7" r="2.15"/><circle cx="141.5" cy="124.4" r="2.15"/><circle cx="105.7" cy="120.6" r="2.15"/><circle cx="131.9" cy="122.9" r="2.15"/><circle cx="136.4" cy="133.2" r="2.15"/><circle cx="104.6" cy="119.2" r="2.15"/><circle cx="124.1" cy="122.0" r="2.15"/><circle cx="149.1" cy="132.4" r="2.15"/><circle cx="116.5" cy="152.9" r="2.15"/><circle cx="135.5" cy="117.7" r="2.15"/><circle cx="176.6" cy="123.6" r="2.15"/><circle cx="145.9" cy="127.5" r="2.15"/><circle cx="123.0" cy="117.5" r="2.15"/><circle cx="98.1" cy="143.7" r="2.15"/><circle cx="115.9" cy="117.6" r="2.15"/><circle cx="124.0" cy="122.5" r="2.15"/><circle cx="150.5" cy="118.1" r="2.15"/><circle cx="195.0" cy="116.0" r="2.15"/><circle cx="149.4" cy="124.9" r="2.15"/><circle cx="150.0" cy="164.5" r="2.15"/><circle cx="112.6" cy="130.1" r="2.15"/><circle cx="139.0" cy="127.1" r="2.15"/><circle cx="141.0" cy="137.2" r="2.15"/><circle cx="171.8" cy="134.7" r="2.15"/><circle cx="145.1" cy="136.0" r="2.15"/><circle cx="99.1" cy="117.1" r="2.15"/><circle cx="108.5" cy="121.7" r="2.15"/><circle cx="189.1" cy="117.8" r="2.15"/><circle cx="123.3" cy="116.9" r="2.15"/><circle cx="134.7" cy="119.8" r="2.15"/><circle cx="187.0" cy="118.4" r="2.15"/><circle cx="140.2" cy="121.1" r="2.15"/><circle cx="149.5" cy="123.9" r="2.15"/><circle cx="103.1" cy="134.6" r="2.15"/><circle cx="125.9" cy="127.6" r="2.15"/><circle cx="113.6" cy="125.7" r="2.15"/><circle cx="144.1" cy="126.8" r="2.15"/><circle cx="101.3" cy="142.0" r="2.15"/><circle cx="110.5" cy="128.7" r="2.15"/><circle cx="117.1" cy="119.7" r="2.15"/><circle cx="171.5" cy="119.4" r="2.15"/><circle cx="149.4" cy="117.5" r="2.15"/><circle cx="158.8" cy="120.5" r="2.15"/><circle cx="128.4" cy="120.9" r="2.15"/><circle cx="138.5" cy="137.2" r="2.15"/><circle cx="158.6" cy="116.5" r="2.15"/><circle cx="144.3" cy="119.3" r="2.15"/><circle cx="135.2" cy="116.9" r="2.15"/><circle cx="104.7" cy="144.9" r="2.15"/><circle cx="126.2" cy="117.1" r="2.15"/><circle cx="105.2" cy="126.1" r="2.15"/><circle cx="97.4" cy="117.2" r="2.15"/><circle cx="117.8" cy="116.9" r="2.15"/><circle cx="132.6" cy="130.9" r="2.15"/><circle cx="97.7" cy="143.4" r="2.15"/><circle cx="116.0" cy="121.8" r="2.15"/><circle cx="122.3" cy="166.9" r="2.15"/><circle cx="117.0" cy="190.8" r="2.15"/><circle cx="106.8" cy="120.9" r="2.15"/><circle cx="126.5" cy="119.3" r="2.15"/><circle cx="127.7" cy="124.2" r="2.15"/><circle cx="179.9" cy="122.1" r="2.15"/><circle cx="160.5" cy="131.9" r="2.15"/><circle cx="156.7" cy="159.0" r="2.15"/><circle cx="159.4" cy="117.7" r="2.15"/><circle cx="119.7" cy="123.8" r="2.15"/><circle cx="124.4" cy="124.8" r="2.15"/><circle cx="154.5" cy="131.6" r="2.15"/><circle cx="134.1" cy="128.7" r="2.15"/><circle cx="109.3" cy="123.2" r="2.15"/><circle cx="151.0" cy="116.7" r="2.15"/><circle cx="122.5" cy="120.2" r="2.15"/><circle cx="148.9" cy="120.6" r="2.15"/><circle cx="154.2" cy="151.2" r="2.15"/><circle cx="159.1" cy="158.8" r="2.15"/><circle cx="99.8" cy="156.0" r="2.15"/><circle cx="104.3" cy="153.6" r="2.15"/><circle cx="113.8" cy="126.7" r="2.15"/><circle cx="100.4" cy="119.8" r="2.15"/><circle cx="111.5" cy="160.8" r="2.15"/><circle cx="124.8" cy="131.5" r="2.15"/><circle cx="145.6" cy="119.0" r="2.15"/><circle cx="134.6" cy="120.4" r="2.15"/><circle cx="139.8" cy="131.9" r="2.15"/><circle cx="101.7" cy="137.6" r="2.15"/><circle cx="130.2" cy="118.1" r="2.15"/><circle cx="98.1" cy="121.9" r="2.15"/><circle cx="103.4" cy="146.9" r="2.15"/><circle cx="131.0" cy="130.2" r="2.15"/><circle cx="114.0" cy="125.7" r="2.15"/><circle cx="146.8" cy="121.7" r="2.15"/><circle cx="166.4" cy="120.3" r="2.15"/><circle cx="150.3" cy="121.8" r="2.15"/><circle cx="170.1" cy="132.1" r="2.15"/><circle cx="133.3" cy="126.9" r="2.15"/><circle cx="144.1" cy="119.8" r="2.15"/><circle cx="117.7" cy="127.1" r="2.15"/><circle cx="97.6" cy="131.3" r="2.15"/><circle cx="125.5" cy="124.9" r="2.15"/><circle cx="113.9" cy="140.0" r="2.15"/><circle cx="143.7" cy="139.2" r="2.15"/><circle cx="164.8" cy="119.5" r="2.15"/><circle cx="108.6" cy="157.9" r="2.15"/><circle cx="151.0" cy="136.1" r="2.15"/><circle cx="97.2" cy="132.5" r="2.15"/><circle cx="145.1" cy="120.2" r="2.15"/><circle cx="180.0" cy="118.4" r="2.15"/><circle cx="172.7" cy="143.0" r="2.15"/><circle cx="129.4" cy="118.5" r="2.15"/><circle cx="129.6" cy="133.8" r="2.15"/><circle cx="112.5" cy="122.5" r="2.15"/><circle cx="123.4" cy="126.4" r="2.15"/><circle cx="118.8" cy="123.2" r="2.15"/><circle cx="100.1" cy="170.2" r="2.15"/><circle cx="151.4" cy="125.1" r="2.15"/><circle cx="142.8" cy="138.9" r="2.15"/><circle cx="116.9" cy="138.2" r="2.15"/><circle cx="142.7" cy="131.2" r="2.15"/><circle cx="108.0" cy="129.9" r="2.15"/><circle cx="128.0" cy="137.2" r="2.15"/><circle cx="142.6" cy="150.2" r="2.15"/><circle cx="132.1" cy="128.5" r="2.15"/><circle cx="121.6" cy="145.8" r="2.15"/><circle cx="138.2" cy="123.6" r="2.15"/><circle cx="136.1" cy="122.7" r="2.15"/><circle cx="150.2" cy="130.0" r="2.15"/><circle cx="165.5" cy="123.4" r="2.15"/><circle cx="147.3" cy="122.9" r="2.15"/><circle cx="116.9" cy="125.5" r="2.15"/><circle cx="101.5" cy="138.4" r="2.15"/>
</g>
<text x="78.6" y="33.0" font-size="4.8" fill="#222" textLength="13.4" lengthAdjust="spacingAndGlyphs">BMCN</text>
<text x="74.0" y="39.5" font-size="4.8" fill="#222" textLength="11" lengthAdjust="spacingAndGlyphs">LGR6</text>
<text x="78.5" y="50.0" font-size="4.8" fill="#222" textLength="11.5" lengthAdjust="spacingAndGlyphs">FLT1</text>
<text x="99.8" y="46.6" font-size="4.8" fill="#222" textLength="10.8" lengthAdjust="spacingAndGlyphs">THY1</text>
<text x="115.4" y="48.4" font-size="4.8" fill="#222" textLength="17.6" lengthAdjust="spacingAndGlyphs">PRDM16</text>
<text x="114.0" y="33.3" font-size="4.8" fill="#222" textLength="8.7" lengthAdjust="spacingAndGlyphs">HLF</text>
<text x="112.3" y="63.4" font-size="4.8" fill="#222" textLength="17.3" lengthAdjust="spacingAndGlyphs">MECOM</text>
<text x="132.2" y="59.6" font-size="4.8" fill="#222" textLength="15.6" lengthAdjust="spacingAndGlyphs">HMGA2</text>
<text x="145.2" y="65.1" font-size="4.8" fill="#222" textLength="12.8" lengthAdjust="spacingAndGlyphs">HOPX</text>
<text x="152.0" y="70.8" font-size="4.8" fill="#222" textLength="16.5" lengthAdjust="spacingAndGlyphs">PROM1</text>
<text x="153.8" y="76.9" font-size="4.8" fill="#222" textLength="17.2" lengthAdjust="spacingAndGlyphs">PROCR</text>
<text x="164.0" y="156.5" font-size="4.8" fill="#222" textLength="15" lengthAdjust="spacingAndGlyphs">GATA1</text>
<text x="136.0" y="165.5" font-size="4.8" fill="#222" textLength="12.5" lengthAdjust="spacingAndGlyphs">ANK1</text>
<text x="165.0" y="170.0" font-size="4.8" fill="#222" textLength="7.7" lengthAdjust="spacingAndGlyphs">HBD</text>
<text x="90.0" y="174.5" font-size="4.8" fill="#222" textLength="12" lengthAdjust="spacingAndGlyphs">HBA1</text>
<text x="156.0" y="175.0" font-size="4.8" fill="#222" textLength="9.8" lengthAdjust="spacingAndGlyphs">KLF1</text>
<text x="127.7" y="177.0" font-size="4.8" fill="#222" textLength="13.1" lengthAdjust="spacingAndGlyphs">HBG2</text>
<text x="101.5" y="183.5" font-size="4.8" fill="#222" textLength="11.5" lengthAdjust="spacingAndGlyphs">HBG1</text>
<text x="126.5" y="189.5" font-size="4.8" fill="#222" textLength="15.5" lengthAdjust="spacingAndGlyphs">EPB42</text>
<text x="150.8" y="191.0" font-size="4.8" fill="#222" textLength="9.2" lengthAdjust="spacingAndGlyphs">HBB</text>
<g stroke="#222" stroke-width="0.45"><line x1="92.5" y1="31.5" x2="95" y2="32.5"/><line x1="86" y1="38" x2="90.5" y2="39"/><line x1="90.5" y1="48" x2="92" y2="48.6"/><line x1="109.7" y1="47.5" x2="113.2" y2="51.8"/><line x1="115.8" y1="50" x2="112.3" y2="60"/><line x1="117.5" y1="64.8" x2="116.6" y2="70"/><line x1="134.8" y1="61.3" x2="127" y2="71.7"/><line x1="146" y1="66.5" x2="141.7" y2="72.6"/><line x1="153" y1="71.7" x2="145.2" y2="75.2"/><line x1="153.8" y1="76.9" x2="148.6" y2="80.4"/><line x1="165" y1="152.5" x2="163" y2="146"/><line x1="141" y1="161" x2="141" y2="152"/><line x1="167.5" y1="165" x2="167.5" y2="156"/><line x1="98" y1="170.5" x2="105" y2="163"/><line x1="158.5" y1="169.5" x2="158.5" y2="157"/><line x1="134" y1="173" x2="141" y2="166"/><line x1="111" y1="180" x2="117" y2="175"/><line x1="130" y1="184" x2="123" y2="179"/><line x1="156" y1="186" x2="150" y2="176"/></g>
<rect x="58" y="25" width="176" height="173" fill="none" stroke="#000" stroke-width="1.3"/>
<line x1="53" y1="194.3" x2="58" y2="194.3" stroke="#000" stroke-width="1"/>
<text x="51.5" y="197.3" font-size="8.6" text-anchor="end" fill="#000">-8</text>
<line x1="53" y1="171.7" x2="58" y2="171.7" stroke="#000" stroke-width="1"/>
<text x="51.5" y="174.7" font-size="8.6" text-anchor="end" fill="#000">-6</text>
<line x1="53" y1="149.1" x2="58" y2="149.1" stroke="#000" stroke-width="1"/>
<text x="51.5" y="152.1" font-size="8.6" text-anchor="end" fill="#000">-4</text>
<line x1="53" y1="126.5" x2="58" y2="126.5" stroke="#000" stroke-width="1"/>
<text x="51.5" y="129.5" font-size="8.6" text-anchor="end" fill="#000">-2</text>
<line x1="53" y1="103.9" x2="58" y2="103.9" stroke="#000" stroke-width="1"/>
<text x="51.5" y="106.9" font-size="8.6" text-anchor="end" fill="#000">0</text>
<line x1="53" y1="81.3" x2="58" y2="81.3" stroke="#000" stroke-width="1"/>
<text x="51.5" y="84.3" font-size="8.6" text-anchor="end" fill="#000">2</text>
<line x1="53" y1="58.7" x2="58" y2="58.7" stroke="#000" stroke-width="1"/>
<text x="51.5" y="61.7" font-size="8.6" text-anchor="end" fill="#000">4</text>
<line x1="53" y1="36.1" x2="58" y2="36.1" stroke="#000" stroke-width="1"/>
<text x="51.5" y="39.1" font-size="8.6" text-anchor="end" fill="#000">6</text>
<line x1="66.6" y1="198" x2="66.6" y2="202.5" stroke="#000" stroke-width="1"/>
<text x="66.6" y="211.0" font-size="8.6" text-anchor="middle" fill="#000">-1</text>
<line x1="101.0" y1="198" x2="101.0" y2="202.5" stroke="#000" stroke-width="1"/>
<text x="101.0" y="211.0" font-size="8.6" text-anchor="middle" fill="#000">0</text>
<line x1="135.4" y1="198" x2="135.4" y2="202.5" stroke="#000" stroke-width="1"/>
<text x="135.4" y="211.0" font-size="8.6" text-anchor="middle" fill="#000">1</text>
<line x1="169.8" y1="198" x2="169.8" y2="202.5" stroke="#000" stroke-width="1"/>
<text x="169.8" y="211.0" font-size="8.6" text-anchor="middle" fill="#000">2</text>
<line x1="204.2" y1="198" x2="204.2" y2="202.5" stroke="#000" stroke-width="1"/>
<text x="204.2" y="211.0" font-size="8.6" text-anchor="middle" fill="#000">3</text>
<text x="180.8" y="32.5" font-size="7.4" fill="#111" textLength="39.2" lengthAdjust="spacingAndGlyphs">p-value ≤ .01</text>
<text x="180.8" y="43.0" font-size="7.4" fill="#111" textLength="47.5" lengthAdjust="spacingAndGlyphs">fold-change ≥ 2</text>
<text x="176.0" y="60.0" font-size="7.4" fill="#b03434" textLength="44" lengthAdjust="spacingAndGlyphs">597 up (2.4%)</text>
<text x="176.0" y="184.5" font-size="7.4" fill="#5b86bf" textLength="53" lengthAdjust="spacingAndGlyphs">451 down (1.8%)</text>
<text x="55" y="228.6" font-size="10.2" textLength="182" lengthAdjust="spacingAndGlyphs">Mean overall expression, log<tspan font-size="6.5" dy="2">10</tspan><tspan dy="-2"> (RPKM+10</tspan><tspan font-size="6" dy="-3.5">-4</tspan><tspan dy="3.5">)</tspan></text>
<g transform="translate(33.4,188) rotate(-90)"><text x="0" y="0" font-size="10.5" textLength="153.5" lengthAdjust="spacingAndGlyphs">Fold change, log<tspan font-size="6.5" dy="2">2</tspan><tspan dy="-2"> (EPCR</tspan><tspan font-size="6.5" dy="-3.5">Hi</tspan><tspan dy="3.5">/EPCR</tspan><tspan font-size="6.5" dy="-3.5">Rest</tspan><tspan dy="3.5">)</tspan></text></g>
<rect x="54" y="367.5" width="127.5" height="24.5" fill="#fff"/>
<defs><linearGradient id="cb307" x1="0" x2="1" y1="0" y2="0"><stop offset="0" stop-color="#5a1818"/><stop offset="0.06" stop-color="#a02a30"/><stop offset="0.12" stop-color="#d03848"/><stop offset="0.36" stop-color="#d8506a"/><stop offset="0.46" stop-color="#e8a0b8"/><stop offset="0.58" stop-color="#e8d0e8"/><stop offset="0.72" stop-color="#c8c0e4"/><stop offset="0.8" stop-color="#9890c8"/><stop offset="0.85" stop-color="#40408e"/><stop offset="1" stop-color="#2a2a78"/></linearGradient></defs>
<rect x="54" y="386.5" width="127.5" height="5.5" fill="url(#cb307)"/>
<g filter="url(#blB)">
<rect x="54.0" y="367.5" width="17.25" height="19.0" fill="#000"/>
<rect x="71.0" y="367.5" width="2.05" height="19.0" fill="#eee"/>
<rect x="72.8" y="367.5" width="1.25" height="19.0" fill="#888"/>
<rect x="73.8" y="367.5" width="2.05" height="19.0" fill="#ccc"/>
<rect x="75.6" y="367.5" width="2.45" height="19.0" fill="#fff"/>
<rect x="77.8" y="367.5" width="1.05" height="19.0" fill="#fff"/>
<rect x="78.6" y="367.5" width="1.05" height="19.0" fill="#ccc"/>
<rect x="79.4" y="367.5" width="1.45" height="19.0" fill="#eee"/>
<rect x="80.6" y="367.5" width="1.25" height="19.0" fill="#444"/>
<rect x="81.6" y="367.5" width="2.45" height="19.0" fill="#ccc"/>
<rect x="83.8" y="367.5" width="2.05" height="19.0" fill="#eee"/>
<rect x="85.6" y="367.5" width="1.75" height="19.0" fill="#aaa"/>
<rect x="87.1" y="367.5" width="2.45" height="19.0" fill="#222"/>
<rect x="89.3" y="367.5" width="1.25" height="19.0" fill="#222"/>
<rect x="90.3" y="367.5" width="2.05" height="19.0" fill="#aaa"/>
<rect x="92.1" y="367.5" width="2.45" height="19.0" fill="#000"/>
<rect x="94.3" y="367.5" width="2.45" height="19.0" fill="#111"/>
<rect x="96.5" y="367.5" width="1.25" height="19.0" fill="#fff"/>
<rect x="97.5" y="367.5" width="1.05" height="19.0" fill="#666"/>
<rect x="98.3" y="367.5" width="1.05" height="19.0" fill="#666"/>
<rect x="99.1" y="367.5" width="1.75" height="19.0" fill="#fff"/>
<rect x="100.6" y="367.5" width="2.45" height="19.0" fill="#aaa"/>
<rect x="102.8" y="367.5" width="2.45" height="19.0" fill="#aaa"/>
<rect x="105.0" y="367.5" width="1.75" height="19.0" fill="#fff"/>
<rect x="106.5" y="367.5" width="1.75" height="19.0" fill="#222"/>
<rect x="108.0" y="367.5" width="1.45" height="19.0" fill="#111"/>
<rect x="109.2" y="367.5" width="1.05" height="19.0" fill="#222"/>
<rect x="110.0" y="367.5" width="1.75" height="19.0" fill="#444"/>
<rect x="111.5" y="367.5" width="1.45" height="19.0" fill="#aaa"/>
<rect x="112.7" y="367.5" width="2.45" height="19.0" fill="#666"/>
<rect x="114.9" y="367.5" width="1.75" height="19.0" fill="#eee"/>
<rect x="116.4" y="367.5" width="1.75" height="19.0" fill="#fff"/>
<rect x="117.9" y="367.5" width="1.45" height="19.0" fill="#eee"/>
<rect x="119.1" y="367.5" width="2.05" height="19.0" fill="#aaa"/>
<rect x="120.9" y="367.5" width="2.05" height="19.0" fill="#444"/>
<rect x="122.7" y="367.5" width="1.45" height="19.0" fill="#000"/>
<rect x="123.9" y="367.5" width="1.45" height="19.0" fill="#fff"/>
<rect x="125.1" y="367.5" width="2.45" height="19.0" fill="#222"/>
<rect x="127.3" y="367.5" width="0.95" height="19.0" fill="#888"/>
<rect x="128.0" y="367.5" width="2.05" height="19.0" fill="#444"/>
<rect x="129.8" y="367.5" width="2.45" height="19.0" fill="#999"/>
<rect x="132.0" y="367.5" width="2.45" height="19.0" fill="#bbb"/>
<rect x="134.2" y="367.5" width="1.45" height="19.0" fill="#444"/>
<rect x="135.4" y="367.5" width="1.05" height="19.0" fill="#fff"/>
<rect x="136.2" y="367.5" width="2.45" height="19.0" fill="#fff"/>
<rect x="138.4" y="367.5" width="1.05" height="19.0" fill="#ddd"/>
<rect x="139.2" y="367.5" width="1.05" height="19.0" fill="#eee"/>
<rect x="140.0" y="367.5" width="1.25" height="19.0" fill="#111"/>
<rect x="141.0" y="367.5" width="1.45" height="19.0" fill="#eee"/>
<rect x="142.2" y="367.5" width="1.75" height="19.0" fill="#444"/>
<rect x="143.7" y="367.5" width="1.05" height="19.0" fill="#111"/>
<rect x="144.5" y="367.5" width="1.75" height="19.0" fill="#ddd"/>
<rect x="146.0" y="367.5" width="2.05" height="19.0" fill="#bbb"/>
<rect x="147.8" y="367.5" width="2.05" height="19.0" fill="#999"/>
<rect x="149.6" y="367.5" width="1.05" height="19.0" fill="#bbb"/>
<rect x="150.4" y="367.5" width="1.05" height="19.0" fill="#444"/>
<rect x="151.2" y="367.5" width="1.05" height="19.0" fill="#111"/>
<rect x="152.0" y="367.5" width="1.25" height="19.0" fill="#eee"/>
<rect x="153.0" y="367.5" width="1.45" height="19.0" fill="#bbb"/>
<rect x="154.2" y="367.5" width="1.25" height="19.0" fill="#111"/>
<rect x="155.2" y="367.5" width="1.45" height="19.0" fill="#ddd"/>
<rect x="156.4" y="367.5" width="1.45" height="19.0" fill="#777"/>
<rect x="157.6" y="367.5" width="1.75" height="19.0" fill="#eee"/>
<rect x="159.1" y="367.5" width="1.15" height="19.0" fill="#eee"/>
<rect x="160.0" y="367.5" width="2.45" height="19.0" fill="#bbb"/>
<rect x="162.2" y="367.5" width="2.05" height="19.0" fill="#888"/>
<rect x="164.0" y="367.5" width="2.05" height="19.0" fill="#000"/>
<rect x="165.8" y="367.5" width="2.05" height="19.0" fill="#bbb"/>
<rect x="167.6" y="367.5" width="2.05" height="19.0" fill="#222"/>
<rect x="169.4" y="367.5" width="1.75" height="19.0" fill="#888"/>
<rect x="170.9" y="367.5" width="2.45" height="19.0" fill="#888"/>
<rect x="173.1" y="367.5" width="1.25" height="19.0" fill="#222"/>
<rect x="174.1" y="367.5" width="1.75" height="19.0" fill="#222"/>
<rect x="175.6" y="367.5" width="2.05" height="19.0" fill="#222"/>
<rect x="177.4" y="367.5" width="2.05" height="19.0" fill="#222"/>
<rect x="179.2" y="367.5" width="1.05" height="19.0" fill="#bbb"/>
<rect x="180.0" y="367.5" width="1.75" height="19.0" fill="#666"/>
</g>
<g opacity="0.3">
<rect x="54.0" y="386.5" width="17.25" height="5.5" fill="#000"/>
<rect x="71.0" y="386.5" width="2.05" height="5.5" fill="#eee"/>
<rect x="72.8" y="386.5" width="1.25" height="5.5" fill="#888"/>
<rect x="73.8" y="386.5" width="2.05" height="5.5" fill="#ccc"/>
<rect x="78.6" y="386.5" width="1.05" height="5.5" fill="#ccc"/>
<rect x="79.4" y="386.5" width="1.45" height="5.5" fill="#eee"/>
<rect x="80.6" y="386.5" width="1.25" height="5.5" fill="#444"/>
<rect x="81.6" y="386.5" width="2.45" height="5.5" fill="#ccc"/>
<rect x="83.8" y="386.5" width="2.05" height="5.5" fill="#eee"/>
<rect x="85.6" y="386.5" width="1.75" height="5.5" fill="#aaa"/>
<rect x="87.1" y="386.5" width="2.45" height="5.5" fill="#222"/>
<rect x="89.3" y="386.5" width="1.25" height="5.5" fill="#222"/>
<rect x="90.3" y="386.5" width="2.05" height="5.5" fill="#aaa"/>
<rect x="92.1" y="386.5" width="2.45" height="5.5" fill="#000"/>
<rect x="94.3" y="386.5" width="2.45" height="5.5" fill="#111"/>
<rect x="97.5" y="386.5" width="1.05" height="5.5" fill="#666"/>
<rect x="98.3" y="386.5" width="1.05" height="5.5" fill="#666"/>
<rect x="100.6" y="386.5" width="2.45" height="5.5" fill="#aaa"/>
<rect x="102.8" y="386.5" width="2.45" height="5.5" fill="#aaa"/>
<rect x="106.5" y="386.5" width="1.75" height="5.5" fill="#222"/>
<rect x="108.0" y="386.5" width="1.45" height="5.5" fill="#111"/>
<rect x="109.2" y="386.5" width="1.05" height="5.5" fill="#222"/>
<rect x="110.0" y="386.5" width="1.75" height="5.5" fill="#444"/>
<rect x="111.5" y="386.5" width="1.45" height="5.5" fill="#aaa"/>
<rect x="112.7" y="386.5" width="2.45" height="5.5" fill="#666"/>
<rect x="114.9" y="386.5" width="1.75" height="5.5" fill="#eee"/>
<rect x="117.9" y="386.5" width="1.45" height="5.5" fill="#eee"/>
<rect x="119.1" y="386.5" width="2.05" height="5.5" fill="#aaa"/>
<rect x="120.9" y="386.5" width="2.05" height="5.5" fill="#444"/>
<rect x="122.7" y="386.5" width="1.45" height="5.5" fill="#000"/>
<rect x="125.1" y="386.5" width="2.45" height="5.5" fill="#222"/>
<rect x="127.3" y="386.5" width="0.95" height="5.5" fill="#888"/>
<rect x="128.0" y="386.5" width="2.05" height="5.5" fill="#444"/>
<rect x="129.8" y="386.5" width="2.45" height="5.5" fill="#999"/>
<rect x="132.0" y="386.5" width="2.45" height="5.5" fill="#bbb"/>
<rect x="134.2" y="386.5" width="1.45" height="5.5" fill="#444"/>
<rect x="138.4" y="386.5" width="1.05" height="5.5" fill="#ddd"/>
<rect x="139.2" y="386.5" width="1.05" height="5.5" fill="#eee"/>
<rect x="140.0" y="386.5" width="1.25" height="5.5" fill="#111"/>
<rect x="141.0" y="386.5" width="1.45" height="5.5" fill="#eee"/>
<rect x="142.2" y="386.5" width="1.75" height="5.5" fill="#444"/>
<rect x="143.7" y="386.5" width="1.05" height="5.5" fill="#111"/>
<rect x="144.5" y="386.5" width="1.75" height="5.5" fill="#ddd"/>
<rect x="146.0" y="386.5" width="2.05" height="5.5" fill="#bbb"/>
<rect x="147.8" y="386.5" width="2.05" height="5.5" fill="#999"/>
<rect x="149.6" y="386.5" width="1.05" height="5.5" fill="#bbb"/>
<rect x="150.4" y="386.5" width="1.05" height="5.5" fill="#444"/>
<rect x="151.2" y="386.5" width="1.05" height="5.5" fill="#111"/>
<rect x="152.0" y="386.5" width="1.25" height="5.5" fill="#eee"/>
<rect x="153.0" y="386.5" width="1.45" height="5.5" fill="#bbb"/>
<rect x="154.2" y="386.5" width="1.25" height="5.5" fill="#111"/>
<rect x="155.2" y="386.5" width="1.45" height="5.5" fill="#ddd"/>
<rect x="156.4" y="386.5" width="1.45" height="5.5" fill="#777"/>
<rect x="157.6" y="386.5" width="1.75" height="5.5" fill="#eee"/>
<rect x="159.1" y="386.5" width="1.15" height="5.5" fill="#eee"/>
<rect x="160.0" y="386.5" width="2.45" height="5.5" fill="#bbb"/>
<rect x="162.2" y="386.5" width="2.05" height="5.5" fill="#888"/>
<rect x="164.0" y="386.5" width="2.05" height="5.5" fill="#000"/>
<rect x="165.8" y="386.5" width="2.05" height="5.5" fill="#bbb"/>
<rect x="167.6" y="386.5" width="2.05" height="5.5" fill="#222"/>
<rect x="169.4" y="386.5" width="1.75" height="5.5" fill="#888"/>
<rect x="170.9" y="386.5" width="2.45" height="5.5" fill="#888"/>
<rect x="173.1" y="386.5" width="1.25" height="5.5" fill="#222"/>
<rect x="174.1" y="386.5" width="1.75" height="5.5" fill="#222"/>
<rect x="175.6" y="386.5" width="2.05" height="5.5" fill="#222"/>
<rect x="177.4" y="386.5" width="2.05" height="5.5" fill="#222"/>
<rect x="179.2" y="386.5" width="1.05" height="5.5" fill="#bbb"/>
<rect x="180.0" y="386.5" width="1.75" height="5.5" fill="#666"/>
</g>
<line x1="54" y1="364" x2="181.5" y2="364" stroke="#999" stroke-width="0.9"/>
<path d="M54,364 C55.5,335 57,318 62,312 C66,308 70,308.5 75,310.5 C95,317 110,323 125,333 C140,343 155,354 166,360 C170,362 172,363.5 176,364" fill="none" stroke="#6aa84a" stroke-width="1.7"/>
<path d="M54,392 V307 H181.5 V392 Z" fill="none" stroke="#000" stroke-width="1.3"/>
<line x1="54" y1="366.0" x2="181.5" y2="366.0" stroke="#fff" stroke-width="0"/>
<text x="60.8" y="346.0" font-size="8" fill="#111">NES = 1.89</text>
<text x="60.8" y="356.5" font-size="8" fill="#111">p &lt; 0.001</text>
<text x="56.2" y="286.2" font-size="9.8" font-weight="bold" fill="#000" textLength="112.5" lengthAdjust="spacingAndGlyphs">CD34<tspan font-size="6.5" dy="-3.5">+</tspan><tspan dy="3.5">D38</tspan><tspan font-size="6.5" dy="-3.5">-/low</tspan><tspan dy="3.5">CD90</tspan><tspan font-size="6.5" dy="-3.5">+</tspan><tspan dy="3.5"> (FL)</tspan></text>
<text x="66.2" y="297.2" font-size="9.8" font-weight="bold" fill="#000" textLength="101.3" lengthAdjust="spacingAndGlyphs">(Prashad et al., 2015)</text>
<text x="55.0" y="408.0" font-size="9" fill="#c04048">EPCR<tspan font-size="6" dy="-3.5">+</tspan></text>
<text x="159.7" y="408.0" font-size="9" fill="#4a4a8e">EPCR<tspan font-size="6" dy="-3.5">Rest</tspan></text>
<g transform="translate(30.2,376) rotate(-90)"><text x="0" y="0" font-size="10.5" textLength="71.4" lengthAdjust="spacingAndGlyphs">Enrichment score</text></g>
<line x1="48.5" y1="364.0" x2="54" y2="364.0" stroke="#000" stroke-width="1"/>
<text x="47.8" y="367.2" font-size="9" text-anchor="end" fill="#111">0.0</text>
<line x1="50.5" y1="356.2" x2="54" y2="356.2" stroke="#000" stroke-width="1"/>
<line x1="48.5" y1="348.3" x2="54" y2="348.3" stroke="#000" stroke-width="1"/>
<text x="47.8" y="351.5" font-size="9" text-anchor="end" fill="#111">0.2</text>
<line x1="50.5" y1="340.5" x2="54" y2="340.5" stroke="#000" stroke-width="1"/>
<line x1="48.5" y1="332.7" x2="54" y2="332.7" stroke="#000" stroke-width="1"/>
<text x="47.8" y="335.9" font-size="9" text-anchor="end" fill="#111">0.4</text>
<line x1="50.5" y1="324.8" x2="54" y2="324.8" stroke="#000" stroke-width="1"/>
<line x1="48.5" y1="317.0" x2="54" y2="317.0" stroke="#000" stroke-width="1"/>
<text x="47.8" y="320.2" font-size="9" text-anchor="end" fill="#111">0.6</text>
<line x1="50.5" y1="309.2" x2="54" y2="309.2" stroke="#000" stroke-width="1"/>
<rect x="48.6" y="519.8" width="126.70000000000002" height="24.200000000000045" fill="#fff"/>
<defs><linearGradient id="cb459" x1="0" x2="1" y1="0" y2="0"><stop offset="0" stop-color="#5a1818"/><stop offset="0.06" stop-color="#a02a30"/><stop offset="0.12" stop-color="#d03848"/><stop offset="0.38" stop-color="#d85068"/><stop offset="0.45" stop-color="#e8a8c8"/><stop offset="0.6" stop-color="#e0c8e8"/><stop offset="0.75" stop-color="#b8b0e0"/><stop offset="0.8" stop-color="#8080c0"/><stop offset="0.85" stop-color="#4040a0"/><stop offset="1" stop-color="#30307e"/></linearGradient></defs>
<rect x="48.6" y="538.6" width="126.70000000000002" height="5.399999999999977" fill="url(#cb459)"/>
<g filter="url(#blB)">
<rect x="48.6" y="519.8" width="12.15" height="18.800000000000068" fill="#000"/>
<rect x="60.5" y="519.8" width="2.05" height="18.800000000000068" fill="#ccc"/>
<rect x="62.3" y="519.8" width="1.75" height="18.800000000000068" fill="#eee"/>
<rect x="63.8" y="519.8" width="2.05" height="18.800000000000068" fill="#444"/>
<rect x="65.6" y="519.8" width="1.25" height="18.800000000000068" fill="#eee"/>
<rect x="66.6" y="519.8" width="1.75" height="18.800000000000068" fill="#fff"/>
<rect x="68.1" y="519.8" width="1.25" height="18.800000000000068" fill="#111"/>
<rect x="69.1" y="519.8" width="1.75" height="18.800000000000068" fill="#666"/>
<rect x="70.6" y="519.8" width="1.25" height="18.800000000000068" fill="#111"/>
<rect x="71.6" y="519.8" width="2.05" height="18.800000000000068" fill="#000"/>
<rect x="73.4" y="519.8" width="2.05" height="18.800000000000068" fill="#aaa"/>
<rect x="75.2" y="519.8" width="1.75" height="18.800000000000068" fill="#fff"/>
<rect x="76.7" y="519.8" width="2.45" height="18.800000000000068" fill="#222"/>
<rect x="78.9" y="519.8" width="2.05" height="18.800000000000068" fill="#000"/>
<rect x="80.7" y="519.8" width="2.05" height="18.800000000000068" fill="#111"/>
<rect x="82.5" y="519.8" width="1.05" height="18.800000000000068" fill="#000"/>
<rect x="83.3" y="519.8" width="1.25" height="18.800000000000068" fill="#444"/>
<rect x="84.3" y="519.8" width="2.05" height="18.800000000000068" fill="#000"/>
<rect x="86.1" y="519.8" width="1.75" height="18.800000000000068" fill="#888"/>
<rect x="87.6" y="519.8" width="1.75" height="18.800000000000068" fill="#fff"/>
<rect x="89.1" y="519.8" width="1.25" height="18.800000000000068" fill="#eee"/>
<rect x="90.1" y="519.8" width="1.25" height="18.800000000000068" fill="#666"/>
<rect x="91.1" y="519.8" width="1.75" height="18.800000000000068" fill="#000"/>
<rect x="92.6" y="519.8" width="2.45" height="18.800000000000068" fill="#111"/>
<rect x="94.8" y="519.8" width="1.75" height="18.800000000000068" fill="#666"/>
<rect x="96.3" y="519.8" width="1.75" height="18.800000000000068" fill="#eee"/>
<rect x="97.8" y="519.8" width="1.05" height="18.800000000000068" fill="#666"/>
<rect x="98.6" y="519.8" width="1.45" height="18.800000000000068" fill="#444"/>
<rect x="99.8" y="519.8" width="2.05" height="18.800000000000068" fill="#666"/>
<rect x="101.6" y="519.8" width="1.05" height="18.800000000000068" fill="#111"/>
<rect x="102.4" y="519.8" width="2.05" height="18.800000000000068" fill="#111"/>
<rect x="104.2" y="519.8" width="1.75" height="18.800000000000068" fill="#111"/>
<rect x="105.7" y="519.8" width="1.45" height="18.800000000000068" fill="#aaa"/>
<rect x="106.9" y="519.8" width="1.05" height="18.800000000000068" fill="#000"/>
<rect x="107.7" y="519.8" width="0.55" height="18.800000000000068" fill="#000"/>
<rect x="108.0" y="519.8" width="13.65" height="18.800000000000068" fill="#fff"/>
<rect x="121.4" y="519.8" width="1.25" height="18.800000000000068" fill="#000"/>
<rect x="122.4" y="519.8" width="1.75" height="18.800000000000068" fill="#aaa"/>
<rect x="123.9" y="519.8" width="2.45" height="18.800000000000068" fill="#aaa"/>
<rect x="126.1" y="519.8" width="1.75" height="18.800000000000068" fill="#111"/>
<rect x="127.6" y="519.8" width="2.05" height="18.800000000000068" fill="#444"/>
<rect x="129.4" y="519.8" width="2.45" height="18.800000000000068" fill="#666"/>
<rect x="131.6" y="519.8" width="1.45" height="18.800000000000068" fill="#111"/>
<rect x="132.8" y="519.8" width="1.45" height="18.800000000000068" fill="#888"/>
<rect x="134.0" y="519.8" width="1.05" height="18.800000000000068" fill="#aaa"/>
<rect x="134.8" y="519.8" width="1.05" height="18.800000000000068" fill="#222"/>
<rect x="135.6" y="519.8" width="1.25" height="18.800000000000068" fill="#111"/>
<rect x="136.6" y="519.8" width="1.05" height="18.800000000000068" fill="#000"/>
<rect x="137.4" y="519.8" width="1.75" height="18.800000000000068" fill="#ccc"/>
<rect x="138.9" y="519.8" width="1.25" height="18.800000000000068" fill="#eee"/>
<rect x="139.9" y="519.8" width="1.25" height="18.800000000000068" fill="#ccc"/>
<rect x="140.9" y="519.8" width="2.05" height="18.800000000000068" fill="#444"/>
<rect x="142.7" y="519.8" width="2.45" height="18.800000000000068" fill="#222"/>
<rect x="144.9" y="519.8" width="1.75" height="18.800000000000068" fill="#aaa"/>
<rect x="146.4" y="519.8" width="1.05" height="18.800000000000068" fill="#aaa"/>
<rect x="147.2" y="519.8" width="1.75" height="18.800000000000068" fill="#444"/>
<rect x="148.7" y="519.8" width="1.05" height="18.800000000000068" fill="#666"/>
<rect x="149.5" y="519.8" width="0.75" height="18.800000000000068" fill="#666"/>
<rect x="150.0" y="519.8" width="1.05" height="18.800000000000068" fill="#111"/>
<rect x="150.8" y="519.8" width="1.25" height="18.800000000000068" fill="#444"/>
<rect x="151.8" y="519.8" width="2.05" height="18.800000000000068" fill="#888"/>
<rect x="153.6" y="519.8" width="2.05" height="18.800000000000068" fill="#000"/>
<rect x="155.4" y="519.8" width="1.05" height="18.800000000000068" fill="#111"/>
<rect x="156.2" y="519.8" width="1.25" height="18.800000000000068" fill="#444"/>
<rect x="157.2" y="519.8" width="1.45" height="18.800000000000068" fill="#000"/>
<rect x="158.4" y="519.8" width="2.05" height="18.800000000000068" fill="#222"/>
<rect x="160.2" y="519.8" width="1.45" height="18.800000000000068" fill="#444"/>
<rect x="161.4" y="519.8" width="1.05" height="18.800000000000068" fill="#000"/>
<rect x="162.2" y="519.8" width="1.05" height="18.800000000000068" fill="#111"/>
<rect x="163.0" y="519.8" width="2.05" height="18.800000000000068" fill="#888"/>
<rect x="164.8" y="519.8" width="1.25" height="18.800000000000068" fill="#000"/>
<rect x="165.8" y="519.8" width="2.05" height="18.800000000000068" fill="#222"/>
<rect x="167.6" y="519.8" width="1.45" height="18.800000000000068" fill="#666"/>
<rect x="168.8" y="519.8" width="1.75" height="18.800000000000068" fill="#111"/>
<rect x="170.3" y="519.8" width="2.05" height="18.800000000000068" fill="#444"/>
<rect x="172.1" y="519.8" width="2.05" height="18.800000000000068" fill="#111"/>
<rect x="173.9" y="519.8" width="1.65" height="18.800000000000068" fill="#111"/>
</g>
<g opacity="0.3">
<rect x="48.6" y="538.6" width="12.15" height="5.399999999999977" fill="#000"/>
<rect x="60.5" y="538.6" width="2.05" height="5.399999999999977" fill="#ccc"/>
<rect x="62.3" y="538.6" width="1.75" height="5.399999999999977" fill="#eee"/>
<rect x="63.8" y="538.6" width="2.05" height="5.399999999999977" fill="#444"/>
<rect x="65.6" y="538.6" width="1.25" height="5.399999999999977" fill="#eee"/>
<rect x="68.1" y="538.6" width="1.25" height="5.399999999999977" fill="#111"/>
<rect x="69.1" y="538.6" width="1.75" height="5.399999999999977" fill="#666"/>
<rect x="70.6" y="538.6" width="1.25" height="5.399999999999977" fill="#111"/>
<rect x="71.6" y="538.6" width="2.05" height="5.399999999999977" fill="#000"/>
<rect x="73.4" y="538.6" width="2.05" height="5.399999999999977" fill="#aaa"/>
<rect x="76.7" y="538.6" width="2.45" height="5.399999999999977" fill="#222"/>
<rect x="78.9" y="538.6" width="2.05" height="5.399999999999977" fill="#000"/>
<rect x="80.7" y="538.6" width="2.05" height="5.399999999999977" fill="#111"/>
<rect x="82.5" y="538.6" width="1.05" height="5.399999999999977" fill="#000"/>
<rect x="83.3" y="538.6" width="1.25" height="5.399999999999977" fill="#444"/>
<rect x="84.3" y="538.6" width="2.05" height="5.399999999999977" fill="#000"/>
<rect x="86.1" y="538.6" width="1.75" height="5.399999999999977" fill="#888"/>
<rect x="89.1" y="538.6" width="1.25" height="5.399999999999977" fill="#eee"/>
<rect x="90.1" y="538.6" width="1.25" height="5.399999999999977" fill="#666"/>
<rect x="91.1" y="538.6" width="1.75" height="5.399999999999977" fill="#000"/>
<rect x="92.6" y="538.6" width="2.45" height="5.399999999999977" fill="#111"/>
<rect x="94.8" y="538.6" width="1.75" height="5.399999999999977" fill="#666"/>
<rect x="96.3" y="538.6" width="1.75" height="5.399999999999977" fill="#eee"/>
<rect x="97.8" y="538.6" width="1.05" height="5.399999999999977" fill="#666"/>
<rect x="98.6" y="538.6" width="1.45" height="5.399999999999977" fill="#444"/>
<rect x="99.8" y="538.6" width="2.05" height="5.399999999999977" fill="#666"/>
<rect x="101.6" y="538.6" width="1.05" height="5.399999999999977" fill="#111"/>
<rect x="102.4" y="538.6" width="2.05" height="5.399999999999977" fill="#111"/>
<rect x="104.2" y="538.6" width="1.75" height="5.399999999999977" fill="#111"/>
<rect x="105.7" y="538.6" width="1.45" height="5.399999999999977" fill="#aaa"/>
<rect x="106.9" y="538.6" width="1.05" height="5.399999999999977" fill="#000"/>
<rect x="107.7" y="538.6" width="0.55" height="5.399999999999977" fill="#000"/>
<rect x="121.4" y="538.6" width="1.25" height="5.399999999999977" fill="#000"/>
<rect x="122.4" y="538.6" width="1.75" height="5.399999999999977" fill="#aaa"/>
<rect x="123.9" y="538.6" width="2.45" height="5.399999999999977" fill="#aaa"/>
<rect x="126.1" y="538.6" width="1.75" height="5.399999999999977" fill="#111"/>
<rect x="127.6" y="538.6" width="2.05" height="5.399999999999977" fill="#444"/>
<rect x="129.4" y="538.6" width="2.45" height="5.399999999999977" fill="#666"/>
<rect x="131.6" y="538.6" width="1.45" height="5.399999999999977" fill="#111"/>
<rect x="132.8" y="538.6" width="1.45" height="5.399999999999977" fill="#888"/>
<rect x="134.0" y="538.6" width="1.05" height="5.399999999999977" fill="#aaa"/>
<rect x="134.8" y="538.6" width="1.05" height="5.399999999999977" fill="#222"/>
<rect x="135.6" y="538.6" width="1.25" height="5.399999999999977" fill="#111"/>
<rect x="136.6" y="538.6" width="1.05" height="5.399999999999977" fill="#000"/>
<rect x="137.4" y="538.6" width="1.75" height="5.399999999999977" fill="#ccc"/>
<rect x="138.9" y="538.6" width="1.25" height="5.399999999999977" fill="#eee"/>
<rect x="139.9" y="538.6" width="1.25" height="5.399999999999977" fill="#ccc"/>
<rect x="140.9" y="538.6" width="2.05" height="5.399999999999977" fill="#444"/>
<rect x="142.7" y="538.6" width="2.45" height="5.399999999999977" fill="#222"/>
<rect x="144.9" y="538.6" width="1.75" height="5.399999999999977" fill="#aaa"/>
<rect x="146.4" y="538.6" width="1.05" height="5.399999999999977" fill="#aaa"/>
<rect x="147.2" y="538.6" width="1.75" height="5.399999999999977" fill="#444"/>
<rect x="148.7" y="538.6" width="1.05" height="5.399999999999977" fill="#666"/>
<rect x="149.5" y="538.6" width="0.75" height="5.399999999999977" fill="#666"/>
<rect x="150.0" y="538.6" width="1.05" height="5.399999999999977" fill="#111"/>
<rect x="150.8" y="538.6" width="1.25" height="5.399999999999977" fill="#444"/>
<rect x="151.8" y="538.6" width="2.05" height="5.399999999999977" fill="#888"/>
<rect x="153.6" y="538.6" width="2.05" height="5.399999999999977" fill="#000"/>
<rect x="155.4" y="538.6" width="1.05" height="5.399999999999977" fill="#111"/>
<rect x="156.2" y="538.6" width="1.25" height="5.399999999999977" fill="#444"/>
<rect x="157.2" y="538.6" width="1.45" height="5.399999999999977" fill="#000"/>
<rect x="158.4" y="538.6" width="2.05" height="5.399999999999977" fill="#222"/>
<rect x="160.2" y="538.6" width="1.45" height="5.399999999999977" fill="#444"/>
<rect x="161.4" y="538.6" width="1.05" height="5.399999999999977" fill="#000"/>
<rect x="162.2" y="538.6" width="1.05" height="5.399999999999977" fill="#111"/>
<rect x="163.0" y="538.6" width="2.05" height="5.399999999999977" fill="#888"/>
<rect x="164.8" y="538.6" width="1.25" height="5.399999999999977" fill="#000"/>
<rect x="165.8" y="538.6" width="2.05" height="5.399999999999977" fill="#222"/>
<rect x="167.6" y="538.6" width="1.45" height="5.399999999999977" fill="#666"/>
<rect x="168.8" y="538.6" width="1.75" height="5.399999999999977" fill="#111"/>
<rect x="170.3" y="538.6" width="2.05" height="5.399999999999977" fill="#444"/>
<rect x="172.1" y="538.6" width="2.05" height="5.399999999999977" fill="#111"/>
<rect x="173.9" y="538.6" width="1.65" height="5.399999999999977" fill="#111"/>
</g>
<line x1="48.6" y1="516.6" x2="175.3" y2="516.6" stroke="#999" stroke-width="0.9"/>
<path d="M48.6,516.5 C50,490 51.5,470 57,465 C61,461.5 65,461.5 70,463 C90,470 110,480 125,490 C140,500 155,509 163,513 C167,515 170,516.5 174,516.8" fill="none" stroke="#6aa84a" stroke-width="1.7"/>
<path d="M48.6,544 V459.5 H175.3 V544 Z" fill="none" stroke="#000" stroke-width="1.3"/>
<line x1="48.6" y1="518.3" x2="175.3" y2="518.3" stroke="#fff" stroke-width="0"/>
<text x="55.4" y="496.0" font-size="8" fill="#111">NES = 1.72</text>
<text x="55.4" y="506.5" font-size="8" fill="#111">p &lt; 0.001</text>
<text x="61.4" y="438.4" font-size="9.8" font-weight="bold" fill="#000" textLength="100.1" lengthAdjust="spacingAndGlyphs">CD34<tspan font-size="6.5" dy="-3.5">+</tspan><tspan dy="3.5">CD38</tspan><tspan font-size="6.5" dy="-3.5">-</tspan><tspan dy="3.5"> (CB/FL)</tspan></text>
<text x="58.5" y="451.0" font-size="9.8" font-weight="bold" fill="#000" textLength="105.9" lengthAdjust="spacingAndGlyphs">(Doulatov et al., 2015)</text>
<text x="51.0" y="559.7" font-size="9" fill="#c04048">EPCR<tspan font-size="6" dy="-3.5">+</tspan></text>
<text x="153.5" y="559.7" font-size="9" fill="#4a4a8e">EPCR<tspan font-size="6" dy="-3.5">Rest</tspan></text>
<g transform="translate(25.4,530) rotate(-90)"><text x="0" y="0" font-size="10.5" textLength="72.0" lengthAdjust="spacingAndGlyphs">Enrichment score</text></g>
<line x1="43.1" y1="516.6" x2="48.6" y2="516.6" stroke="#000" stroke-width="1"/>
<text x="42.4" y="519.8" font-size="9" text-anchor="end" fill="#111">0.0</text>
<line x1="45.1" y1="509.2" x2="48.6" y2="509.2" stroke="#000" stroke-width="1"/>
<line x1="43.1" y1="501.9" x2="48.6" y2="501.9" stroke="#000" stroke-width="1"/>
<text x="42.4" y="505.1" font-size="9" text-anchor="end" fill="#111">0.2</text>
<line x1="45.1" y1="494.6" x2="48.6" y2="494.6" stroke="#000" stroke-width="1"/>
<line x1="43.1" y1="487.2" x2="48.6" y2="487.2" stroke="#000" stroke-width="1"/>
<text x="42.4" y="490.4" font-size="9" text-anchor="end" fill="#111">0.4</text>
<line x1="45.1" y1="479.9" x2="48.6" y2="479.9" stroke="#000" stroke-width="1"/>
<line x1="43.1" y1="472.5" x2="48.6" y2="472.5" stroke="#000" stroke-width="1"/>
<text x="42.4" y="475.7" font-size="9" text-anchor="end" fill="#111">0.6</text>
<line x1="45.1" y1="465.1" x2="48.6" y2="465.1" stroke="#000" stroke-width="1"/>
<defs><clipPath id="cT"><circle cx="362.6" cy="84.7" r="35.5"/></clipPath><clipPath id="cL"><circle cx="345" cy="113.2" r="35.5"/></clipPath><clipPath id="cR"><circle cx="380.5" cy="113.2" r="35.5"/></clipPath></defs>
<circle cx="345" cy="113.2" r="35.5" fill="#e8e8e8"/><circle cx="380.5" cy="113.2" r="35.5" fill="#e8e8e8"/>
<g clip-path="url(#cL)"><circle cx="380.5" cy="113.2" r="35.5" fill="#d6d6d6"/></g>
<circle cx="362.6" cy="84.7" r="35.5" fill="#c65e54"/>
<g clip-path="url(#cT)"><circle cx="345" cy="113.2" r="35.5" fill="#bd6660"/><circle cx="380.5" cy="113.2" r="35.5" fill="#bd6660"/><g clip-path="url(#cL)"><circle cx="380.5" cy="113.2" r="35.5" fill="#b26262"/></g></g>
<g fill="none" stroke="#000" stroke-width="1.6"><circle cx="362.6" cy="84.7" r="35.5"/><circle cx="345" cy="113.2" r="35.5"/><circle cx="380.5" cy="113.2" r="35.5"/></g>
<text x="362.8" y="70.8" font-size="8.8" text-anchor="middle" fill="#111" textLength="12.75" lengthAdjust="spacingAndGlyphs">294</text>
<text x="345.0" y="95.2" font-size="8.8" text-anchor="middle" fill="#111" textLength="8.5" lengthAdjust="spacingAndGlyphs">93</text>
<text x="387.7" y="95.2" font-size="8.8" text-anchor="middle" fill="#111" textLength="8.5" lengthAdjust="spacingAndGlyphs">63</text>
<text x="362.8" y="109.0" font-size="8.8" text-anchor="middle" font-weight="bold" fill="#111" textLength="12.899999999999999" lengthAdjust="spacingAndGlyphs">120</text>
<text x="331.0" y="126.2" font-size="8.8" text-anchor="middle" fill="#111" textLength="12.75" lengthAdjust="spacingAndGlyphs">527</text>
<text x="396.5" y="126.2" font-size="8.8" text-anchor="middle" fill="#111" textLength="12.75" lengthAdjust="spacingAndGlyphs">250</text>
<text x="362.8" y="135.5" font-size="8.8" text-anchor="middle" fill="#111" textLength="12.75" lengthAdjust="spacingAndGlyphs">164</text>
<text x="349.6" y="31.7" font-size="8.6" fill="#111" textLength="25.4" lengthAdjust="spacingAndGlyphs">EPCR<tspan font-size="5.8" dy="-3.3">+</tspan></text>
<text x="342.3" y="42.2" font-size="8.6" fill="#111" textLength="39.7" lengthAdjust="spacingAndGlyphs">CB UM171</text>
<text x="272.8" y="165.0" font-size="8.6" fill="#111" textLength="82" lengthAdjust="spacingAndGlyphs">CD34<tspan font-size="5.8" dy="-3.2">+</tspan><tspan dy="3.2">CD38</tspan><tspan font-size="5.8" dy="-3.2">low/-</tspan><tspan dy="3.2">CD90</tspan><tspan font-size="5.8" dy="-3.2">+</tspan></text>
<text x="309.0" y="174.8" font-size="8.6" fill="#111" textLength="9" lengthAdjust="spacingAndGlyphs">FL</text>
<text x="386.0" y="165.0" font-size="8.6" fill="#111" textLength="45.7" lengthAdjust="spacingAndGlyphs">CD34<tspan font-size="5.8" dy="-3.2">+</tspan><tspan dy="3.2">CD38</tspan><tspan font-size="5.8" dy="-3.2">-</tspan></text>
<text x="397.4" y="174.8" font-size="8.6" fill="#111" textLength="23.6" lengthAdjust="spacingAndGlyphs">CB/FL</text>
<defs><linearGradient id="hmcb" x1="0" x2="1"><stop offset="0" stop-color="#2e2a8e"/><stop offset="0.5" stop-color="#ffffff"/><stop offset="1" stop-color="#c4221c"/></linearGradient></defs>
<rect x="309" y="226.5" width="97.5" height="8.5" fill="url(#hmcb)" stroke="#000" stroke-width="1"/>
<text x="358.0" y="223.3" font-size="8.3" text-anchor="middle" fill="#111">Relative</text>
<text x="311.3" y="244.8" font-size="8.3" fill="#111" textLength="32.3" lengthAdjust="spacingAndGlyphs">Row min</text>
<text x="370.4" y="244.8" font-size="8.3" fill="#111" textLength="33.8" lengthAdjust="spacingAndGlyphs">Row max</text>
<rect x="267.3" y="265.3" width="125.2" height="82.7" fill="#37287f"/>
<rect x="392.5" y="265.3" width="40.8" height="82.7" fill="#cc381c"/>
<g shape-rendering="crispEdges">
<rect x="392.5" y="265.3" width="14.4" height="13.9" fill="#d04434"/>
<rect x="420.4" y="265.3" width="12.9" height="13.9" fill="#e4d8e6"/>
<rect x="323.4" y="279.2" width="13.7" height="13.3" fill="#6a64ac"/>
<rect x="364.8" y="279.2" width="13.4" height="13.3" fill="#7470b2"/>
<rect x="378.2" y="279.2" width="14.3" height="13.3" fill="#6a66ac"/>
<rect x="392.5" y="279.2" width="14.4" height="13.3" fill="#e0928a"/>
<rect x="406.9" y="279.2" width="13.5" height="13.3" fill="#ecdcdc"/>
<rect x="309.3" y="292.5" width="14.1" height="13.9" fill="#463896"/>
<rect x="323.4" y="292.5" width="13.7" height="13.9" fill="#564c9e"/>
<rect x="337.1" y="292.5" width="13.5" height="13.9" fill="#564c9e"/>
<rect x="350.6" y="292.5" width="14.2" height="13.9" fill="#acaad4"/>
<rect x="364.8" y="292.5" width="13.4" height="13.9" fill="#6a64ac"/>
<rect x="378.2" y="292.5" width="14.3" height="13.9" fill="#5a54a2"/>
<rect x="392.5" y="292.5" width="14.4" height="13.9" fill="#d86060"/>
<rect x="406.9" y="292.5" width="13.5" height="13.9" fill="#d04c3c"/>
<rect x="323.4" y="306.4" width="13.7" height="13.7" fill="#564c9e"/>
<rect x="350.6" y="306.4" width="14.2" height="13.7" fill="#6a66ac"/>
<rect x="364.8" y="306.4" width="13.4" height="13.7" fill="#433593"/>
<rect x="378.2" y="306.4" width="14.3" height="13.7" fill="#463896"/>
<rect x="323.4" y="320.1" width="13.7" height="14.4" fill="#7a76b6"/>
<rect x="337.1" y="320.1" width="13.5" height="14.4" fill="#7a76b6"/>
<rect x="350.6" y="320.1" width="14.2" height="14.4" fill="#8884c0"/>
<rect x="364.8" y="320.1" width="13.4" height="14.4" fill="#5c56aa"/>
<rect x="378.2" y="320.1" width="14.3" height="14.4" fill="#6a66ac"/>
<rect x="420.4" y="320.1" width="12.9" height="14.4" fill="#dc5a4a"/>
<rect x="323.4" y="334.5" width="13.7" height="13.5" fill="#c8c8e4"/>
<rect x="337.1" y="334.5" width="13.5" height="13.5" fill="#c8c8e4"/>
<rect x="364.8" y="334.5" width="13.4" height="13.5" fill="#b8b6da"/>
<rect x="378.2" y="334.5" width="14.3" height="13.5" fill="#8280bc"/>
</g>
<g fill="none" stroke="#000" stroke-width="1.2"><rect x="267.3" y="249.8" width="166" height="98.2"/><line x1="267.3" y1="265.3" x2="433.3" y2="265.3"/><line x1="323.4" y1="249.8" x2="323.4" y2="348"/><line x1="392.5" y1="249.8" x2="392.5" y2="348"/></g>
<text x="295.3" y="261.0" font-size="8.4" text-anchor="middle" fill="#111">EPCR<tspan font-size="5.8" dy="-3.3">-</tspan></text>
<text x="358.0" y="261.0" font-size="8.4" text-anchor="middle" fill="#111">EPCR<tspan font-size="5.8" dy="-3.3">Low</tspan></text>
<text x="412.9" y="261.0" font-size="8.4" text-anchor="middle" fill="#111">EPCR<tspan font-size="5.8" dy="-3.3">+</tspan></text>
<text x="437.9" y="260.5" font-size="8.4" fill="#000">Gene</text>
<text x="437.9" y="274.4" font-size="8.4" fill="#000">THY1 (CD90)</text>
<text x="437.9" y="288.3" font-size="8.4" fill="#000">PROM1 (CD133)</text>
<text x="437.9" y="302.2" font-size="8.4" fill="#000">GPR56</text>
<text x="437.9" y="316.1" font-size="8.4" fill="#000">ACE (CD143)</text>
<text x="437.9" y="330.0" font-size="8.4" fill="#000">CDCP1 (CD318)</text>
<text x="437.9" y="343.9" font-size="8.4" fill="#000">CD93</text>
<rect x="292.5" y="382" width="59.5" height="58.80000000000001" fill="#fff"/>
<path d="M321.3,382 V398.8 H352" fill="none" stroke="#444" stroke-width="0.9"/>
<path id="tca" d="M315.8 405.5 315.6 405.2 316.0 405.2 315.8 405.5ZM316.0 405.8 315.5 405.8 315.2 405.5 315.5 404.9 316.0 404.8 316.3 405.0 316.3 405.5 316.0 405.8ZM316.2 406.1 315.2 406.1 314.8 405.8 314.8 405.1 315.2 404.5 316.0 404.4 316.8 404.8 316.9 405.5 316.2 406.1ZM316.2 406.6 315.0 406.6 314.2 406.0 314.1 405.5 314.3 404.8 315.2 404.0 316.5 403.9 317.1 404.2 317.4 404.8 317.3 405.8 316.9 406.2 316.2 406.6ZM316.5 407.1 314.8 407.1 314.0 406.8 313.7 406.2 313.5 405.5 313.8 404.5 314.2 403.9 315.0 403.4 315.8 403.2 316.8 403.4 317.5 403.8 318.0 404.5 318.1 405.2 317.9 406.0 317.2 406.7 316.5 407.1ZM326.0 406.5 325.8 406.5 325.2 406.0 324.7 404.8 324.5 403.0 324.8 402.1 325.0 402.1 325.5 402.7 326.0 403.9 326.3 405.5 326.0 406.5ZM316.0 407.8 314.8 407.7 313.8 407.4 313.2 406.8 312.9 406.0 313.0 404.8 313.6 403.5 314.4 402.8 315.5 402.4 316.8 402.5 317.8 403.0 318.5 403.8 318.8 404.8 318.7 405.8 318.1 406.8 317.2 407.4 316.0 407.8ZM326.2 407.6 325.8 407.5 325.2 407.0 324.2 404.8 323.8 402.2 324.0 401.1 324.2 400.7 324.8 400.7 325.2 401.3 326.2 403.5 326.7 406.2 326.6 407.2 326.2 407.6ZM317.0 408.3 315.5 408.5 314.0 408.2 313.0 407.7 312.4 406.8 312.3 405.0 312.7 403.2 313.5 402.2 314.8 401.5 316.2 401.3 317.5 401.7 318.8 402.7 319.5 404.0 319.6 405.2 319.2 406.5 318.2 407.6 317.0 408.3ZM326.5 408.6 325.8 408.3 324.8 407.2 324.0 405.8 323.4 404.2 323.2 402.5 323.2 400.2 323.4 399.0 323.8 398.5 324.5 399.2 325.5 400.7 326.6 403.5 327.1 407.0 327.0 408.0 326.5 408.6ZM316.2 409.3 314.0 409.0 312.5 408.3 311.8 407.2 311.6 405.5 311.9 403.0 312.6 401.5 314.5 400.2 316.5 399.5 317.8 400.0 319.2 401.6 320.3 403.2 320.6 404.8 320.1 406.5 319.1 408.0 317.8 408.9 316.2 409.3ZM317.8 410.0 316.2 410.2 314.2 410.0 312.5 409.3 311.5 408.5 311.0 407.5 310.8 406.2 310.9 403.2 311.2 401.6 312.0 400.4 315.2 396.8 316.2 396.1 317.5 395.8 318.5 396.0 319.4 396.8 319.8 399.2 320.2 400.2 321.0 401.5 321.5 401.9 321.8 401.9 322.0 401.3 322.1 400.2 321.8 396.8 322.3 396.0 323.2 395.8 323.8 396.2 324.2 396.9 326.7 402.8 327.5 406.5 327.5 408.0 327.3 409.0 326.8 409.5 325.8 409.1 324.6 408.0 322.8 405.5 322.2 405.2 319.8 408.8 318.8 409.6 317.8 410.0ZM317.5 411.3 315.8 411.4 314.0 411.0 311.8 409.9 310.5 408.8 310.1 407.8 309.9 406.5 310.0 402.8 310.3 401.2 311.0 399.8 313.0 397.2 314.2 396.0 315.2 395.3 317.2 394.7 320.2 394.9 322.2 394.6 323.2 394.7 324.0 395.1 324.6 396.0 327.0 402.5 327.9 406.8 327.9 408.5 327.7 409.8 327.2 410.4 326.5 410.4 323.5 408.0 322.8 407.7 322.0 408.1 319.5 410.4 317.5 411.3ZM317.2 412.5 315.5 412.6 313.8 412.2 311.2 410.8 309.6 409.2 309.0 408.0 308.9 406.8 309.0 402.2 309.3 400.8 310.2 399.0 311.7 397.0 313.2 395.6 314.8 394.6 317.2 394.0 322.2 393.7 323.5 393.9 324.5 394.5 325.1 395.5 326.0 398.5 327.4 402.5 328.2 407.0 328.3 409.0 328.1 410.5 327.8 411.2 327.0 411.4 326.2 411.1 324.0 409.6 323.0 409.4 319.5 411.7 317.2 412.5ZM317.0 413.8 314.8 413.8 313.0 413.2 310.1 411.2 308.5 409.5 307.9 408.2 307.7 406.8 308.0 402.0 308.3 400.5 309.2 398.5 310.5 396.7 312.0 395.4 314.0 394.2 315.5 393.6 317.2 393.3 322.0 393.0 323.5 393.2 325.0 394.1 325.8 395.5 326.3 398.0 327.7 402.2 328.4 405.8 328.7 409.2 328.5 411.5 328.0 412.3 327.2 412.5 324.5 410.9 323.2 410.7 319.5 413.0 317.0 413.8ZM316.0 415.0 313.8 414.8 311.8 413.8 309.0 411.8 307.3 409.8 306.7 408.2 306.5 406.8 306.8 402.0 307.2 400.2 308.3 398.0 309.8 396.1 311.2 394.9 313.5 393.6 315.2 393.0 317.2 392.7 322.0 392.4 323.8 392.6 325.5 393.6 326.1 394.2 326.4 395.0 326.8 398.0 328.1 402.5 328.9 406.5 329.2 410.2 328.9 412.5 328.5 413.3 327.8 413.6 327.0 413.4 324.8 412.0 323.8 411.9 319.2 414.4 317.8 414.8 316.0 415.0ZM333.0 391.8 332.2 391.8 331.7 391.5 331.4 391.0 331.4 390.5 332.3 389.5 333.0 389.2 333.8 389.3 334.4 389.8 334.5 390.5 334.0 391.3 333.0 391.8ZM317.8 416.0 315.0 416.2 312.5 415.6 309.5 413.8 307.0 411.3 305.9 409.5 305.3 407.5 305.3 405.8 305.8 401.0 306.6 399.0 308.2 396.3 309.5 395.0 311.1 394.0 313.8 392.8 316.0 392.2 321.5 391.7 323.2 391.9 325.9 393.0 326.7 393.8 327.0 394.5 327.2 398.0 328.6 403.0 329.3 407.2 329.6 410.8 329.4 413.2 328.8 414.5 328.0 414.7 327.2 414.5 325.0 413.2 324.0 413.2 320.2 415.3 317.8 416.0ZM333.0 392.8 331.5 392.8 330.5 392.3 330.1 391.5 330.2 390.5 330.8 389.5 332.0 388.6 333.2 388.2 334.5 388.4 335.2 388.8 335.6 389.2 335.7 390.0 335.6 390.8 334.7 392.0 333.0 392.8ZM317.8 417.3 314.5 417.4 312.0 416.8 309.0 414.9 306.5 412.5 305.0 410.2 304.2 407.8 304.1 405.5 304.5 401.2 305.2 399.2 306.9 396.5 308.2 394.9 309.9 393.8 313.0 392.4 315.5 391.7 321.2 391.1 323.0 391.2 326.2 392.4 327.0 392.9 327.5 393.8 327.7 398.0 328.9 403.0 329.7 407.8 330.0 411.5 329.9 414.0 329.5 415.1 328.8 415.8 327.8 415.8 325.5 414.6 324.5 414.4 320.5 416.5 317.8 417.3ZM333.0 393.5 331.0 393.6 329.2 393.0 328.8 392.2 329.1 391.0 330.0 389.2 331.5 388.0 333.2 387.5 335.0 387.6 335.8 388.0 336.4 388.8 336.7 389.8 336.5 390.8 336.0 391.8 335.2 392.5 334.2 393.1 333.0 393.5ZM318.0 418.5 314.8 418.7 311.8 418.0 308.8 416.3 306.0 413.8 304.2 411.2 303.1 408.2 302.8 405.8 303.3 401.5 304.0 399.2 305.6 396.5 307.0 394.8 308.8 393.4 312.2 391.9 315.0 391.2 321.2 390.5 323.0 390.6 326.8 391.8 327.9 392.5 328.3 393.2 328.1 397.8 330.1 408.0 330.5 412.2 330.3 414.8 329.8 416.2 329.0 417.0 328.0 416.9 325.8 415.9 324.8 415.8 321.0 417.6 318.0 418.5ZM316.5 420.0 314.8 420.0 313.0 419.7 311.0 419.1 309.3 418.2 307.5 417.0 306.0 415.8 304.8 414.4 303.6 412.8 302.1 409.2 301.5 406.0 302.1 401.0 302.6 399.5 303.4 398.0 305.3 395.2 307.0 393.6 309.0 392.5 312.5 391.2 316.0 390.4 321.8 389.8 323.0 389.9 327.5 391.0 328.1 390.8 329.8 388.5 331.5 387.3 332.8 386.9 334.0 386.7 335.0 386.9 336.0 387.2 337.1 388.2 337.5 389.5 337.2 391.0 336.4 392.2 335.2 393.3 333.8 394.0 329.2 394.6 328.8 395.2 328.5 396.0 328.5 398.2 330.1 406.2 330.8 412.2 330.8 415.0 330.2 417.2 329.5 418.1 328.8 418.2 326.0 417.2 325.0 417.1 320.5 419.2 318.5 419.7 316.5 420.0ZM317.2 421.3 315.2 421.3 313.5 421.1 309.2 419.6 307.5 418.6 305.8 417.3 304.4 416.0 303.2 414.5 301.3 410.8 300.6 408.5 300.3 406.5 300.3 404.5 300.7 401.5 301.2 399.8 301.9 398.2 303.8 395.5 305.8 393.5 308.0 392.1 311.2 390.9 315.0 389.9 321.2 389.2 322.8 389.2 325.5 389.9 327.2 390.1 327.8 389.8 329.8 387.7 331.8 386.5 334.2 386.1 335.5 386.3 336.5 386.7 337.7 387.8 338.2 389.0 338.1 390.5 337.3 392.2 336.0 393.5 334.5 394.4 333.0 394.8 329.8 395.3 329.2 395.8 328.9 396.8 328.9 398.8 330.4 406.2 331.2 412.8 331.2 416.0 330.6 418.5 330.0 419.2 329.2 419.4 326.2 418.5 325.2 418.5 321.0 420.4 317.2 421.3Z" fill="none" stroke="#000" stroke-width="0.6"/>
<path d="M325.5 400.3 323.5 400.2 322.5 399.9 321.8 399.4 321.0 398.8 320.6 398.0 320.3 397.0 320.2 396.0 320.6 394.2 321.4 392.8 326.4 386.8 328.0 385.4 329.5 384.4 331.5 383.6 333.5 383.1 335.5 383.1 337.2 383.4 339.0 384.1 340.2 385.0 341.0 386.0 341.5 387.0 341.8 388.2 341.9 389.5 341.6 390.8 341.1 392.0 340.4 393.2 339.3 394.5 337.8 395.8 335.5 397.0 333.8 397.6 330.8 398.3 327.2 399.8 325.5 400.3Z" fill="#d8401c" fill-opacity="0.72" stroke="#8a2010" stroke-width="0.55"/>
<path d="M325.8 399.0 324.0 399.0 323.2 398.7 322.5 398.2 322.0 397.5 321.7 396.8 321.6 395.2 322.1 394.0 322.7 393.0 325.2 390.2 327.8 387.1 329.2 385.9 330.8 385.1 332.2 384.6 333.8 384.3 335.2 384.3 336.8 384.6 338.0 385.1 339.1 386.0 339.7 386.8 340.2 387.8 340.4 388.8 340.4 389.8 340.1 391.0 339.6 392.0 338.1 394.0 336.5 395.2 334.8 396.1 330.2 397.2 327.2 398.6 325.8 399.0Z" fill="#e2481e" fill-opacity="0.35" stroke="#a8280f" stroke-width="0.45"/>
<path d="M326.2 397.5 324.8 397.6 323.8 397.1 323.2 396.2 323.2 395.0 323.9 393.5 326.2 391.2 328.0 388.8 329.0 387.6 330.0 386.8 331.2 386.2 332.5 385.8 333.8 385.6 335.0 385.6 336.2 385.9 337.2 386.4 338.0 387.0 338.5 387.8 338.8 388.5 338.8 390.2 338.1 392.0 336.9 393.5 335.8 394.3 334.5 394.9 333.0 395.4 329.8 396.0 326.2 397.5Z" fill="#e2481e" fill-opacity="0.35" stroke="#a8280f" stroke-width="0.45"/>
<path d="M326.8 395.3 326.2 395.4 325.8 395.3 325.6 395.0 325.7 394.5 327.5 392.4 329.2 389.2 330.5 387.9 332.2 387.0 334.2 386.8 335.9 387.2 337.0 388.2 337.4 389.5 337.3 390.8 336.5 392.1 335.2 393.2 334.0 393.9 332.8 394.2 328.8 394.4 326.8 395.3Z" fill="#e2481e" fill-opacity="0.35" stroke="#a8280f" stroke-width="0.45"/>
<path d="M332.5 393.0 331.0 392.8 330.1 392.2 329.8 391.2 330.1 390.2 330.8 389.2 332.0 388.4 333.5 388.0 334.8 388.2 335.5 388.8 335.9 389.5 335.9 390.2 335.7 391.0 335.2 391.8 334.5 392.3 333.5 392.8 332.5 393.0Z" fill="#e2481e" fill-opacity="0.35" stroke="#a8280f" stroke-width="0.45"/>
<path d="M332.8 391.8 332.0 391.6 331.6 391.2 331.5 390.8 331.6 390.2 332.0 389.8 332.8 389.4 333.5 389.3 334.0 389.4 334.4 390.0 334.3 390.8 333.8 391.4 332.8 391.8Z" fill="#e2481e" fill-opacity="0.35" stroke="#a8280f" stroke-width="0.45"/>
<defs><linearGradient id="mga" gradientUnits="userSpaceOnUse" x1="334" y1="389" x2="322" y2="396"><stop offset="0" stop-color="#fff" stop-opacity="0"/><stop offset="1" stop-color="#fff" stop-opacity="1"/></linearGradient><mask id="mka" maskUnits="userSpaceOnUse" x="292.5" y="382" width="59.5" height="58.80000000000001"><rect x="292.5" y="382" width="59.5" height="58.80000000000001" fill="url(#mga)"/></mask></defs>
<use href="#tca" mask="url(#mka)" opacity="0.8"/>
<path d="M292.5,440.8 V382 H352 V440.8 Z" fill="none" stroke="#222" stroke-width="0.9"/>
<path d="M292.5,382 V440.8 H352" fill="none" stroke="#000" stroke-width="1.2"/>
<path d="M291.0,436.8h2.5M291.5,433.6h1.5M291.5,431.8h1.5M291.5,430.5h1.5M291.5,429.5h1.5M291.0,426.3h2.5M291.5,423.1h1.5M291.5,421.3h1.5M291.5,420.0h1.5M291.5,419.0h1.5M291.0,415.8h2.5M291.5,412.6h1.5M291.5,410.8h1.5M291.5,409.5h1.5M291.5,408.5h1.5M291.0,405.3h2.5M291.5,402.1h1.5M291.5,400.3h1.5M291.5,399.0h1.5M291.5,398.0h1.5M291.0,394.8h2.5M291.5,391.6h1.5M291.5,389.8h1.5M291.5,388.5h1.5M291.5,387.5h1.5M291.0,384.3h2.5M296.5,439.8v2.5M299.7,440.3v1.5M301.5,440.3v1.5M302.8,440.3v1.5M303.8,440.3v1.5M307.0,439.8v2.5M310.2,440.3v1.5M312.0,440.3v1.5M313.3,440.3v1.5M314.3,440.3v1.5M317.5,439.8v2.5M320.7,440.3v1.5M322.5,440.3v1.5M323.8,440.3v1.5M324.8,440.3v1.5M328.0,439.8v2.5M331.2,440.3v1.5M333.0,440.3v1.5M334.3,440.3v1.5M335.3,440.3v1.5M338.5,439.8v2.5M341.7,440.3v1.5M343.5,440.3v1.5M344.8,440.3v1.5M345.8,440.3v1.5M349.0,439.8v2.5" stroke="#000" stroke-width="0.6"/>
<text x="333.0" y="411.0" font-size="9.4" fill="#c0483a" textLength="16.3" lengthAdjust="spacingAndGlyphs">94%</text>
<line x1="290.5" y1="448.3" x2="320.5" y2="448.3" stroke="#000" stroke-width="1.3"/><path d="M318.5,445.6 L324.5,448.3 L318.5,451.0Z" fill="#000"/>
<text x="292.7" y="460.5" font-size="11" fill="#111" textLength="21.8" lengthAdjust="spacingAndGlyphs">CD90</text>
<rect x="294.7" y="422.4" width="6.4" height="6.3" fill="#d83c20"/><rect x="294.7" y="432.7" width="6.4" height="6" fill="#000"/>
<text x="305.0" y="428.3" font-size="8.6" fill="#111" textLength="21.9" lengthAdjust="spacingAndGlyphs">EPCR</text>
<text x="305.0" y="438.3" font-size="8.6" fill="#111" textLength="18" lengthAdjust="spacingAndGlyphs">Total</text>
<rect x="376.4" y="381.6" width="59.10000000000002" height="59.39999999999998" fill="#fff"/>
<path d="M404.7,381.6 V401 H435.5" fill="none" stroke="#444" stroke-width="0.9"/>
<path id="tcb" d="M400.1 403.9 400.1 403.4 400.4 403.1 400.4 403.6 400.1 403.9ZM400.4 404.1 400.1 404.3 400.0 403.9 400.1 402.8 400.4 402.5 400.4 404.1ZM400.4 404.7 400.1 404.8 399.9 404.7 399.8 404.1 399.9 402.9 400.4 401.5 400.6 401.9 400.7 403.1 400.4 404.7ZM400.1 405.4 399.6 405.1 399.5 403.9 400.1 400.8 400.4 400.3 400.6 400.3 400.9 401.6 400.9 403.7 400.6 404.9 400.1 405.4ZM400.4 405.9 399.9 406.1 399.5 405.9 399.2 405.4 399.1 404.6 399.9 400.4 400.2 399.6 400.6 399.1 400.9 399.4 401.1 400.4 401.2 403.4 400.9 405.0 400.4 405.9ZM400.4 406.6 399.9 406.8 399.1 406.5 398.7 405.9 398.5 405.1 399.7 399.6 400.1 398.5 400.6 398.1 401.0 398.4 401.3 399.4 401.4 403.1 401.1 405.2 400.4 406.6ZM399.6 407.6 398.8 407.4 397.5 406.6 397.0 406.1 396.9 405.6 398.4 402.9 399.9 398.1 400.6 397.1 401.1 397.4 401.5 398.9 401.6 404.4 401.4 405.6 400.9 406.8 400.4 407.4 399.6 407.6ZM400.1 408.4 399.4 408.5 396.6 408.2 395.7 407.9 394.6 406.6 394.3 404.9 394.6 403.9 395.1 403.4 396.9 403.0 397.6 402.5 398.3 401.4 399.7 397.4 400.4 396.4 400.9 396.2 401.4 396.7 401.7 398.1 401.9 404.1 401.4 406.9 400.9 407.8 400.1 408.4ZM399.4 409.6 396.4 409.7 395.0 409.1 394.2 408.1 393.5 406.9 393.2 405.6 393.1 404.4 393.5 402.9 394.4 401.6 395.4 401.2 396.9 401.2 397.6 400.6 399.7 396.4 400.4 395.5 400.9 395.3 401.4 395.6 401.6 396.0 402.0 397.4 402.2 401.1 402.1 405.1 401.7 407.1 401.1 408.4 400.4 409.3 399.4 409.6ZM397.9 411.1 396.6 411.2 395.6 411.0 394.6 410.4 393.8 409.6 392.9 408.1 392.3 406.6 392.1 405.1 392.1 403.5 392.8 401.6 393.6 400.2 394.6 399.6 396.6 399.4 397.4 399.1 398.1 398.3 399.9 395.2 400.6 394.6 401.1 394.6 401.9 395.4 402.3 397.4 402.5 403.6 402.2 406.9 401.6 408.7 400.6 410.2 399.6 410.8 397.9 411.1ZM398.1 412.6 396.6 412.7 395.4 412.4 394.1 411.6 393.1 410.6 392.1 409.0 391.4 407.1 391.1 405.1 391.2 403.4 391.9 400.6 392.9 399.0 394.4 398.2 396.6 398.1 397.4 397.8 398.1 397.0 399.9 394.3 400.6 393.8 401.1 393.7 401.6 394.1 402.1 394.9 402.5 396.6 402.8 403.6 402.5 407.1 401.9 409.5 400.9 411.3 399.6 412.2 398.1 412.6ZM398.4 414.1 396.6 414.1 395.1 413.7 393.5 412.6 392.1 411.1 391.1 409.4 390.5 407.4 390.1 405.1 390.2 403.1 391.0 399.9 391.4 398.9 392.0 398.1 392.9 397.5 393.9 397.1 396.6 396.9 397.4 396.6 398.1 395.9 399.9 393.4 400.9 392.9 401.4 393.0 402.0 393.6 402.7 395.6 403.1 403.4 402.9 407.1 402.4 409.7 401.4 412.0 400.1 413.5 398.4 414.1ZM398.9 415.4 396.9 415.5 395.1 415.0 393.2 413.9 391.6 412.3 390.4 410.4 389.7 408.4 389.3 405.6 389.2 403.1 390.0 399.1 390.6 397.9 391.3 397.1 392.1 396.4 393.4 395.9 394.6 395.7 396.6 395.7 397.4 395.5 398.1 394.8 399.9 392.5 400.9 392.0 401.6 392.4 402.1 393.0 402.7 394.1 403.0 395.4 403.4 403.9 403.3 407.4 402.7 410.6 401.7 413.1 400.4 414.7 398.9 415.4ZM412.6 390.4 411.9 390.2 411.5 389.9 411.3 389.4 411.6 388.6 412.1 388.1 412.9 387.7 413.6 387.7 414.2 387.9 414.6 388.6 414.4 389.4 413.6 390.0 412.6 390.4ZM398.9 416.6 396.9 416.8 394.9 416.3 392.6 414.9 391.0 413.1 389.7 411.1 388.9 408.9 388.4 405.6 388.3 402.9 389.2 398.4 389.8 397.1 390.6 396.0 391.9 395.1 393.1 394.6 397.1 394.4 398.1 393.6 399.9 391.5 400.9 391.0 401.4 391.2 402.1 392.1 402.9 393.6 403.2 395.1 403.7 404.9 403.6 408.1 403.0 411.6 402.0 414.4 400.6 415.9 398.9 416.6ZM412.6 391.4 411.4 391.3 410.4 390.8 410.0 389.9 410.4 388.6 411.2 387.6 412.5 386.9 413.9 386.6 415.0 386.9 415.6 387.4 415.9 387.9 415.9 388.6 415.7 389.4 414.4 390.7 412.6 391.4ZM398.9 417.9 396.6 418.1 394.9 417.6 392.4 416.1 390.4 414.1 388.9 411.6 388.1 409.4 387.5 405.9 387.4 402.6 387.8 399.9 388.4 397.6 389.3 395.9 390.4 394.6 391.6 393.7 392.9 393.3 397.1 393.2 397.9 392.7 399.9 390.4 400.9 390.0 401.6 390.4 402.1 391.1 403.0 393.1 403.5 394.9 404.0 405.9 403.9 409.4 403.4 412.6 402.4 415.4 401.6 416.4 400.9 417.0 398.9 417.9ZM412.9 392.1 411.1 392.2 409.6 391.5 409.0 390.4 409.3 388.9 410.4 387.3 412.1 386.2 413.9 385.8 415.6 386.1 416.4 386.6 416.8 387.4 416.9 388.4 416.6 389.4 415.9 390.4 415.1 391.1 414.1 391.7 412.9 392.1ZM397.9 419.4 395.9 419.3 393.9 418.5 391.4 416.7 389.6 414.6 388.0 411.6 387.1 409.1 386.6 405.4 386.6 401.9 387.0 399.1 387.8 396.6 388.7 394.9 389.9 393.4 391.1 392.6 392.9 392.0 397.1 391.9 397.9 391.5 399.6 389.6 400.9 389.1 401.6 389.4 402.1 390.1 403.9 394.6 403.8 399.1 404.3 407.4 404.2 411.6 403.5 414.9 402.9 416.2 402.1 417.3 400.4 418.7 397.9 419.4ZM412.4 392.9 410.1 392.8 409.1 392.4 408.5 391.9 408.1 391.1 408.1 390.4 408.6 388.6 409.9 386.9 412.1 385.5 414.4 385.1 415.4 385.2 416.4 385.5 417.3 386.4 417.8 387.4 417.8 388.4 417.3 389.6 416.6 390.6 415.4 391.7 413.9 392.5 412.4 392.9ZM398.9 420.6 396.4 420.8 394.4 420.2 391.4 418.2 389.4 416.0 387.6 412.9 386.4 409.9 385.7 405.9 385.6 402.1 386.0 399.4 386.8 396.4 387.7 394.4 388.9 392.9 390.4 391.9 392.4 391.1 393.9 390.9 397.1 390.7 399.9 388.6 401.1 388.3 401.6 388.5 402.1 389.1 404.4 394.4 404.0 398.6 404.6 407.4 404.5 412.6 404.1 415.6 402.9 418.1 401.1 419.7 398.9 420.6ZM411.6 393.6 409.1 393.4 407.6 393.0 406.9 392.6 406.9 391.9 407.1 390.4 408.0 388.1 408.8 387.1 409.9 386.1 412.4 384.8 414.9 384.4 416.1 384.6 417.1 385.0 418.0 385.9 418.6 387.1 418.5 388.6 417.8 390.1 416.6 391.5 415.1 392.5 413.4 393.3 411.6 393.6ZM399.1 422.1 396.4 422.2 393.9 421.4 391.1 419.5 388.7 416.9 386.8 413.4 385.5 409.9 384.8 405.9 384.7 401.9 385.1 398.9 385.9 395.6 386.8 393.9 387.8 392.6 389.3 391.6 391.1 390.8 393.6 390.1 396.9 389.8 399.9 388.0 401.1 387.7 401.7 387.9 402.2 388.4 403.4 391.3 403.9 392.2 404.4 392.6 405.6 393.0 406.0 393.4 405.8 394.4 404.6 396.4 404.3 398.4 404.9 408.1 404.9 413.9 404.4 417.1 403.4 419.3 402.4 420.4 401.4 421.2 399.1 422.1Z" fill="none" stroke="#000" stroke-width="0.6"/>
<path d="M418.5 381.6 420.1 382.4 421.4 383.5 422.3 385.1 422.5 386.6 422.3 388.4 421.6 390.1 420.4 391.9 418.9 393.4 417.1 394.7 415.1 395.7 412.9 396.5 408.6 397.3 404.9 399.4 402.9 400.2 401.4 400.5 399.9 400.4 398.4 400.0 397.4 399.4 396.5 398.1 396.4 397.4 396.4 396.4 396.9 394.6 398.1 392.9 399.6 391.4 403.2 389.1 406.1 385.6 407.9 384.0 410.4 382.5 412.8 381.6Z" fill="#d8401c" fill-opacity="0.72" stroke="#8a2010" stroke-width="0.55"/>
<path d="M402.1 399.1 400.9 399.2 399.9 399.0 399.1 398.7 398.5 398.1 398.1 397.4 397.9 396.6 398.0 395.9 398.3 394.9 399.1 393.6 400.1 392.5 404.5 389.9 406.6 386.9 408.1 385.3 409.6 384.2 411.1 383.4 412.9 382.8 414.6 382.5 416.4 382.6 417.9 382.9 419.1 383.6 419.9 384.4 420.4 385.1 420.8 386.1 420.9 387.1 420.8 388.4 420.3 389.6 419.7 390.6 418.8 391.9 417.7 392.9 415.9 394.1 413.9 394.9 412.1 395.4 408.4 395.9 404.6 398.3 403.4 398.8 402.1 399.1Z" fill="#e2481e" fill-opacity="0.35" stroke="#a8280f" stroke-width="0.45"/>
<path d="M402.6 397.6 401.1 397.6 400.1 397.0 399.9 396.6 399.7 395.9 400.1 394.6 400.9 393.6 401.9 392.9 404.9 391.7 405.6 391.2 406.1 390.5 407.7 387.6 409.4 385.8 410.6 385.0 411.9 384.4 413.4 384.0 414.6 383.8 415.9 383.9 416.9 384.1 417.9 384.7 418.6 385.4 419.1 386.1 419.3 386.9 419.2 388.6 418.4 390.4 416.6 392.2 414.9 393.3 412.9 394.0 411.4 394.2 408.6 394.2 407.6 394.3 406.9 394.8 404.6 396.8 403.6 397.3 402.6 397.6Z" fill="#e2481e" fill-opacity="0.35" stroke="#a8280f" stroke-width="0.45"/>
<path d="M412.1 392.9 410.1 392.7 409.2 392.4 408.6 391.9 408.2 391.1 408.1 390.4 408.3 389.4 408.7 388.4 409.5 387.4 410.3 386.6 412.4 385.5 413.6 385.2 414.6 385.1 415.6 385.3 416.4 385.6 417.3 386.4 417.7 387.4 417.7 388.6 417.1 389.9 416.1 391.0 414.9 391.9 413.6 392.5 412.1 392.9Z" fill="#e2481e" fill-opacity="0.35" stroke="#a8280f" stroke-width="0.45"/>
<path d="M412.1 391.6 410.8 391.4 410.0 390.6 409.8 389.6 410.3 388.4 411.3 387.4 412.6 386.6 414.1 386.4 415.4 386.8 415.9 387.4 416.2 388.1 416.1 388.9 415.7 389.6 415.1 390.4 414.1 391.0 413.1 391.4 412.1 391.6Z" fill="#e2481e" fill-opacity="0.35" stroke="#a8280f" stroke-width="0.45"/>
<path d="M413.4 390.1 412.6 390.3 411.9 390.2 411.5 389.9 411.4 389.4 411.6 388.7 412.1 388.2 412.9 387.8 413.6 387.7 414.4 388.1 414.6 388.6 414.3 389.4 413.4 390.1Z" fill="#e2481e" fill-opacity="0.35" stroke="#a8280f" stroke-width="0.45"/>
<defs><linearGradient id="mgb" gradientUnits="userSpaceOnUse" x1="414" y1="388.5" x2="400" y2="397"><stop offset="0" stop-color="#fff" stop-opacity="0"/><stop offset="1" stop-color="#fff" stop-opacity="1"/></linearGradient><mask id="mkb" maskUnits="userSpaceOnUse" x="376.4" y="381.6" width="59.10000000000002" height="59.39999999999998"><rect x="376.4" y="381.6" width="59.10000000000002" height="59.39999999999998" fill="url(#mgb)"/></mask></defs>
<use href="#tcb" mask="url(#mkb)" opacity="0.8"/>
<path d="M376.4,441 V381.6 H435.5 V441 Z" fill="none" stroke="#222" stroke-width="0.9"/>
<path d="M376.4,381.6 V441 H435.5" fill="none" stroke="#000" stroke-width="1.2"/>
<path d="M374.9,437.0h2.5M375.4,433.8h1.5M375.4,432.0h1.5M375.4,430.7h1.5M375.4,429.7h1.5M374.9,426.5h2.5M375.4,423.3h1.5M375.4,421.5h1.5M375.4,420.2h1.5M375.4,419.2h1.5M374.9,416.0h2.5M375.4,412.8h1.5M375.4,411.0h1.5M375.4,409.7h1.5M375.4,408.7h1.5M374.9,405.5h2.5M375.4,402.3h1.5M375.4,400.5h1.5M375.4,399.2h1.5M375.4,398.2h1.5M374.9,395.0h2.5M375.4,391.8h1.5M375.4,390.0h1.5M375.4,388.7h1.5M375.4,387.7h1.5M374.9,384.5h2.5M380.4,440v2.5M383.6,440.5v1.5M385.4,440.5v1.5M386.7,440.5v1.5M387.7,440.5v1.5M390.9,440v2.5M394.1,440.5v1.5M395.9,440.5v1.5M397.2,440.5v1.5M398.2,440.5v1.5M401.4,440v2.5M404.6,440.5v1.5M406.4,440.5v1.5M407.7,440.5v1.5M408.7,440.5v1.5M411.9,440v2.5M415.1,440.5v1.5M416.9,440.5v1.5M418.2,440.5v1.5M419.2,440.5v1.5M422.4,440v2.5M425.6,440.5v1.5M427.4,440.5v1.5M428.7,440.5v1.5M429.7,440.5v1.5M432.9,440v2.5" stroke="#000" stroke-width="0.6"/>
<text x="412.5" y="411.3" font-size="9.4" fill="#c0483a" textLength="16.3" lengthAdjust="spacingAndGlyphs">85%</text>
<line x1="374.4" y1="448.5" x2="404.4" y2="448.5" stroke="#000" stroke-width="1.3"/><path d="M402.4,445.8 L408.4,448.5 L402.4,451.2Z" fill="#000"/>
<text x="374.8" y="460.3" font-size="11" fill="#111" textLength="27.2" lengthAdjust="spacingAndGlyphs">CD133</text>
<rect x="453.2" y="381.8" width="59.30000000000001" height="59.19999999999999" fill="#fff"/>
<path d="M487.3,381.8 V401.2 H512.5" fill="none" stroke="#444" stroke-width="0.9"/>
<path id="tcc" d="M483.7 403.6 483.7 403.0 483.7 403.6ZM483.7 404.1 483.4 403.3 483.4 402.8 483.7 402.6 483.8 403.3 483.7 404.1ZM483.7 404.8 483.4 404.6 483.2 403.1 483.4 402.1 483.7 402.1 484.0 403.3 483.9 404.3 483.7 404.8ZM483.7 405.8 483.4 405.7 483.2 405.1 483.0 403.6 483.1 402.3 483.4 401.5 483.7 401.5 483.9 401.8 484.2 403.1 484.1 404.6 483.7 405.8ZM483.7 406.8 483.4 406.8 483.0 406.1 482.7 403.6 482.9 401.8 483.4 400.9 483.8 401.1 484.1 401.6 484.4 403.2 484.2 405.7 483.7 406.8ZM483.7 408.1 483.4 408.2 483.2 408.0 482.8 407.1 482.4 403.8 482.6 401.6 482.9 400.7 483.4 400.3 483.9 400.5 484.2 400.9 484.7 403.3 484.4 406.0 483.7 408.1ZM483.7 409.8 483.2 409.6 482.5 408.1 482.1 406.3 482.0 404.3 482.2 401.3 482.7 400.2 483.4 399.5 483.9 399.7 484.4 400.5 484.9 403.3 484.7 406.6 484.2 408.7 483.7 409.8ZM475.4 408.6 474.4 408.7 474.0 408.3 473.7 407.3 473.9 406.3 474.4 405.5 475.5 404.6 476.4 404.0 477.2 404.1 477.7 404.5 477.9 405.1 477.9 406.6 477.0 407.8 475.4 408.6ZM483.9 410.9 483.7 411.0 483.2 410.9 482.5 409.8 481.6 407.3 481.3 405.3 481.4 402.8 481.8 401.1 482.7 399.3 483.2 398.7 483.7 398.5 484.2 398.9 484.7 400.2 485.2 403.3 484.7 408.3 484.4 409.8 483.9 410.9ZM473.9 410.6 473.0 410.3 472.4 409.4 472.4 407.6 472.8 405.8 473.7 404.5 475.7 402.7 476.7 402.3 477.7 402.5 478.7 403.3 479.2 404.3 479.3 405.8 479.1 407.1 478.4 408.1 477.5 408.8 475.2 410.1 473.9 410.6ZM473.7 412.1 472.7 412.1 471.9 411.7 471.3 411.1 471.0 410.1 471.0 408.8 471.3 406.6 471.7 405.3 472.2 404.3 474.4 402.0 476.0 401.1 477.4 401.0 479.7 402.1 480.2 402.1 480.7 401.6 483.2 397.5 483.7 397.1 484.2 397.2 485.2 400.8 485.4 403.8 484.9 409.6 484.6 410.8 484.2 411.7 483.7 412.0 482.9 411.8 481.2 408.9 480.4 408.3 479.9 408.4 475.2 411.5 473.7 412.1ZM473.7 413.4 472.4 413.4 471.4 413.1 470.4 412.2 469.9 411.1 469.7 409.6 469.9 407.7 470.4 405.5 471.2 403.8 473.2 401.4 475.4 399.8 476.9 399.6 479.4 400.2 480.4 400.0 481.4 398.9 483.2 396.1 483.9 395.6 484.4 395.8 485.0 397.1 485.7 403.8 485.2 410.1 484.9 411.3 484.5 412.3 483.9 412.8 483.2 412.8 482.4 412.3 480.9 410.4 480.2 410.1 479.4 410.3 475.2 412.8 473.7 413.4ZM473.7 414.6 472.2 414.7 470.7 414.1 469.5 413.1 468.9 411.8 468.6 410.1 468.9 407.8 469.4 405.3 470.2 403.3 471.9 401.1 474.4 399.0 475.4 398.5 476.4 398.3 479.4 398.7 480.2 398.6 481.2 397.8 483.2 394.9 483.9 394.5 484.4 394.6 485.1 395.3 485.4 396.3 486.0 403.6 485.5 410.3 484.8 412.8 483.9 413.7 483.2 413.8 480.9 411.9 479.9 411.6 473.7 414.6ZM472.9 416.1 471.4 415.9 469.7 415.0 468.5 413.8 467.9 412.3 467.6 410.1 467.9 406.8 468.4 404.8 469.4 402.6 471.2 400.2 474.2 397.8 476.2 397.1 479.4 397.3 480.2 397.1 480.9 396.6 483.2 393.9 483.9 393.6 484.7 393.8 485.4 394.7 485.8 395.8 486.2 403.8 485.8 410.6 485.5 412.3 484.9 413.6 484.2 414.6 483.4 414.8 482.7 414.5 480.9 413.2 479.9 413.0 474.2 415.7 472.9 416.1ZM473.7 417.3 471.9 417.4 470.2 416.8 468.4 415.5 467.3 413.8 466.7 411.8 466.7 409.3 466.9 406.1 467.7 403.8 468.8 401.6 469.8 400.1 471.4 398.5 473.4 396.9 475.7 396.0 479.9 395.8 480.9 395.2 483.2 393.0 483.9 392.7 484.7 392.9 485.6 393.8 486.1 395.3 486.5 403.6 486.2 410.8 485.8 412.8 485.2 414.3 484.4 415.5 483.9 415.8 483.4 415.9 480.9 414.5 479.9 414.4 473.7 417.3ZM494.2 391.3 493.4 391.1 493.1 390.8 493.0 390.3 493.1 389.8 493.4 389.3 494.2 388.8 495.4 388.9 496.0 389.6 495.9 390.3 495.2 391.0 494.2 391.3ZM472.9 418.8 470.9 418.5 468.7 417.4 467.4 416.3 466.4 414.6 465.8 412.3 465.6 409.6 465.8 406.1 466.5 403.8 467.7 401.3 468.9 399.5 470.7 397.7 472.9 395.9 474.2 395.2 475.4 394.8 479.9 394.4 480.9 393.9 483.2 392.0 483.9 391.8 484.7 391.9 485.4 392.6 485.9 393.4 486.4 394.6 486.5 395.8 486.5 399.1 486.7 404.6 486.5 409.8 486.2 412.6 485.4 415.1 484.7 416.4 483.9 417.1 483.2 417.1 481.2 415.9 480.2 415.7 474.7 418.4 472.9 418.8ZM494.2 392.3 492.9 392.2 492.2 391.8 491.7 390.8 491.9 389.8 492.5 388.8 493.6 388.1 494.7 387.7 495.9 387.9 496.6 388.3 497.0 388.8 497.2 389.6 497.0 390.3 496.6 391.1 495.9 391.7 494.2 392.3ZM473.2 420.1 470.9 419.9 468.4 418.9 466.9 417.7 465.8 416.1 464.9 413.6 464.4 410.3 464.6 406.8 465.2 404.3 466.6 401.3 467.8 399.3 469.7 397.2 472.2 395.1 473.7 394.2 475.4 393.6 480.2 392.9 483.2 390.9 483.9 390.7 484.4 390.8 485.2 391.3 485.9 392.4 486.6 393.8 486.9 395.3 486.7 399.1 486.9 404.6 486.8 410.3 486.4 413.3 485.7 415.9 484.9 417.4 483.9 418.3 483.2 418.4 481.2 417.3 480.2 417.2 475.4 419.5 473.2 420.1ZM494.2 393.1 492.4 393.0 491.1 392.3 490.7 391.3 490.9 389.8 491.9 388.3 493.2 387.4 494.9 387.0 496.4 387.2 497.4 387.8 497.9 388.6 498.1 389.6 497.8 390.6 497.2 391.5 496.4 392.2 495.4 392.7 494.2 393.1ZM473.4 421.3 470.9 421.3 468.2 420.5 466.7 419.5 465.4 417.8 464.1 414.8 463.3 411.1 463.4 407.6 464.0 404.6 465.4 401.3 466.8 399.1 468.9 396.6 471.3 394.6 473.2 393.3 474.9 392.5 476.9 391.9 480.2 391.5 481.2 391.0 482.9 389.8 484.2 389.6 484.9 390.0 485.7 390.9 486.9 393.3 487.3 394.8 486.9 399.1 487.2 404.8 487.1 410.8 486.7 413.8 486.0 416.6 484.9 418.8 483.9 419.6 483.2 419.7 481.2 418.7 480.2 418.6 476.2 420.5 473.4 421.3ZM493.4 393.8 490.4 393.5 489.5 393.1 489.6 391.3 490.4 389.3 491.7 387.6 493.4 386.6 495.4 386.3 497.2 386.7 498.2 387.5 498.8 388.6 498.8 389.8 498.4 391.1 497.6 392.1 496.4 393.0 494.9 393.6 493.4 393.8ZM473.4 422.6 470.9 422.7 468.2 422.0 466.2 421.0 464.7 419.3 463.0 415.6 462.1 411.8 462.1 408.8 462.8 404.8 464.0 401.8 465.9 398.6 467.7 396.3 469.9 394.3 472.7 392.4 474.9 391.2 476.7 390.7 480.2 390.1 482.9 388.4 484.2 388.3 485.2 389.1 486.9 392.4 488.5 394.1 487.4 397.1 487.2 398.6 487.3 411.1 487.0 414.3 486.3 417.3 485.2 419.8 484.7 420.5 483.9 421.0 483.2 421.0 481.2 420.1 480.4 420.0 476.7 421.7 473.4 422.6ZM472.7 424.1 470.7 424.2 468.9 423.9 466.9 423.1 465.2 422.0 464.2 421.0 463.3 419.6 462.1 417.1 461.3 414.8 460.9 412.8 460.8 411.1 461.5 405.8 462.7 402.3 465.1 397.8 466.5 396.1 468.1 394.6 473.2 391.0 475.9 389.7 480.2 388.6 482.9 387.1 483.9 387.0 484.9 387.5 485.7 388.6 486.9 391.3 487.7 391.9 488.5 391.3 490.4 388.0 492.4 386.4 493.9 385.8 495.4 385.6 496.9 385.8 498.2 386.5 499.2 387.6 499.6 389.1 499.3 390.8 498.3 392.3 496.9 393.4 495.4 394.1 493.9 394.4 491.2 394.6 490.2 394.9 488.4 396.4 487.7 397.6 487.4 399.6 487.6 409.1 487.3 414.1 486.6 418.1 485.9 419.9 485.2 421.3 484.4 422.1 483.7 422.4 482.9 422.3 481.2 421.6 480.2 421.5 476.7 423.0 472.7 424.1Z" fill="none" stroke="#000" stroke-width="0.6"/>
<path d="M486.2 400.6 484.9 400.6 483.9 400.5 482.9 400.1 482.1 399.6 481.5 398.8 481.1 398.1 480.8 397.1 480.8 395.8 481.4 394.1 482.3 392.6 485.6 389.3 488.2 386.1 489.7 384.7 491.4 383.7 492.9 383.1 494.9 382.7 496.7 382.6 498.4 382.9 500.2 383.6 501.4 384.6 502.3 385.6 502.8 386.6 503.1 387.8 503.1 389.1 502.8 390.6 502.3 391.8 501.6 393.1 500.7 394.1 499.2 395.3 497.2 396.5 495.7 397.0 492.4 397.8 488.4 400.0 486.2 400.6Z" fill="#d8401c" fill-opacity="0.72" stroke="#8a2010" stroke-width="0.55"/>
<path d="M485.9 399.3 484.2 399.0 482.9 398.1 482.3 396.8 482.3 396.1 482.4 395.1 482.8 394.1 483.7 392.8 486.7 390.1 489.4 386.5 490.7 385.5 492.2 384.6 493.7 384.1 495.2 383.9 496.7 383.9 498.2 384.2 499.4 384.8 500.4 385.6 501.1 386.6 501.5 387.6 501.7 389.6 501.3 390.8 500.9 391.8 499.4 393.6 498.2 394.6 496.7 395.4 495.2 395.9 491.9 396.6 488.2 398.8 486.9 399.2 485.9 399.3Z" fill="#e2481e" fill-opacity="0.35" stroke="#a8280f" stroke-width="0.45"/>
<path d="M487.4 397.6 485.9 397.8 484.7 397.3 484.0 396.3 484.0 395.1 484.5 394.1 485.1 393.3 487.9 390.8 489.5 388.3 490.6 387.1 491.7 386.2 492.7 385.7 493.9 385.3 495.2 385.1 496.4 385.1 497.4 385.4 498.4 385.8 499.3 386.6 499.8 387.3 500.1 388.1 500.2 389.6 499.7 391.3 498.4 392.9 497.2 393.8 495.7 394.5 490.9 395.5 488.4 397.1 487.4 397.6Z" fill="#e2481e" fill-opacity="0.35" stroke="#a8280f" stroke-width="0.45"/>
<path d="M494.7 393.6 492.7 393.8 490.1 393.3 489.6 392.8 489.7 391.3 490.1 390.1 490.5 389.1 491.9 387.5 492.9 386.9 493.9 386.5 495.2 386.3 496.2 386.4 497.4 386.9 498.4 387.8 498.8 388.8 498.7 390.1 498.2 391.3 497.3 392.3 496.2 393.1 494.7 393.6Z" fill="#e2481e" fill-opacity="0.35" stroke="#a8280f" stroke-width="0.45"/>
<path d="M494.9 392.3 493.7 392.5 492.4 392.2 491.7 391.6 491.5 390.6 491.9 389.3 492.7 388.4 493.9 387.7 495.2 387.5 495.9 387.7 496.7 388.1 497.2 388.8 497.4 389.6 497.2 390.3 496.7 391.2 495.9 391.9 494.9 392.3Z" fill="#e2481e" fill-opacity="0.35" stroke="#a8280f" stroke-width="0.45"/>
<path d="M494.9 391.1 494.2 391.2 493.7 391.2 493.2 390.8 493.1 390.6 493.0 390.1 493.3 389.6 494.2 388.9 495.2 388.8 495.7 389.2 495.9 389.6 495.7 390.5 494.9 391.1Z" fill="#e2481e" fill-opacity="0.35" stroke="#a8280f" stroke-width="0.45"/>
<defs><linearGradient id="mgc" gradientUnits="userSpaceOnUse" x1="495" y1="390" x2="484" y2="397"><stop offset="0" stop-color="#fff" stop-opacity="0"/><stop offset="1" stop-color="#fff" stop-opacity="1"/></linearGradient><mask id="mkc" maskUnits="userSpaceOnUse" x="453.2" y="381.8" width="59.30000000000001" height="59.19999999999999"><rect x="453.2" y="381.8" width="59.30000000000001" height="59.19999999999999" fill="url(#mgc)"/></mask></defs>
<use href="#tcc" mask="url(#mkc)" opacity="0.8"/>
<path d="M453.2,441 V381.8 H512.5 V441 Z" fill="none" stroke="#222" stroke-width="0.9"/>
<path d="M453.2,381.8 V441 H512.5" fill="none" stroke="#000" stroke-width="1.2"/>
<path d="M451.7,437.0h2.5M452.2,433.8h1.5M452.2,432.0h1.5M452.2,430.7h1.5M452.2,429.7h1.5M451.7,426.5h2.5M452.2,423.3h1.5M452.2,421.5h1.5M452.2,420.2h1.5M452.2,419.2h1.5M451.7,416.0h2.5M452.2,412.8h1.5M452.2,411.0h1.5M452.2,409.7h1.5M452.2,408.7h1.5M451.7,405.5h2.5M452.2,402.3h1.5M452.2,400.5h1.5M452.2,399.2h1.5M452.2,398.2h1.5M451.7,395.0h2.5M452.2,391.8h1.5M452.2,390.0h1.5M452.2,388.7h1.5M452.2,387.7h1.5M451.7,384.5h2.5M457.2,440v2.5M460.4,440.5v1.5M462.2,440.5v1.5M463.5,440.5v1.5M464.5,440.5v1.5M467.7,440v2.5M470.9,440.5v1.5M472.7,440.5v1.5M474.0,440.5v1.5M475.0,440.5v1.5M478.2,440v2.5M481.4,440.5v1.5M483.2,440.5v1.5M484.5,440.5v1.5M485.5,440.5v1.5M488.7,440v2.5M491.9,440.5v1.5M493.7,440.5v1.5M495.0,440.5v1.5M496.0,440.5v1.5M499.2,440v2.5M502.4,440.5v1.5M504.2,440.5v1.5M505.5,440.5v1.5M506.5,440.5v1.5M509.7,440v2.5" stroke="#000" stroke-width="0.6"/>
<text x="491.8" y="411.3" font-size="9.4" fill="#c0483a" textLength="16.3" lengthAdjust="spacingAndGlyphs">87%</text>
<line x1="451.2" y1="448.5" x2="481.2" y2="448.5" stroke="#000" stroke-width="1.3"/><path d="M479.2,445.8 L485.2,448.5 L479.2,451.2Z" fill="#000"/>
<text x="450.9" y="460.3" font-size="11" fill="#111" textLength="28.5" lengthAdjust="spacingAndGlyphs">GPR56</text>
<rect x="292.6" y="471.7" width="59.19999999999999" height="58.599999999999966" fill="#fff"/>
<path d="M325.6,471.7 V489.2 H351.8" fill="none" stroke="#444" stroke-width="0.9"/>
<path id="tcd" d="M322.6 496.6 322.6 496.1 322.6 496.6ZM322.6 497.1 322.6 495.8 322.9 496.4 322.6 497.1ZM322.6 497.8 322.3 496.2 322.6 495.3 322.9 495.6 323.0 496.4 322.9 497.7 322.6 497.8ZM322.9 499.0 322.6 498.9 322.4 498.1 322.1 496.4 322.2 495.4 322.6 494.8 322.9 495.2 323.1 496.2 322.9 499.0ZM322.9 500.5 322.6 500.3 322.4 499.6 321.9 496.4 322.0 494.9 322.6 494.3 323.1 494.9 323.4 496.4 323.2 499.4 322.9 500.5ZM322.9 501.9 322.4 501.2 322.1 500.1 321.6 496.2 321.9 494.5 322.2 493.9 322.6 493.8 323.1 494.2 323.3 494.7 323.5 496.4 323.4 500.8 323.1 501.7 322.9 501.9ZM322.9 503.0 322.4 502.5 322.0 501.4 321.2 496.2 321.6 494.1 322.1 493.4 322.6 493.2 323.1 493.5 323.4 494.2 323.8 496.7 323.6 501.3 323.4 502.4 322.9 503.0ZM315.9 496.6 314.8 496.4 313.9 495.4 313.8 494.2 314.4 493.4 314.9 493.3 315.6 493.6 316.6 494.7 316.7 495.4 316.6 495.9 315.9 496.6ZM316.1 498.5 315.4 498.6 314.6 498.1 313.4 496.8 312.8 495.7 312.7 494.7 312.9 493.4 313.4 492.3 314.1 491.7 314.9 491.7 315.9 492.2 317.1 493.4 317.9 494.7 318.0 495.7 317.7 496.7 317.1 497.6 316.1 498.5ZM322.9 504.0 322.4 503.6 321.8 502.2 320.7 495.9 320.9 494.7 321.3 493.7 321.9 492.9 322.6 492.5 323.1 492.8 323.6 493.8 324.0 496.7 323.8 501.9 323.4 503.4 322.9 504.0ZM322.9 505.0 322.4 504.8 321.8 503.9 320.4 498.3 319.9 497.0 319.6 496.8 319.1 497.2 317.2 500.2 316.4 501.1 315.4 501.3 314.4 500.4 312.2 496.7 311.8 494.9 311.9 493.4 312.3 491.9 312.9 490.9 313.6 490.3 314.6 490.1 315.6 490.5 317.4 492.2 319.6 494.8 320.1 494.4 321.3 492.7 322.1 491.9 322.9 491.8 323.4 492.4 323.9 493.6 324.1 495.2 324.2 500.7 323.9 503.5 323.4 504.6 322.9 505.0ZM322.9 506.0 322.4 505.9 321.8 505.2 320.4 501.1 319.6 500.1 318.9 500.4 317.1 502.2 316.1 502.6 315.4 502.6 314.6 502.3 313.5 500.9 311.3 496.9 310.9 494.9 311.0 493.2 311.4 491.4 312.1 490.2 313.1 489.2 314.4 488.8 315.6 489.2 316.6 490.0 318.9 492.3 319.6 492.7 320.4 492.6 321.8 491.2 322.4 490.9 322.9 491.0 323.4 491.5 324.0 492.9 324.4 494.9 324.4 500.9 324.0 504.2 323.5 505.4 322.9 506.0ZM322.9 507.1 322.4 507.0 321.6 506.3 320.1 503.1 319.6 502.5 319.1 502.5 317.4 503.5 316.4 503.8 315.1 503.7 314.1 503.2 313.0 501.9 310.6 497.7 309.9 495.4 310.2 492.2 311.2 489.7 312.0 488.7 312.9 488.1 314.4 487.7 315.9 488.1 316.9 488.8 318.9 490.8 319.6 491.3 320.4 491.3 322.4 489.9 323.1 490.1 323.6 490.9 324.2 492.7 324.6 494.9 324.7 501.7 324.5 503.4 324.1 505.2 323.6 506.3 322.9 507.1ZM323.1 508.1 322.6 508.2 321.9 507.8 320.1 505.4 319.4 504.8 316.1 505.1 314.9 504.8 313.9 504.2 312.4 502.5 309.6 497.7 309.1 496.4 308.9 495.2 309.4 491.2 310.0 489.7 310.8 488.4 311.6 487.5 312.6 486.9 314.1 486.5 315.9 486.9 317.1 487.6 319.1 489.5 319.9 490.0 320.6 489.8 322.4 488.6 323.1 488.8 323.6 489.6 324.4 491.8 324.8 494.2 324.9 501.2 324.8 503.4 324.4 505.4 323.9 507.0 323.1 508.1ZM323.1 509.2 322.6 509.3 322.1 509.1 319.6 506.7 318.9 506.5 316.1 506.5 314.9 506.0 313.6 505.1 311.8 503.2 308.5 497.7 308.1 496.4 307.9 494.9 308.2 492.2 308.6 490.2 309.2 488.7 310.1 487.4 311.1 486.3 312.4 485.6 314.1 485.2 315.9 485.5 317.4 486.3 319.9 488.4 320.6 488.3 322.1 487.1 322.6 487.0 323.1 487.3 323.6 488.0 324.4 490.3 325.0 493.7 325.2 496.9 325.2 501.4 325.0 503.9 324.6 506.2 323.9 508.3 323.1 509.2ZM328.9 480.0 327.9 480.0 327.0 479.4 326.9 478.9 327.0 478.4 327.9 477.7 329.1 477.6 329.9 478.2 330.0 478.7 329.9 479.2 328.9 480.0ZM322.9 510.5 322.1 510.3 320.4 508.6 319.6 508.1 316.1 507.9 314.9 507.3 313.4 506.1 311.9 504.7 310.8 503.4 307.4 497.7 307.0 496.2 307.0 494.7 307.3 491.4 307.8 489.2 308.4 487.7 309.4 486.2 310.6 485.0 311.9 484.2 313.9 483.8 316.6 484.2 317.6 484.6 319.4 486.2 320.1 486.6 320.9 486.3 322.1 485.4 322.6 485.3 323.1 485.6 323.8 486.7 324.6 489.7 325.2 493.7 325.4 497.4 325.4 502.4 325.1 505.4 324.4 508.2 323.6 509.9 322.9 510.5ZM328.9 481.0 327.6 481.0 326.6 480.7 325.7 480.2 325.3 479.4 325.6 478.4 326.5 477.4 327.6 476.8 328.9 476.6 329.9 476.8 330.6 477.2 331.0 477.7 331.2 478.4 331.1 479.2 330.6 480.0 329.9 480.6 328.9 481.0ZM323.1 511.7 322.1 511.5 320.4 509.9 319.6 509.4 316.1 509.2 315.1 508.8 313.9 507.9 311.6 505.9 310.2 504.2 308.2 501.2 306.6 498.2 306.1 496.4 306.0 494.4 306.2 491.2 306.7 488.7 307.4 486.9 308.8 484.9 310.0 483.7 311.4 482.9 313.4 482.5 318.9 482.5 320.6 482.6 322.1 482.4 322.9 483.0 323.6 484.4 324.5 487.4 325.3 491.9 325.6 496.4 325.6 501.7 325.4 505.2 324.8 508.7 324.1 510.7 323.6 511.4 323.1 511.7ZM323.4 513.0 322.9 513.2 322.1 512.9 320.4 511.3 319.4 510.7 316.1 510.4 314.6 509.8 311.6 507.2 309.7 505.2 307.3 501.4 305.5 497.7 305.2 495.9 305.1 493.4 305.3 489.9 305.9 487.4 306.8 485.4 308.4 483.3 309.9 482.1 312.1 481.4 316.6 481.3 320.9 480.4 323.4 479.2 325.5 477.2 326.6 476.4 328.1 475.9 329.6 475.9 331.1 476.4 331.9 477.4 332.1 478.7 331.6 480.0 330.6 481.0 329.1 481.6 327.9 481.8 325.9 481.5 325.1 481.7 324.6 482.2 324.3 482.9 324.4 484.2 325.2 488.9 325.7 493.7 325.8 502.9 325.5 506.4 324.9 510.2 324.2 511.9 323.4 513.0ZM323.4 514.5 322.9 514.6 322.1 514.3 320.4 512.7 319.4 512.1 315.9 511.5 314.1 510.8 311.1 508.2 309.0 505.9 306.5 501.9 304.7 497.9 304.0 492.7 304.2 489.7 304.8 486.7 305.7 484.7 307.2 482.7 308.9 481.4 310.5 480.7 312.1 480.3 316.9 480.2 320.4 479.5 322.1 478.7 326.6 475.7 328.1 475.3 329.9 475.2 331.4 475.8 332.4 476.6 332.9 477.7 332.9 478.9 332.2 480.4 330.9 481.6 328.9 482.3 325.9 482.5 325.4 482.9 325.1 483.4 325.0 484.9 326.0 495.2 326.0 504.2 325.0 511.4 324.4 513.3 323.4 514.5ZM323.1 516.0 322.1 515.8 319.4 513.6 315.4 512.7 313.6 511.9 310.4 509.1 308.1 506.4 305.8 502.7 304.4 499.9 303.8 498.2 302.9 492.4 303.1 488.7 303.8 485.9 304.7 483.9 306.1 482.4 308.4 480.9 310.6 479.9 312.6 479.4 317.4 479.2 320.1 478.7 321.4 478.2 324.6 476.1 326.6 475.1 328.4 474.6 330.1 474.6 331.8 475.2 333.0 476.2 333.6 477.4 333.7 478.9 332.8 480.7 331.4 482.0 329.4 482.9 326.4 483.1 325.9 483.4 325.6 483.9 325.4 485.7 326.3 496.4 326.2 505.2 325.6 510.2 325.1 513.0 324.1 515.2 323.1 516.0Z" fill="none" stroke="#000" stroke-width="0.6"/>
<path d="M330.6 471.7 332.6 472.1 334.6 473.1 336.1 474.4 337.0 475.9 337.3 477.7 337.1 479.7 336.2 481.4 334.7 483.2 332.9 484.5 330.4 485.6 328.4 485.9 324.4 486.0 319.6 487.3 318.1 487.4 316.9 487.1 315.6 486.6 314.7 485.9 314.1 485.2 313.8 484.4 313.6 482.7 313.8 481.7 314.2 480.7 315.4 479.2 316.6 478.1 319.9 476.2 322.6 474.1 324.1 473.1 326.4 472.1 328.6 471.7Z" fill="#d8401c" fill-opacity="0.72" stroke="#8a2010" stroke-width="0.55"/>
<path d="M320.4 486.0 318.9 486.1 317.4 485.9 316.2 485.2 315.4 484.2 315.1 482.9 315.3 481.7 316.1 480.2 317.4 479.1 321.1 477.0 323.4 475.0 324.6 474.2 325.9 473.5 327.6 473.0 329.9 472.8 332.1 473.3 333.8 474.2 335.1 475.4 335.6 476.4 335.8 477.4 335.9 478.4 335.7 479.4 335.3 480.4 334.6 481.4 332.9 483.1 331.1 484.1 329.6 484.5 327.9 484.8 324.1 484.8 320.4 486.0Z" fill="#e2481e" fill-opacity="0.35" stroke="#a8280f" stroke-width="0.45"/>
<path d="M320.6 484.5 318.9 484.6 318.1 484.4 317.4 483.9 317.0 483.4 316.8 482.7 317.1 481.4 317.6 480.7 318.4 480.0 321.9 478.2 324.1 476.0 325.1 475.3 327.4 474.3 328.6 474.1 330.1 474.1 331.4 474.4 332.4 474.8 333.2 475.4 333.8 476.2 334.4 477.7 334.2 479.4 333.4 481.0 331.9 482.4 330.6 483.0 329.1 483.4 327.4 483.6 323.9 483.3 320.6 484.5Z" fill="#e2481e" fill-opacity="0.35" stroke="#a8280f" stroke-width="0.45"/>
<path d="M329.1 482.3 327.6 482.4 325.9 482.1 323.8 481.2 323.4 480.9 323.1 480.4 323.3 479.7 323.9 478.4 325.2 476.7 326.9 475.7 328.9 475.2 330.4 475.4 331.6 476.0 332.5 476.9 332.9 478.2 332.7 479.4 331.9 480.7 330.6 481.7 329.1 482.3Z" fill="#e2481e" fill-opacity="0.35" stroke="#a8280f" stroke-width="0.45"/>
<path d="M329.4 481.0 328.1 481.2 327.1 481.1 326.3 480.7 325.6 480.0 325.4 479.2 325.6 478.4 326.0 477.7 326.9 477.0 328.1 476.5 329.3 476.4 330.4 476.8 331.1 477.4 331.4 478.4 331.2 479.4 330.4 480.4 329.4 481.0Z" fill="#e2481e" fill-opacity="0.35" stroke="#a8280f" stroke-width="0.45"/>
<path d="M328.6 480.0 327.9 480.0 327.4 479.7 327.1 479.4 327.0 478.9 327.1 478.4 327.6 477.9 328.1 477.7 328.9 477.6 329.7 477.9 330.0 478.7 329.6 479.5 328.6 480.0Z" fill="#e2481e" fill-opacity="0.35" stroke="#a8280f" stroke-width="0.45"/>
<defs><linearGradient id="mgd" gradientUnits="userSpaceOnUse" x1="329" y1="478" x2="318" y2="485"><stop offset="0" stop-color="#fff" stop-opacity="0"/><stop offset="1" stop-color="#fff" stop-opacity="1"/></linearGradient><mask id="mkd" maskUnits="userSpaceOnUse" x="292.6" y="471.7" width="59.19999999999999" height="58.599999999999966"><rect x="292.6" y="471.7" width="59.19999999999999" height="58.599999999999966" fill="url(#mgd)"/></mask></defs>
<use href="#tcd" mask="url(#mkd)" opacity="0.8"/>
<path d="M292.6,530.3 V471.7 H351.8 V530.3 Z" fill="none" stroke="#222" stroke-width="0.9"/>
<path d="M292.6,471.7 V530.3 H351.8" fill="none" stroke="#000" stroke-width="1.2"/>
<path d="M291.1,526.3h2.5M291.6,523.1h1.5M291.6,521.3h1.5M291.6,520.0h1.5M291.6,519.0h1.5M291.1,515.8h2.5M291.6,512.6h1.5M291.6,510.8h1.5M291.6,509.5h1.5M291.6,508.5h1.5M291.1,505.3h2.5M291.6,502.1h1.5M291.6,500.3h1.5M291.6,499.0h1.5M291.6,498.0h1.5M291.1,494.8h2.5M291.6,491.6h1.5M291.6,489.8h1.5M291.6,488.5h1.5M291.6,487.5h1.5M291.1,484.3h2.5M291.6,481.1h1.5M291.6,479.3h1.5M291.6,478.0h1.5M291.6,477.0h1.5M291.1,473.8h2.5M296.6,529.3v2.5M299.8,529.8v1.5M301.6,529.8v1.5M302.9,529.8v1.5M303.9,529.8v1.5M307.1,529.3v2.5M310.3,529.8v1.5M312.1,529.8v1.5M313.4,529.8v1.5M314.4,529.8v1.5M317.6,529.3v2.5M320.8,529.8v1.5M322.6,529.8v1.5M323.9,529.8v1.5M324.9,529.8v1.5M328.1,529.3v2.5M331.3,529.8v1.5M333.1,529.8v1.5M334.4,529.8v1.5M335.4,529.8v1.5M338.6,529.3v2.5M341.8,529.8v1.5M343.6,529.8v1.5M344.9,529.8v1.5M345.9,529.8v1.5M349.1,529.3v2.5" stroke="#000" stroke-width="0.6"/>
<text x="332.6" y="499.8" font-size="9.4" fill="#c0483a" textLength="16.3" lengthAdjust="spacingAndGlyphs">75%</text>
<line x1="290.6" y1="537.8" x2="320.6" y2="537.8" stroke="#000" stroke-width="1.3"/><path d="M318.6,535.0999999999999 L324.6,537.8 L318.6,540.5Z" fill="#000"/>
<text x="291.0" y="550.3" font-size="11" fill="#111" textLength="26.8" lengthAdjust="spacingAndGlyphs">CD143</text>
<rect x="376.6" y="471.7" width="59.19999999999999" height="58.80000000000001" fill="#fff"/>
<path d="M404.7,471.7 V490.9 H435.8" fill="none" stroke="#444" stroke-width="0.9"/>
<path id="tce" d="M400.4 497.8 400.4 497.3 400.5 497.7 400.4 497.8ZM400.6 498.2 400.4 498.2 400.3 497.9 400.4 496.9 400.6 497.2 400.6 498.2ZM400.6 498.7 400.4 498.7 400.1 497.9 400.1 496.8 400.4 496.3 400.6 496.5 400.8 497.4 400.6 498.7ZM400.6 499.3 400.1 498.9 399.8 497.7 399.9 496.4 400.4 495.6 400.6 495.7 400.9 496.4 401.0 497.4 400.9 498.7 400.6 499.3ZM400.9 499.7 400.6 499.9 400.1 499.6 399.6 497.9 399.7 495.9 399.9 495.2 400.4 494.7 400.9 495.3 401.2 496.9 401.2 498.7 400.9 499.7ZM400.9 500.5 400.4 500.6 399.9 499.9 399.2 497.4 399.5 494.9 399.9 494.2 400.4 493.7 400.6 493.8 400.9 494.4 401.4 496.9 401.4 499.1 400.9 500.5ZM400.9 501.3 400.4 501.4 399.6 500.4 399.0 498.7 398.7 496.9 398.8 495.7 399.2 494.2 399.8 492.9 400.4 492.6 400.9 493.0 401.1 493.6 401.6 497.2 401.5 499.7 401.2 500.7 400.9 501.3ZM400.9 502.3 400.6 502.3 400.1 502.1 399.3 500.7 398.2 497.9 397.8 495.9 397.9 494.9 399.0 492.9 399.6 491.9 400.4 491.5 400.9 491.9 401.4 493.1 401.9 497.2 401.7 500.4 401.4 501.6 400.9 502.3ZM400.9 503.3 400.4 503.2 399.9 502.8 397.9 499.4 396.4 497.4 395.6 495.7 395.2 493.9 395.4 492.9 395.9 492.2 396.4 492.1 397.6 492.3 398.1 492.1 400.1 490.5 400.9 490.8 401.4 491.9 401.8 493.9 402.1 496.9 402.1 499.2 401.9 501.2 401.4 502.8 400.9 503.3ZM400.9 504.3 400.4 504.3 399.9 503.8 398.1 501.2 395.6 498.5 394.6 496.1 394.2 493.7 394.5 491.7 395.4 490.6 396.1 490.3 398.1 490.5 400.1 489.4 400.9 489.7 401.6 491.2 402.1 493.4 402.4 496.9 402.4 499.4 402.0 501.9 401.6 503.5 400.9 504.3ZM401.1 505.2 400.6 505.4 399.9 504.9 397.9 502.3 395.9 500.6 394.9 499.2 394.2 497.7 393.4 494.7 393.4 492.2 394.1 490.0 394.6 489.4 395.4 488.9 396.1 488.8 398.1 489.0 399.9 488.3 400.4 488.3 401.1 488.9 401.6 489.9 402.4 493.3 402.6 499.2 402.1 503.4 401.6 504.7 401.1 505.2ZM400.6 506.5 399.9 506.1 397.9 503.7 395.1 501.2 393.9 499.2 393.1 496.9 392.6 493.7 392.9 490.7 393.2 489.4 393.9 488.4 394.6 487.6 395.6 487.0 396.4 487.0 398.1 487.5 399.9 487.0 400.6 487.2 401.4 488.0 402.1 490.1 402.5 492.4 402.8 495.4 402.9 498.7 402.8 501.4 402.5 503.4 402.1 504.9 401.4 506.1 400.6 506.5ZM401.1 507.5 400.6 507.6 399.9 507.3 397.9 505.1 395.1 502.7 393.4 499.9 392.3 496.7 391.8 492.9 392.0 490.9 392.3 489.2 392.9 487.7 393.9 486.2 394.9 485.1 395.9 484.6 396.9 484.6 398.4 485.4 399.9 485.4 400.6 485.6 401.6 487.1 402.4 489.6 403.0 494.4 403.2 498.4 403.1 501.4 402.5 505.2 401.9 506.6 401.1 507.5ZM407.4 480.2 406.2 480.2 405.4 479.7 405.3 479.2 405.4 478.7 406.1 478.0 406.9 477.7 407.6 477.8 408.1 477.9 408.6 478.4 408.7 478.9 408.5 479.4 407.4 480.2ZM401.1 508.7 400.6 508.8 399.9 508.5 397.9 506.5 395.6 504.7 394.6 503.6 392.6 500.2 391.5 496.4 391.2 494.2 391.1 491.9 391.3 489.7 391.9 487.6 392.7 485.7 393.7 484.2 394.9 483.2 396.1 482.7 397.1 482.7 399.6 482.9 400.6 483.4 401.6 485.4 402.7 489.4 403.1 492.7 403.4 496.7 403.3 502.7 403.0 504.7 402.5 506.4 401.9 507.9 401.1 508.7ZM407.4 481.2 406.1 481.3 405.0 480.9 404.0 480.2 403.8 479.4 404.1 478.4 405.0 477.4 406.1 476.9 407.4 476.7 408.4 476.8 409.1 477.2 409.8 477.9 410.0 478.7 409.9 479.4 409.4 480.2 408.4 480.9 407.4 481.2ZM401.1 510.1 400.6 510.1 399.9 509.8 397.9 507.8 395.6 506.2 394.2 504.7 393.1 502.9 392.0 500.7 391.2 498.4 390.7 496.2 390.4 493.7 390.4 490.9 390.7 488.4 391.3 486.2 392.1 484.4 393.2 482.9 394.6 482.0 396.1 481.5 400.9 481.1 401.5 481.4 401.8 482.2 403.3 491.9 403.7 500.7 403.5 503.9 403.0 506.4 402.1 508.9 401.1 510.1ZM400.9 511.5 399.9 511.1 397.9 509.1 395.6 507.6 394.6 506.7 393.1 504.7 391.7 501.9 390.4 498.4 389.8 494.9 389.7 490.4 390.1 486.7 390.7 484.9 391.5 483.4 392.4 482.2 393.6 481.3 395.4 480.6 398.6 480.2 399.9 479.8 402.1 478.7 404.3 476.9 405.6 476.3 407.1 476.0 408.6 476.1 410.0 476.7 410.9 477.8 410.9 479.2 410.3 480.4 409.0 481.4 407.4 482.0 405.9 482.0 403.6 481.6 403.1 482.0 402.7 482.9 402.7 484.9 403.8 494.2 404.0 498.9 403.9 503.4 403.5 506.4 402.7 509.2 401.9 510.8 401.4 511.3 400.9 511.5ZM401.1 512.8 400.6 512.8 399.9 512.4 397.6 510.2 394.4 507.8 392.7 505.7 391.3 502.9 389.8 498.9 389.1 495.4 388.9 490.4 389.3 486.2 389.9 484.2 390.8 482.4 391.9 481.2 393.1 480.3 395.1 479.6 399.1 479.1 405.6 475.6 407.4 475.3 408.9 475.4 410.6 476.1 411.7 477.4 411.9 478.9 411.3 480.4 410.3 481.4 408.9 482.3 406.9 482.7 404.1 482.6 403.6 482.8 403.2 483.7 403.1 485.7 403.8 491.7 404.2 497.4 404.1 504.2 403.8 507.2 403.0 510.2 402.1 511.9 401.1 512.8ZM400.9 514.2 399.9 513.9 397.6 511.6 395.1 509.9 393.9 508.7 392.3 506.7 390.7 503.7 389.2 499.4 388.4 495.7 388.1 489.9 388.5 485.4 389.2 483.4 389.9 481.9 391.0 480.7 392.5 479.7 394.9 478.8 398.9 478.2 401.9 476.6 405.6 474.9 407.4 474.6 409.1 474.8 410.9 475.4 412.0 476.4 412.6 477.7 412.7 479.2 411.8 480.9 410.9 481.9 409.9 482.5 407.4 483.3 404.4 483.4 403.9 483.7 403.6 484.2 403.5 486.2 404.2 493.2 404.4 498.7 404.3 505.9 403.8 509.2 403.0 511.7 402.1 513.5 401.4 514.1 400.9 514.2Z" fill="none" stroke="#000" stroke-width="0.6"/>
<path d="M409.8 471.7 412.1 472.3 413.9 473.2 415.3 474.4 416.3 475.9 416.7 477.7 416.5 479.7 415.7 481.4 414.3 483.2 412.4 484.6 409.9 485.8 407.6 486.3 403.4 486.7 400.1 488.1 398.6 488.6 397.1 488.7 395.6 488.6 394.1 488.1 393.1 487.4 392.0 485.9 391.6 484.9 391.5 483.9 391.6 482.9 391.9 481.7 393.0 479.9 394.4 478.7 397.4 476.7 401.4 473.5 403.9 472.3 406.5 471.7Z" fill="#d8401c" fill-opacity="0.72" stroke="#8a2010" stroke-width="0.55"/>
<path d="M398.6 487.2 396.9 487.4 395.4 487.0 394.1 486.2 393.3 484.9 393.0 483.7 393.3 482.2 394.1 480.8 395.4 479.6 398.6 477.6 402.1 474.6 403.9 473.6 405.6 473.1 408.1 472.8 410.4 473.1 412.6 474.1 414.1 475.4 414.7 476.4 415.0 477.4 415.1 478.4 414.9 479.4 414.6 480.4 414.0 481.4 412.4 483.1 410.9 484.0 409.1 484.7 407.1 485.1 403.1 485.4 402.1 485.7 399.9 486.8 398.6 487.2Z" fill="#e2481e" fill-opacity="0.35" stroke="#a8280f" stroke-width="0.45"/>
<path d="M398.6 485.7 396.9 485.8 396.1 485.5 395.4 484.9 395.0 484.4 394.8 483.7 394.8 482.9 395.1 482.2 395.6 481.4 396.4 480.7 399.6 478.9 401.8 476.4 403.1 475.4 404.4 474.8 405.6 474.3 407.1 474.1 408.6 474.1 409.9 474.3 411.1 474.8 412.1 475.5 412.9 476.4 413.4 477.9 413.2 479.7 412.4 481.2 410.9 482.6 409.4 483.4 407.6 483.8 406.1 484.0 403.4 483.8 402.4 483.9 398.6 485.7Z" fill="#e2481e" fill-opacity="0.35" stroke="#a8280f" stroke-width="0.45"/>
<path d="M406.6 482.7 405.4 482.7 404.1 482.4 402.0 481.4 401.7 480.9 401.6 480.4 402.0 478.7 402.6 477.7 403.4 476.9 404.4 476.2 405.4 475.7 407.6 475.3 408.9 475.4 409.9 475.8 410.9 476.4 411.6 477.4 411.8 478.7 411.5 479.9 410.8 480.9 409.6 481.9 408.1 482.5 406.6 482.7Z" fill="#e2481e" fill-opacity="0.35" stroke="#a8280f" stroke-width="0.45"/>
<path d="M406.9 481.5 405.4 481.3 404.2 480.7 403.7 479.7 403.8 478.7 404.6 477.6 405.9 476.8 407.4 476.5 408.9 476.8 409.6 477.3 410.1 477.9 410.2 478.7 410.1 479.4 409.6 480.2 408.9 480.8 407.9 481.3 406.9 481.5Z" fill="#e2481e" fill-opacity="0.35" stroke="#a8280f" stroke-width="0.45"/>
<path d="M407.1 480.2 406.4 480.2 405.8 479.9 405.4 479.4 405.4 478.9 405.6 478.4 406.3 477.9 407.6 477.8 408.4 478.2 408.6 478.9 408.1 479.8 407.1 480.2Z" fill="#e2481e" fill-opacity="0.35" stroke="#a8280f" stroke-width="0.45"/>
<defs><linearGradient id="mge" gradientUnits="userSpaceOnUse" x1="408" y1="479" x2="396" y2="486"><stop offset="0" stop-color="#fff" stop-opacity="0"/><stop offset="1" stop-color="#fff" stop-opacity="1"/></linearGradient><mask id="mke" maskUnits="userSpaceOnUse" x="376.6" y="471.7" width="59.19999999999999" height="58.80000000000001"><rect x="376.6" y="471.7" width="59.19999999999999" height="58.80000000000001" fill="url(#mge)"/></mask></defs>
<use href="#tce" mask="url(#mke)" opacity="0.8"/>
<path d="M376.6,530.5 V471.7 H435.8 V530.5 Z" fill="none" stroke="#222" stroke-width="0.9"/>
<path d="M376.6,471.7 V530.5 H435.8" fill="none" stroke="#000" stroke-width="1.2"/>
<path d="M375.1,526.5h2.5M375.6,523.3h1.5M375.6,521.5h1.5M375.6,520.2h1.5M375.6,519.2h1.5M375.1,516.0h2.5M375.6,512.8h1.5M375.6,511.0h1.5M375.6,509.7h1.5M375.6,508.7h1.5M375.1,505.5h2.5M375.6,502.3h1.5M375.6,500.5h1.5M375.6,499.2h1.5M375.6,498.2h1.5M375.1,495.0h2.5M375.6,491.8h1.5M375.6,490.0h1.5M375.6,488.7h1.5M375.6,487.7h1.5M375.1,484.5h2.5M375.6,481.3h1.5M375.6,479.5h1.5M375.6,478.2h1.5M375.6,477.2h1.5M375.1,474.0h2.5M380.6,529.5v2.5M383.8,530.0v1.5M385.6,530.0v1.5M386.9,530.0v1.5M387.9,530.0v1.5M391.1,529.5v2.5M394.3,530.0v1.5M396.1,530.0v1.5M397.4,530.0v1.5M398.4,530.0v1.5M401.6,529.5v2.5M404.8,530.0v1.5M406.6,530.0v1.5M407.9,530.0v1.5M408.9,530.0v1.5M412.1,529.5v2.5M415.3,530.0v1.5M417.1,530.0v1.5M418.4,530.0v1.5M419.4,530.0v1.5M422.6,529.5v2.5M425.8,530.0v1.5M427.6,530.0v1.5M428.9,530.0v1.5M429.9,530.0v1.5M433.1,529.5v2.5" stroke="#000" stroke-width="0.6"/>
<text x="413.0" y="499.7" font-size="9.4" fill="#c0483a" textLength="16.3" lengthAdjust="spacingAndGlyphs">72%</text>
<line x1="374.6" y1="538.0" x2="404.6" y2="538.0" stroke="#000" stroke-width="1.3"/><path d="M402.6,535.3 L408.6,538.0 L402.6,540.7Z" fill="#000"/>
<text x="374.8" y="549.5" font-size="11" fill="#111" textLength="27" lengthAdjust="spacingAndGlyphs">CD318</text>
<rect x="453.2" y="471.7" width="59.30000000000001" height="58.80000000000001" fill="#fff"/>
<path d="M481.7,471.7 V490.9 H512.5" fill="none" stroke="#444" stroke-width="0.9"/>
<path id="tcf" d="M477.2 495.9 477.2 495.6 477.2 495.9ZM477.2 496.3 477.0 495.7 477.2 495.2 477.4 495.7 477.2 496.3ZM477.2 496.8 476.8 495.7 476.9 495.0 477.2 494.8 477.4 495.0 477.6 495.9 477.4 496.7 477.2 496.8ZM477.2 497.5 476.7 496.7 476.5 495.7 476.7 494.8 477.2 494.3 477.7 494.9 477.8 495.9 477.7 496.9 477.4 497.4 477.2 497.5ZM477.4 498.3 477.2 498.3 476.7 497.6 476.2 495.7 476.5 494.4 477.2 493.8 477.7 494.2 478.0 495.4 477.9 496.9 477.4 498.3ZM477.4 499.4 477.2 499.4 476.7 498.7 475.7 495.7 476.1 494.2 476.7 493.5 477.2 493.2 477.7 493.6 477.9 494.1 478.2 495.7 478.0 498.4 477.4 499.4ZM477.7 500.5 477.4 500.7 476.9 500.4 475.4 497.1 474.7 496.0 474.2 495.6 473.4 495.5 473.3 495.2 473.4 494.9 474.2 494.9 474.7 494.7 476.4 492.9 477.2 492.6 477.7 492.8 477.9 493.2 478.4 495.4 478.3 498.7 477.7 500.5ZM477.7 501.8 477.2 501.9 476.8 501.4 475.4 498.9 474.9 498.2 472.9 497.6 472.2 496.9 471.8 495.9 471.7 494.7 471.9 493.5 472.4 493.0 473.2 492.8 474.9 493.1 477.2 491.8 477.9 492.3 478.5 494.2 478.7 496.7 478.4 499.9 478.2 500.9 477.7 501.8ZM477.4 503.1 476.7 502.6 474.9 500.0 472.7 499.0 471.9 498.3 471.4 497.4 470.9 495.9 470.8 494.2 471.2 492.5 471.9 491.6 472.9 491.4 474.4 491.9 475.2 491.9 477.2 490.8 477.7 491.0 478.2 491.8 478.9 494.7 478.9 498.7 478.4 501.7 477.9 502.7 477.4 503.1ZM477.7 504.1 476.9 504.0 474.9 501.7 472.4 500.4 471.7 499.6 470.9 498.2 470.2 495.9 470.1 493.4 470.6 491.2 471.4 490.3 472.7 490.1 474.4 490.7 475.2 490.7 477.2 489.7 477.7 489.9 478.2 490.6 479.1 493.9 479.2 498.2 478.7 502.2 478.2 503.5 477.7 504.1ZM477.7 505.2 476.9 505.2 474.9 503.2 472.2 501.8 471.2 500.6 470.2 498.7 469.5 495.7 469.5 492.2 469.9 490.2 470.4 489.5 471.2 489.0 472.4 488.9 474.9 489.5 475.7 489.3 476.9 488.6 477.4 488.6 477.9 488.9 478.4 489.8 478.9 491.6 479.4 494.2 479.4 499.4 478.8 503.2 478.2 504.7 477.7 505.2ZM477.7 506.5 476.9 506.4 474.9 504.5 472.9 503.7 471.9 503.0 470.7 501.4 469.6 498.9 468.8 495.4 468.9 490.9 469.2 489.7 469.7 488.7 470.4 487.9 471.2 487.5 472.7 487.5 474.9 488.1 475.7 488.0 476.9 487.3 477.4 487.4 478.2 488.0 478.7 489.1 479.2 491.1 479.6 494.2 479.7 499.9 479.4 502.1 478.9 504.3 478.4 505.6 477.7 506.5ZM477.7 507.7 476.9 507.6 474.9 505.9 472.4 504.7 471.3 503.7 469.7 501.3 468.5 497.9 468.1 495.9 468.0 493.9 468.1 491.2 468.4 489.4 469.0 487.9 469.9 486.7 470.9 486.0 472.2 485.5 473.4 485.4 475.2 485.8 476.7 485.4 477.2 485.5 478.2 486.5 479.2 489.2 479.9 494.7 479.9 500.9 479.6 503.4 478.9 505.9 478.4 507.0 477.7 507.7ZM484.4 480.7 483.2 480.7 482.4 480.2 482.3 479.7 482.4 479.2 483.1 478.4 484.5 478.2 485.2 478.4 485.6 478.9 485.7 479.4 485.5 479.9 484.4 480.7ZM477.9 508.8 477.4 508.9 476.7 508.7 474.7 507.1 472.2 505.8 470.9 504.7 469.9 503.2 468.9 501.4 468.1 499.2 467.6 496.9 467.3 494.4 467.3 491.2 467.6 489.2 468.2 487.6 469.1 485.9 470.0 484.9 471.7 484.0 473.4 483.4 476.9 483.1 477.7 483.3 478.4 484.9 479.6 489.4 480.2 495.2 480.2 501.2 479.3 506.7 478.7 508.0 477.9 508.8ZM484.7 481.7 483.4 481.9 482.4 481.7 481.5 481.2 480.9 480.4 480.8 479.7 481.1 478.9 481.6 478.2 482.4 477.6 483.7 477.2 484.9 477.2 486.2 477.7 486.8 478.4 487.0 479.4 486.6 480.4 485.9 481.2 484.7 481.7ZM477.9 510.1 476.9 510.0 474.9 508.6 472.2 507.1 470.9 506.1 469.7 504.4 468.3 501.9 467.4 499.2 466.8 496.2 466.6 492.9 466.7 490.4 467.1 488.2 468.1 485.7 469.2 484.1 470.4 483.2 472.2 482.4 475.4 482.0 477.9 481.4 478.7 481.7 478.9 482.4 480.3 492.2 480.6 499.2 480.4 502.7 479.7 506.9 478.9 509.0 477.9 510.1ZM478.2 511.2 477.7 511.4 476.9 511.2 474.9 509.9 471.9 508.4 470.1 506.4 468.4 503.7 467.0 500.4 466.1 496.2 465.8 492.2 466.2 488.4 466.8 486.4 467.7 484.4 468.6 483.2 469.7 482.3 471.9 481.4 475.2 481.0 476.2 480.7 479.2 479.0 481.4 477.3 482.7 476.6 484.2 476.3 485.4 476.4 486.9 477.1 487.8 478.2 488.0 479.7 487.4 480.9 486.2 482.0 484.4 482.6 482.9 482.7 480.7 482.2 480.2 482.5 479.8 483.4 479.7 485.7 480.7 495.2 480.8 501.4 480.4 505.7 479.9 508.2 479.1 510.2 478.2 511.2ZM478.2 512.5 477.2 512.6 474.9 511.1 471.7 509.6 469.9 507.9 468.1 504.9 466.5 501.2 465.5 496.9 465.1 492.4 465.5 487.9 466.2 485.7 467.1 483.7 468.0 482.4 469.2 481.4 471.7 480.4 475.7 479.9 482.4 476.0 484.2 475.6 485.7 475.7 487.2 476.3 488.2 477.2 488.8 478.4 488.8 479.7 488.5 480.7 488.0 481.4 486.2 482.8 483.9 483.4 481.2 483.2 480.7 483.4 480.4 483.9 480.1 485.9 481.0 495.4 481.0 502.9 480.6 506.7 480.1 509.2 479.2 511.5 478.2 512.5ZM478.2 514.0 477.2 514.0 474.9 512.4 472.4 511.4 471.2 510.6 469.4 508.8 467.7 505.9 465.8 501.4 464.8 497.2 464.4 492.2 464.8 487.4 465.4 485.2 466.3 483.2 467.3 481.9 468.7 480.9 471.4 479.7 475.6 478.9 478.4 477.2 482.2 475.4 483.9 475.0 485.9 475.1 487.6 475.7 488.9 476.7 489.6 478.2 489.7 479.7 489.3 480.7 488.7 481.7 486.9 483.1 484.4 484.0 481.4 484.0 480.9 484.3 480.7 484.7 480.5 486.7 481.1 493.7 481.3 499.4 481.1 506.2 480.7 508.9 480.0 511.2 479.2 513.0 478.2 514.0Z" fill="none" stroke="#000" stroke-width="0.6"/>
<path d="M475.9 489.7 473.9 489.9 471.9 489.5 470.2 488.5 469.1 487.2 468.5 485.4 468.6 483.4 469.3 481.7 470.7 480.0 474.2 477.4 476.7 475.0 477.9 474.0 479.7 473.0 481.7 472.3 484.7 471.8 487.4 472.1 489.9 473.0 490.9 473.6 491.9 474.4 492.7 475.4 493.4 476.7 493.7 477.9 493.7 479.2 493.4 480.7 492.8 481.9 491.2 484.0 489.4 485.4 487.4 486.3 484.9 487.0 480.9 487.5 477.7 489.1 475.9 489.7Z" fill="#d8401c" fill-opacity="0.72" stroke="#8a2010" stroke-width="0.55"/>
<path d="M475.2 488.5 473.9 488.5 472.9 488.3 471.9 487.9 471.1 487.2 470.5 486.4 470.1 485.4 470.0 484.4 470.1 483.4 470.7 482.2 471.7 480.9 472.7 480.1 475.4 478.4 478.4 475.3 479.9 474.3 481.7 473.6 483.4 473.2 485.2 473.1 486.9 473.3 488.4 473.8 489.9 474.7 491.0 475.7 491.9 477.4 492.1 478.4 492.0 479.7 491.6 480.9 491.1 481.9 489.4 483.7 487.7 484.8 485.7 485.6 484.2 485.9 481.2 486.0 480.2 486.2 476.9 488.0 475.2 488.5Z" fill="#e2481e" fill-opacity="0.35" stroke="#a8280f" stroke-width="0.45"/>
<path d="M475.9 486.7 474.2 486.9 473.4 486.7 472.7 486.3 472.2 485.7 471.8 484.9 471.8 484.2 471.9 483.4 472.4 482.5 473.2 481.7 475.9 480.2 476.6 479.7 478.5 477.2 479.9 475.9 481.2 475.1 482.7 474.6 484.2 474.4 485.4 474.4 486.7 474.7 487.9 475.1 488.9 475.8 489.8 476.7 490.4 478.2 490.4 479.9 489.5 481.7 488.2 483.0 486.4 484.0 484.7 484.5 482.9 484.6 480.4 484.5 479.4 484.7 478.7 485.0 476.9 486.2 475.9 486.7Z" fill="#e2481e" fill-opacity="0.35" stroke="#a8280f" stroke-width="0.45"/>
<path d="M484.7 483.2 482.9 483.3 480.9 482.9 479.5 482.2 479.0 481.7 478.8 481.2 478.8 480.4 479.0 479.4 479.9 477.7 481.4 476.5 483.4 475.8 485.2 475.7 486.9 476.2 488.2 477.2 488.6 477.9 488.8 478.7 488.7 480.2 487.9 481.4 486.4 482.6 484.7 483.2Z" fill="#e2481e" fill-opacity="0.35" stroke="#a8280f" stroke-width="0.45"/>
<path d="M484.4 482.0 483.2 482.0 481.9 481.7 481.0 480.9 480.7 479.9 480.9 478.9 481.6 477.9 482.7 477.3 483.9 477.0 485.2 477.0 486.2 477.4 486.9 478.2 487.2 478.9 487.1 479.9 486.5 480.9 485.4 481.7 484.4 482.0Z" fill="#e2481e" fill-opacity="0.35" stroke="#a8280f" stroke-width="0.45"/>
<path d="M484.2 480.7 483.4 480.7 482.9 480.6 482.5 480.2 482.4 479.7 482.5 479.2 482.8 478.7 483.9 478.2 485.0 478.4 485.6 479.2 485.6 479.7 485.2 480.2 484.2 480.7Z" fill="#e2481e" fill-opacity="0.35" stroke="#a8280f" stroke-width="0.45"/>
<defs><linearGradient id="mgf" gradientUnits="userSpaceOnUse" x1="485" y1="479" x2="473" y2="486"><stop offset="0" stop-color="#fff" stop-opacity="0"/><stop offset="1" stop-color="#fff" stop-opacity="1"/></linearGradient><mask id="mkf" maskUnits="userSpaceOnUse" x="453.2" y="471.7" width="59.30000000000001" height="58.80000000000001"><rect x="453.2" y="471.7" width="59.30000000000001" height="58.80000000000001" fill="url(#mgf)"/></mask></defs>
<use href="#tcf" mask="url(#mkf)" opacity="0.8"/>
<path d="M453.2,530.5 V471.7 H512.5 V530.5 Z" fill="none" stroke="#222" stroke-width="0.9"/>
<path d="M453.2,471.7 V530.5 H512.5" fill="none" stroke="#000" stroke-width="1.2"/>
<path d="M451.7,526.5h2.5M452.2,523.3h1.5M452.2,521.5h1.5M452.2,520.2h1.5M452.2,519.2h1.5M451.7,516.0h2.5M452.2,512.8h1.5M452.2,511.0h1.5M452.2,509.7h1.5M452.2,508.7h1.5M451.7,505.5h2.5M452.2,502.3h1.5M452.2,500.5h1.5M452.2,499.2h1.5M452.2,498.2h1.5M451.7,495.0h2.5M452.2,491.8h1.5M452.2,490.0h1.5M452.2,488.7h1.5M452.2,487.7h1.5M451.7,484.5h2.5M452.2,481.3h1.5M452.2,479.5h1.5M452.2,478.2h1.5M452.2,477.2h1.5M451.7,474.0h2.5M457.2,529.5v2.5M460.4,530.0v1.5M462.2,530.0v1.5M463.5,530.0v1.5M464.5,530.0v1.5M467.7,529.5v2.5M470.9,530.0v1.5M472.7,530.0v1.5M474.0,530.0v1.5M475.0,530.0v1.5M478.2,529.5v2.5M481.4,530.0v1.5M483.2,530.0v1.5M484.5,530.0v1.5M485.5,530.0v1.5M488.7,529.5v2.5M491.9,530.0v1.5M493.7,530.0v1.5M495.0,530.0v1.5M496.0,530.0v1.5M499.2,529.5v2.5M502.4,530.0v1.5M504.2,530.0v1.5M505.5,530.0v1.5M506.5,530.0v1.5M509.7,529.5v2.5" stroke="#000" stroke-width="0.6"/>
<text x="492.0" y="499.7" font-size="9.4" fill="#c0483a" textLength="16.3" lengthAdjust="spacingAndGlyphs">80%</text>
<line x1="451.2" y1="538.0" x2="481.2" y2="538.0" stroke="#000" stroke-width="1.3"/><path d="M479.2,535.3 L485.2,538.0 L479.2,540.7Z" fill="#000"/>
<text x="450.9" y="549.5" font-size="11" fill="#111" textLength="22" lengthAdjust="spacingAndGlyphs">CD93</text>
<line x1="282.2" y1="418" x2="282.2" y2="530.5" stroke="#000" stroke-width="1.3"/><path d="M279.4,421 L282.2,413.5 L285,421Z" fill="#000"/>
<g transform="translate(276.8,485.8) rotate(-90)"><text x="0" y="0" font-size="11.8" fill="#111" textLength="21.6" lengthAdjust="spacingAndGlyphs">CD34</text></g>
</svg></body></html>
